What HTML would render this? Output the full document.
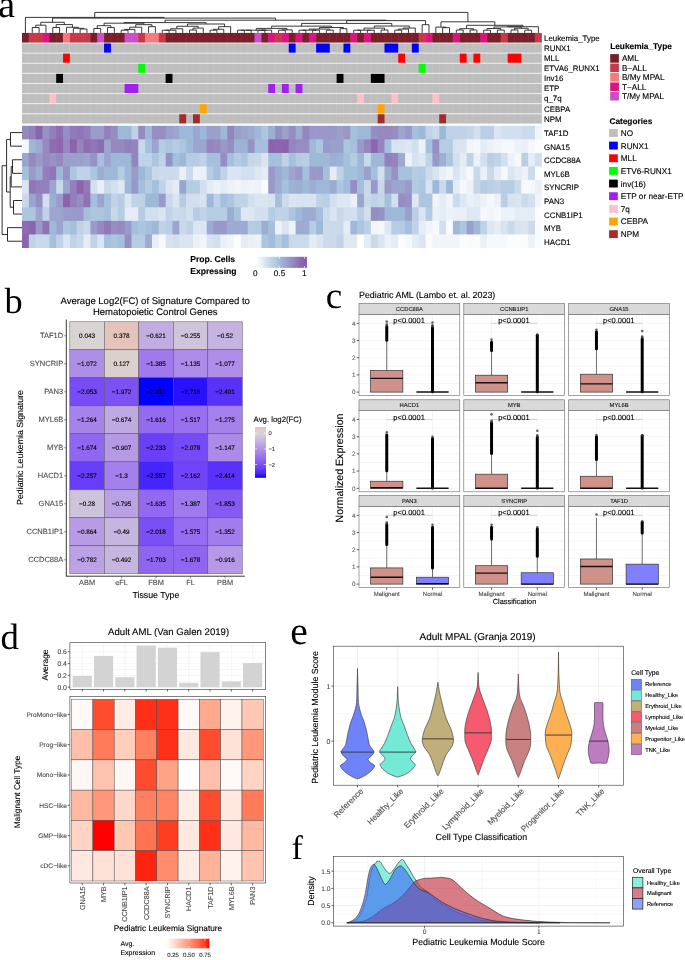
<!DOCTYPE html><html><head><meta charset="utf-8"><style>html,body{margin:0;padding:0;background:#fff;}svg{display:block;will-change:transform;text-rendering:geometricPrecision;}</style></head><body>
<svg width="685" height="960" viewBox="0 0 685 960" shape-rendering="auto">
<rect x="0" y="0" width="685" height="960" fill="#fff"/>
<path d="M32.26 32.9V27.5H39.1V32.9M35.68 27.5V25.2H45.94V32.9M52.78 32.9V27.5H59.62V32.9M80.14 32.9V29H86.98V32.9M73.3 32.9V28.3H83.56V29M66.46 32.9V27.3H78.43V28.3M56.2 27.5V24.6H72.45V27.3M40.81 25.2V22.3H64.32V24.6M93.82 32.9V28.5H100.66V32.9M107.5 32.9V27.55H114.34V32.9M97.24 28.5V25.71H110.92V27.55M121.18 32.9V30.2H128.02V32.9M124.6 30.2V29.44H134.86V32.9M129.73 29.44V27.23H141.7V32.9M148.54 32.9V26.61H155.38V32.9M135.72 27.23V24.67H151.96V26.61M104.08 25.71V23.2H143.84V24.67M162.22 32.9V30.2H169.06V32.9M165.64 30.2V30.2H175.9V32.9M170.77 30.2V28.73H182.74V32.9M189.58 32.9V30H196.42V32.9M193 30V28.09H203.26V32.9M176.75 28.73V26.29H198.13V28.09M210.1 32.9V30.2H216.94V32.9M213.52 30.2V29.29H223.78V32.9M218.65 29.29V26.66H230.62V32.9M187.44 26.29V24H224.63V26.66M123.96 23.2V22.6H206.04V24M237.46 32.9V30.2H244.3V32.9M240.88 30.2V30.2H251.14V32.9M257.98 32.9V30.2H264.82V32.9M261.4 30.2V30.2H271.66V32.9M246.01 30.2V30.2H266.53V30.2M278.5 32.9V30.2H285.34V32.9M281.92 30.2V29.93H292.18V32.9M256.27 30.2V28.42H287.05V29.93M299.02 32.9V30.2H305.86V32.9M312.7 32.9V30.2H319.54V32.9M302.44 30.2V30.13H316.12V30.2M326.38 32.9V30.2H333.22V32.9M309.28 30.13V29.07H329.8V30.2M340.06 32.9V28.65H346.9V32.9M319.54 29.07V27.52H343.48V28.65M271.66 28.42V26.14H331.51V27.52M353.74 32.9V30.2H360.58V32.9M367.42 32.9V30.2H374.26V32.9M357.16 30.2V30.2H370.84V30.2M381.1 32.9V30.01H387.94V32.9M364 30.2V28.1H384.52V30.01M394.78 32.9V30.18H401.62V32.9M398.2 30.18V29.07H408.46V32.9M403.33 29.07V28.04H415.3V32.9M374.26 28.1V26.03H409.31V28.04M301.58 26.14V23.4H391.79V26.03M422.14 32.9V24.7H428.98V32.9M346.69 23.4V20.6H425.56V24.7M165 22.6V20.2H386.12V20.6M52.57 22.3V18.1H275.56V20.2M25.42 32.9V17.4H164.06V18.1M442.66 32.9V27.7H449.5V32.9M435.82 32.9V27.1H446.08V27.7M456.34 32.9V30H463.18V32.9M470.02 32.9V30H476.86V32.9M459.76 30V28.7H473.44V30M483.7 32.9V30.2H490.54V32.9M497.38 32.9V30.08H504.22V32.9M487.12 30.2V28.5H500.8V30.08M511.06 32.9V29.98H517.9V32.9M524.74 32.9V30.2H531.58V32.9M514.48 29.98V28.3H528.16V30.2M493.96 28.5V26.9H521.32V28.3M507.64 26.9V26.7H538.42V32.9M466.6 28.7V25.3H523.03V26.7M440.95 27.1V21.8H494.81V25.3M94.74 17.4V12.4H467.88V21.8" fill="none" stroke="#222" stroke-width="0.9"/>
<text x="-1.8" y="16.6" font-size="38" text-anchor="start" font-weight="normal" fill="#000" font-family='"Liberation Serif", serif'>a</text>
<rect x="22" y="32.9" width="7.54" height="10.11" fill="#7a1e2a"/>
<rect x="28.84" y="32.9" width="7.54" height="10.11" fill="#c8374a"/>
<rect x="35.68" y="32.9" width="7.54" height="10.11" fill="#c8374a"/>
<rect x="42.52" y="32.9" width="7.54" height="10.11" fill="#de137f"/>
<rect x="49.36" y="32.9" width="7.54" height="10.11" fill="#7a1e2a"/>
<rect x="56.2" y="32.9" width="7.54" height="10.11" fill="#7a1e2a"/>
<rect x="63.04" y="32.9" width="7.54" height="10.11" fill="#f37b7d"/>
<rect x="69.88" y="32.9" width="7.54" height="10.11" fill="#c8374a"/>
<rect x="76.72" y="32.9" width="7.54" height="10.11" fill="#c8374a"/>
<rect x="83.56" y="32.9" width="7.54" height="10.11" fill="#c8374a"/>
<rect x="90.4" y="32.9" width="7.54" height="10.11" fill="#7a1e2a"/>
<rect x="97.24" y="32.9" width="7.54" height="10.11" fill="#cc4ec8"/>
<rect x="104.08" y="32.9" width="7.54" height="10.11" fill="#7a1e2a"/>
<rect x="110.92" y="32.9" width="7.54" height="10.11" fill="#7a1e2a"/>
<rect x="117.76" y="32.9" width="7.54" height="10.11" fill="#7a1e2a"/>
<rect x="124.6" y="32.9" width="7.54" height="10.11" fill="#cc4ec8"/>
<rect x="131.44" y="32.9" width="7.54" height="10.11" fill="#cc4ec8"/>
<rect x="138.28" y="32.9" width="7.54" height="10.11" fill="#c8374a"/>
<rect x="145.12" y="32.9" width="7.54" height="10.11" fill="#f37b7d"/>
<rect x="151.96" y="32.9" width="7.54" height="10.11" fill="#f37b7d"/>
<rect x="158.8" y="32.9" width="7.54" height="10.11" fill="#c8374a"/>
<rect x="165.64" y="32.9" width="7.54" height="10.11" fill="#7a1e2a"/>
<rect x="172.48" y="32.9" width="7.54" height="10.11" fill="#7a1e2a"/>
<rect x="179.32" y="32.9" width="7.54" height="10.11" fill="#7a1e2a"/>
<rect x="186.16" y="32.9" width="7.54" height="10.11" fill="#7a1e2a"/>
<rect x="193" y="32.9" width="7.54" height="10.11" fill="#7a1e2a"/>
<rect x="199.84" y="32.9" width="7.54" height="10.11" fill="#7a1e2a"/>
<rect x="206.68" y="32.9" width="7.54" height="10.11" fill="#7a1e2a"/>
<rect x="213.52" y="32.9" width="7.54" height="10.11" fill="#7a1e2a"/>
<rect x="220.36" y="32.9" width="7.54" height="10.11" fill="#7a1e2a"/>
<rect x="227.2" y="32.9" width="7.54" height="10.11" fill="#7a1e2a"/>
<rect x="234.04" y="32.9" width="7.54" height="10.11" fill="#7a1e2a"/>
<rect x="240.88" y="32.9" width="7.54" height="10.11" fill="#7a1e2a"/>
<rect x="247.72" y="32.9" width="7.54" height="10.11" fill="#7a1e2a"/>
<rect x="254.56" y="32.9" width="7.54" height="10.11" fill="#cc4ec8"/>
<rect x="261.4" y="32.9" width="7.54" height="10.11" fill="#7a1e2a"/>
<rect x="268.24" y="32.9" width="7.54" height="10.11" fill="#de137f"/>
<rect x="275.08" y="32.9" width="7.54" height="10.11" fill="#c8374a"/>
<rect x="281.92" y="32.9" width="7.54" height="10.11" fill="#de137f"/>
<rect x="288.76" y="32.9" width="7.54" height="10.11" fill="#7a1e2a"/>
<rect x="295.6" y="32.9" width="7.54" height="10.11" fill="#de137f"/>
<rect x="302.44" y="32.9" width="7.54" height="10.11" fill="#7a1e2a"/>
<rect x="309.28" y="32.9" width="7.54" height="10.11" fill="#de137f"/>
<rect x="316.12" y="32.9" width="7.54" height="10.11" fill="#7a1e2a"/>
<rect x="322.96" y="32.9" width="7.54" height="10.11" fill="#7a1e2a"/>
<rect x="329.8" y="32.9" width="7.54" height="10.11" fill="#7a1e2a"/>
<rect x="336.64" y="32.9" width="7.54" height="10.11" fill="#7a1e2a"/>
<rect x="343.48" y="32.9" width="7.54" height="10.11" fill="#7a1e2a"/>
<rect x="350.32" y="32.9" width="7.54" height="10.11" fill="#de137f"/>
<rect x="357.16" y="32.9" width="7.54" height="10.11" fill="#7a1e2a"/>
<rect x="364" y="32.9" width="7.54" height="10.11" fill="#de137f"/>
<rect x="370.84" y="32.9" width="7.54" height="10.11" fill="#7a1e2a"/>
<rect x="377.68" y="32.9" width="7.54" height="10.11" fill="#7a1e2a"/>
<rect x="384.52" y="32.9" width="7.54" height="10.11" fill="#7a1e2a"/>
<rect x="391.36" y="32.9" width="7.54" height="10.11" fill="#7a1e2a"/>
<rect x="398.2" y="32.9" width="7.54" height="10.11" fill="#7a1e2a"/>
<rect x="405.04" y="32.9" width="7.54" height="10.11" fill="#7a1e2a"/>
<rect x="411.88" y="32.9" width="7.54" height="10.11" fill="#7a1e2a"/>
<rect x="418.72" y="32.9" width="7.54" height="10.11" fill="#c8374a"/>
<rect x="425.56" y="32.9" width="7.54" height="10.11" fill="#de137f"/>
<rect x="432.4" y="32.9" width="7.54" height="10.11" fill="#7a1e2a"/>
<rect x="439.24" y="32.9" width="7.54" height="10.11" fill="#7a1e2a"/>
<rect x="446.08" y="32.9" width="7.54" height="10.11" fill="#7a1e2a"/>
<rect x="452.92" y="32.9" width="7.54" height="10.11" fill="#de137f"/>
<rect x="459.76" y="32.9" width="7.54" height="10.11" fill="#7a1e2a"/>
<rect x="466.6" y="32.9" width="7.54" height="10.11" fill="#7a1e2a"/>
<rect x="473.44" y="32.9" width="7.54" height="10.11" fill="#7a1e2a"/>
<rect x="480.28" y="32.9" width="7.54" height="10.11" fill="#de137f"/>
<rect x="487.12" y="32.9" width="7.54" height="10.11" fill="#7a1e2a"/>
<rect x="493.96" y="32.9" width="7.54" height="10.11" fill="#7a1e2a"/>
<rect x="500.8" y="32.9" width="7.54" height="10.11" fill="#c8374a"/>
<rect x="507.64" y="32.9" width="7.54" height="10.11" fill="#7a1e2a"/>
<rect x="514.48" y="32.9" width="7.54" height="10.11" fill="#7a1e2a"/>
<rect x="521.32" y="32.9" width="7.54" height="10.11" fill="#7a1e2a"/>
<rect x="528.16" y="32.9" width="7.54" height="10.11" fill="#7a1e2a"/>
<rect x="535" y="32.9" width="6.84" height="10.11" fill="#c8374a"/>
<rect x="22" y="43.01" width="519.84" height="10.11" fill="#bebebe"/>
<rect x="104.08" y="43.01" width="6.84" height="10.11" fill="#0000ff"/>
<rect x="288.76" y="43.01" width="6.84" height="10.11" fill="#0000ff"/>
<rect x="316.12" y="43.01" width="13.68" height="10.11" fill="#0000ff"/>
<rect x="343.48" y="43.01" width="6.84" height="10.11" fill="#0000ff"/>
<rect x="384.52" y="43.01" width="13.68" height="10.11" fill="#0000ff"/>
<rect x="411.88" y="43.01" width="6.84" height="10.11" fill="#0000ff"/>
<rect x="22" y="53.12" width="519.84" height="10.11" fill="#bebebe"/>
<rect x="63.04" y="53.12" width="6.84" height="10.11" fill="#ff0000"/>
<rect x="398.2" y="53.12" width="6.84" height="10.11" fill="#ff0000"/>
<rect x="459.76" y="53.12" width="6.84" height="10.11" fill="#ff0000"/>
<rect x="473.44" y="53.12" width="6.84" height="10.11" fill="#ff0000"/>
<rect x="507.64" y="53.12" width="13.68" height="10.11" fill="#ff0000"/>
<rect x="22" y="63.23" width="519.84" height="10.11" fill="#bebebe"/>
<rect x="138.28" y="63.23" width="6.84" height="10.11" fill="#00ff00"/>
<rect x="418.72" y="63.23" width="6.84" height="10.11" fill="#00ff00"/>
<rect x="22" y="73.34" width="519.84" height="10.11" fill="#bebebe"/>
<rect x="56.2" y="73.34" width="6.84" height="10.11" fill="#000000"/>
<rect x="165.64" y="73.34" width="6.84" height="10.11" fill="#000000"/>
<rect x="336.64" y="73.34" width="6.84" height="10.11" fill="#000000"/>
<rect x="370.84" y="73.34" width="13.68" height="10.11" fill="#000000"/>
<rect x="22" y="83.45" width="519.84" height="10.11" fill="#bebebe"/>
<rect x="124.6" y="83.45" width="13.68" height="10.11" fill="#a020f0"/>
<rect x="268.24" y="83.45" width="6.84" height="10.11" fill="#a020f0"/>
<rect x="281.92" y="83.45" width="6.84" height="10.11" fill="#a020f0"/>
<rect x="295.6" y="83.45" width="6.84" height="10.11" fill="#a020f0"/>
<rect x="22" y="93.56" width="519.84" height="10.11" fill="#bebebe"/>
<rect x="49.36" y="93.56" width="6.84" height="10.11" fill="#ffc0cb"/>
<rect x="357.16" y="93.56" width="6.84" height="10.11" fill="#ffc0cb"/>
<rect x="391.36" y="93.56" width="6.84" height="10.11" fill="#ffc0cb"/>
<rect x="432.4" y="93.56" width="6.84" height="10.11" fill="#ffc0cb"/>
<rect x="22" y="103.67" width="519.84" height="10.11" fill="#bebebe"/>
<rect x="199.84" y="103.67" width="6.84" height="10.11" fill="#ffa500"/>
<rect x="377.68" y="103.67" width="6.84" height="10.11" fill="#ffa500"/>
<rect x="22" y="113.78" width="519.84" height="10.11" fill="#bebebe"/>
<rect x="179.32" y="113.78" width="6.84" height="10.11" fill="#a52a2a"/>
<rect x="193" y="113.78" width="6.84" height="10.11" fill="#a52a2a"/>
<rect x="377.68" y="113.78" width="6.84" height="10.11" fill="#a52a2a"/>
<rect x="439.24" y="113.78" width="6.84" height="10.11" fill="#a52a2a"/>
<path d="M28.84 32.9V43.01M35.68 32.9V43.01M42.52 32.9V43.01M49.36 32.9V43.01M56.2 32.9V43.01M63.04 32.9V43.01M69.88 32.9V43.01M76.72 32.9V43.01M83.56 32.9V43.01M90.4 32.9V43.01M97.24 32.9V43.01M104.08 32.9V43.01M110.92 32.9V43.01M117.76 32.9V43.01M124.6 32.9V43.01M131.44 32.9V43.01M138.28 32.9V43.01M145.12 32.9V43.01M151.96 32.9V43.01M158.8 32.9V43.01M165.64 32.9V43.01M172.48 32.9V43.01M179.32 32.9V43.01M186.16 32.9V43.01M193 32.9V43.01M199.84 32.9V43.01M206.68 32.9V43.01M213.52 32.9V43.01M220.36 32.9V43.01M227.2 32.9V43.01M234.04 32.9V43.01M240.88 32.9V43.01M247.72 32.9V43.01M254.56 32.9V43.01M261.4 32.9V43.01M268.24 32.9V43.01M275.08 32.9V43.01M281.92 32.9V43.01M288.76 32.9V43.01M295.6 32.9V43.01M302.44 32.9V43.01M309.28 32.9V43.01M316.12 32.9V43.01M322.96 32.9V43.01M329.8 32.9V43.01M336.64 32.9V43.01M343.48 32.9V43.01M350.32 32.9V43.01M357.16 32.9V43.01M364 32.9V43.01M370.84 32.9V43.01M377.68 32.9V43.01M384.52 32.9V43.01M391.36 32.9V43.01M398.2 32.9V43.01M405.04 32.9V43.01M411.88 32.9V43.01M418.72 32.9V43.01M425.56 32.9V43.01M432.4 32.9V43.01M439.24 32.9V43.01M446.08 32.9V43.01M452.92 32.9V43.01M459.76 32.9V43.01M466.6 32.9V43.01M473.44 32.9V43.01M480.28 32.9V43.01M487.12 32.9V43.01M493.96 32.9V43.01M500.8 32.9V43.01M507.64 32.9V43.01M514.48 32.9V43.01M521.32 32.9V43.01M528.16 32.9V43.01M535 32.9V43.01" fill="none" stroke="#ffffff" stroke-width="0.4" stroke-opacity="0.12"/>
<path d="M28.84 43.01V53.12M35.68 43.01V53.12M42.52 43.01V53.12M49.36 43.01V53.12M56.2 43.01V53.12M63.04 43.01V53.12M69.88 43.01V53.12M76.72 43.01V53.12M83.56 43.01V53.12M90.4 43.01V53.12M97.24 43.01V53.12M117.76 43.01V53.12M124.6 43.01V53.12M131.44 43.01V53.12M138.28 43.01V53.12M145.12 43.01V53.12M151.96 43.01V53.12M158.8 43.01V53.12M165.64 43.01V53.12M172.48 43.01V53.12M179.32 43.01V53.12M186.16 43.01V53.12M193 43.01V53.12M199.84 43.01V53.12M206.68 43.01V53.12M213.52 43.01V53.12M220.36 43.01V53.12M227.2 43.01V53.12M234.04 43.01V53.12M240.88 43.01V53.12M247.72 43.01V53.12M254.56 43.01V53.12M261.4 43.01V53.12M268.24 43.01V53.12M275.08 43.01V53.12M281.92 43.01V53.12M302.44 43.01V53.12M309.28 43.01V53.12M336.64 43.01V53.12M357.16 43.01V53.12M364 43.01V53.12M370.84 43.01V53.12M377.68 43.01V53.12M405.04 43.01V53.12M425.56 43.01V53.12M432.4 43.01V53.12M439.24 43.01V53.12M446.08 43.01V53.12M452.92 43.01V53.12M459.76 43.01V53.12M466.6 43.01V53.12M473.44 43.01V53.12M480.28 43.01V53.12M487.12 43.01V53.12M493.96 43.01V53.12M500.8 43.01V53.12M507.64 43.01V53.12M514.48 43.01V53.12M521.32 43.01V53.12M528.16 43.01V53.12M535 43.01V53.12M28.84 53.12V63.23M35.68 53.12V63.23M42.52 53.12V63.23M49.36 53.12V63.23M56.2 53.12V63.23M76.72 53.12V63.23M83.56 53.12V63.23M90.4 53.12V63.23M97.24 53.12V63.23M104.08 53.12V63.23M110.92 53.12V63.23M117.76 53.12V63.23M124.6 53.12V63.23M131.44 53.12V63.23M138.28 53.12V63.23M145.12 53.12V63.23M151.96 53.12V63.23M158.8 53.12V63.23M165.64 53.12V63.23M172.48 53.12V63.23M179.32 53.12V63.23M186.16 53.12V63.23M193 53.12V63.23M199.84 53.12V63.23M206.68 53.12V63.23M213.52 53.12V63.23M220.36 53.12V63.23M227.2 53.12V63.23M234.04 53.12V63.23M240.88 53.12V63.23M247.72 53.12V63.23M254.56 53.12V63.23M261.4 53.12V63.23M268.24 53.12V63.23M275.08 53.12V63.23M281.92 53.12V63.23M288.76 53.12V63.23M295.6 53.12V63.23M302.44 53.12V63.23M309.28 53.12V63.23M316.12 53.12V63.23M322.96 53.12V63.23M329.8 53.12V63.23M336.64 53.12V63.23M343.48 53.12V63.23M350.32 53.12V63.23M357.16 53.12V63.23M364 53.12V63.23M370.84 53.12V63.23M377.68 53.12V63.23M384.52 53.12V63.23M391.36 53.12V63.23M411.88 53.12V63.23M418.72 53.12V63.23M425.56 53.12V63.23M432.4 53.12V63.23M439.24 53.12V63.23M446.08 53.12V63.23M452.92 53.12V63.23M487.12 53.12V63.23M493.96 53.12V63.23M500.8 53.12V63.23M528.16 53.12V63.23M535 53.12V63.23M28.84 63.23V73.34M35.68 63.23V73.34M42.52 63.23V73.34M49.36 63.23V73.34M56.2 63.23V73.34M63.04 63.23V73.34M69.88 63.23V73.34M76.72 63.23V73.34M83.56 63.23V73.34M90.4 63.23V73.34M97.24 63.23V73.34M104.08 63.23V73.34M110.92 63.23V73.34M117.76 63.23V73.34M124.6 63.23V73.34M131.44 63.23V73.34M151.96 63.23V73.34M158.8 63.23V73.34M165.64 63.23V73.34M172.48 63.23V73.34M179.32 63.23V73.34M186.16 63.23V73.34M193 63.23V73.34M199.84 63.23V73.34M206.68 63.23V73.34M213.52 63.23V73.34M220.36 63.23V73.34M227.2 63.23V73.34M234.04 63.23V73.34M240.88 63.23V73.34M247.72 63.23V73.34M254.56 63.23V73.34M261.4 63.23V73.34M268.24 63.23V73.34M275.08 63.23V73.34M281.92 63.23V73.34M288.76 63.23V73.34M295.6 63.23V73.34M302.44 63.23V73.34M309.28 63.23V73.34M316.12 63.23V73.34M322.96 63.23V73.34M329.8 63.23V73.34M336.64 63.23V73.34M343.48 63.23V73.34M350.32 63.23V73.34M357.16 63.23V73.34M364 63.23V73.34M370.84 63.23V73.34M377.68 63.23V73.34M384.52 63.23V73.34M391.36 63.23V73.34M398.2 63.23V73.34M405.04 63.23V73.34M411.88 63.23V73.34M432.4 63.23V73.34M439.24 63.23V73.34M446.08 63.23V73.34M452.92 63.23V73.34M459.76 63.23V73.34M466.6 63.23V73.34M473.44 63.23V73.34M480.28 63.23V73.34M487.12 63.23V73.34M493.96 63.23V73.34M500.8 63.23V73.34M507.64 63.23V73.34M514.48 63.23V73.34M521.32 63.23V73.34M528.16 63.23V73.34M535 63.23V73.34M28.84 73.34V83.45M35.68 73.34V83.45M42.52 73.34V83.45M49.36 73.34V83.45M69.88 73.34V83.45M76.72 73.34V83.45M83.56 73.34V83.45M90.4 73.34V83.45M97.24 73.34V83.45M104.08 73.34V83.45M110.92 73.34V83.45M117.76 73.34V83.45M124.6 73.34V83.45M131.44 73.34V83.45M138.28 73.34V83.45M145.12 73.34V83.45M151.96 73.34V83.45M158.8 73.34V83.45M179.32 73.34V83.45M186.16 73.34V83.45M193 73.34V83.45M199.84 73.34V83.45M206.68 73.34V83.45M213.52 73.34V83.45M220.36 73.34V83.45M227.2 73.34V83.45M234.04 73.34V83.45M240.88 73.34V83.45M247.72 73.34V83.45M254.56 73.34V83.45M261.4 73.34V83.45M268.24 73.34V83.45M275.08 73.34V83.45M281.92 73.34V83.45M288.76 73.34V83.45M295.6 73.34V83.45M302.44 73.34V83.45M309.28 73.34V83.45M316.12 73.34V83.45M322.96 73.34V83.45M329.8 73.34V83.45M350.32 73.34V83.45M357.16 73.34V83.45M364 73.34V83.45M391.36 73.34V83.45M398.2 73.34V83.45M405.04 73.34V83.45M411.88 73.34V83.45M418.72 73.34V83.45M425.56 73.34V83.45M432.4 73.34V83.45M439.24 73.34V83.45M446.08 73.34V83.45M452.92 73.34V83.45M459.76 73.34V83.45M466.6 73.34V83.45M473.44 73.34V83.45M480.28 73.34V83.45M487.12 73.34V83.45M493.96 73.34V83.45M500.8 73.34V83.45M507.64 73.34V83.45M514.48 73.34V83.45M521.32 73.34V83.45M528.16 73.34V83.45M535 73.34V83.45M28.84 83.45V93.56M35.68 83.45V93.56M42.52 83.45V93.56M49.36 83.45V93.56M56.2 83.45V93.56M63.04 83.45V93.56M69.88 83.45V93.56M76.72 83.45V93.56M83.56 83.45V93.56M90.4 83.45V93.56M97.24 83.45V93.56M104.08 83.45V93.56M110.92 83.45V93.56M117.76 83.45V93.56M145.12 83.45V93.56M151.96 83.45V93.56M158.8 83.45V93.56M165.64 83.45V93.56M172.48 83.45V93.56M179.32 83.45V93.56M186.16 83.45V93.56M193 83.45V93.56M199.84 83.45V93.56M206.68 83.45V93.56M213.52 83.45V93.56M220.36 83.45V93.56M227.2 83.45V93.56M234.04 83.45V93.56M240.88 83.45V93.56M247.72 83.45V93.56M254.56 83.45V93.56M261.4 83.45V93.56M309.28 83.45V93.56M316.12 83.45V93.56M322.96 83.45V93.56M329.8 83.45V93.56M336.64 83.45V93.56M343.48 83.45V93.56M350.32 83.45V93.56M357.16 83.45V93.56M364 83.45V93.56M370.84 83.45V93.56M377.68 83.45V93.56M384.52 83.45V93.56M391.36 83.45V93.56M398.2 83.45V93.56M405.04 83.45V93.56M411.88 83.45V93.56M418.72 83.45V93.56M425.56 83.45V93.56M432.4 83.45V93.56M439.24 83.45V93.56M446.08 83.45V93.56M452.92 83.45V93.56M459.76 83.45V93.56M466.6 83.45V93.56M473.44 83.45V93.56M480.28 83.45V93.56M487.12 83.45V93.56M493.96 83.45V93.56M500.8 83.45V93.56M507.64 83.45V93.56M514.48 83.45V93.56M521.32 83.45V93.56M528.16 83.45V93.56M535 83.45V93.56M28.84 93.56V103.67M35.68 93.56V103.67M42.52 93.56V103.67M63.04 93.56V103.67M69.88 93.56V103.67M76.72 93.56V103.67M83.56 93.56V103.67M90.4 93.56V103.67M97.24 93.56V103.67M104.08 93.56V103.67M110.92 93.56V103.67M117.76 93.56V103.67M124.6 93.56V103.67M131.44 93.56V103.67M138.28 93.56V103.67M145.12 93.56V103.67M151.96 93.56V103.67M158.8 93.56V103.67M165.64 93.56V103.67M172.48 93.56V103.67M179.32 93.56V103.67M186.16 93.56V103.67M193 93.56V103.67M199.84 93.56V103.67M206.68 93.56V103.67M213.52 93.56V103.67M220.36 93.56V103.67M227.2 93.56V103.67M234.04 93.56V103.67M240.88 93.56V103.67M247.72 93.56V103.67M254.56 93.56V103.67M261.4 93.56V103.67M268.24 93.56V103.67M275.08 93.56V103.67M281.92 93.56V103.67M288.76 93.56V103.67M295.6 93.56V103.67M302.44 93.56V103.67M309.28 93.56V103.67M316.12 93.56V103.67M322.96 93.56V103.67M329.8 93.56V103.67M336.64 93.56V103.67M343.48 93.56V103.67M350.32 93.56V103.67M370.84 93.56V103.67M377.68 93.56V103.67M384.52 93.56V103.67M405.04 93.56V103.67M411.88 93.56V103.67M418.72 93.56V103.67M425.56 93.56V103.67M446.08 93.56V103.67M452.92 93.56V103.67M459.76 93.56V103.67M466.6 93.56V103.67M473.44 93.56V103.67M480.28 93.56V103.67M487.12 93.56V103.67M493.96 93.56V103.67M500.8 93.56V103.67M507.64 93.56V103.67M514.48 93.56V103.67M521.32 93.56V103.67M528.16 93.56V103.67M535 93.56V103.67M28.84 103.67V113.78M35.68 103.67V113.78M42.52 103.67V113.78M49.36 103.67V113.78M56.2 103.67V113.78M63.04 103.67V113.78M69.88 103.67V113.78M76.72 103.67V113.78M83.56 103.67V113.78M90.4 103.67V113.78M97.24 103.67V113.78M104.08 103.67V113.78M110.92 103.67V113.78M117.76 103.67V113.78M124.6 103.67V113.78M131.44 103.67V113.78M138.28 103.67V113.78M145.12 103.67V113.78M151.96 103.67V113.78M158.8 103.67V113.78M165.64 103.67V113.78M172.48 103.67V113.78M179.32 103.67V113.78M186.16 103.67V113.78M193 103.67V113.78M213.52 103.67V113.78M220.36 103.67V113.78M227.2 103.67V113.78M234.04 103.67V113.78M240.88 103.67V113.78M247.72 103.67V113.78M254.56 103.67V113.78M261.4 103.67V113.78M268.24 103.67V113.78M275.08 103.67V113.78M281.92 103.67V113.78M288.76 103.67V113.78M295.6 103.67V113.78M302.44 103.67V113.78M309.28 103.67V113.78M316.12 103.67V113.78M322.96 103.67V113.78M329.8 103.67V113.78M336.64 103.67V113.78M343.48 103.67V113.78M350.32 103.67V113.78M357.16 103.67V113.78M364 103.67V113.78M370.84 103.67V113.78M391.36 103.67V113.78M398.2 103.67V113.78M405.04 103.67V113.78M411.88 103.67V113.78M418.72 103.67V113.78M425.56 103.67V113.78M432.4 103.67V113.78M439.24 103.67V113.78M446.08 103.67V113.78M452.92 103.67V113.78M459.76 103.67V113.78M466.6 103.67V113.78M473.44 103.67V113.78M480.28 103.67V113.78M487.12 103.67V113.78M493.96 103.67V113.78M500.8 103.67V113.78M507.64 103.67V113.78M514.48 103.67V113.78M521.32 103.67V113.78M528.16 103.67V113.78M535 103.67V113.78M28.84 113.78V123.89M35.68 113.78V123.89M42.52 113.78V123.89M49.36 113.78V123.89M56.2 113.78V123.89M63.04 113.78V123.89M69.88 113.78V123.89M76.72 113.78V123.89M83.56 113.78V123.89M90.4 113.78V123.89M97.24 113.78V123.89M104.08 113.78V123.89M110.92 113.78V123.89M117.76 113.78V123.89M124.6 113.78V123.89M131.44 113.78V123.89M138.28 113.78V123.89M145.12 113.78V123.89M151.96 113.78V123.89M158.8 113.78V123.89M165.64 113.78V123.89M172.48 113.78V123.89M206.68 113.78V123.89M213.52 113.78V123.89M220.36 113.78V123.89M227.2 113.78V123.89M234.04 113.78V123.89M240.88 113.78V123.89M247.72 113.78V123.89M254.56 113.78V123.89M261.4 113.78V123.89M268.24 113.78V123.89M275.08 113.78V123.89M281.92 113.78V123.89M288.76 113.78V123.89M295.6 113.78V123.89M302.44 113.78V123.89M309.28 113.78V123.89M316.12 113.78V123.89M322.96 113.78V123.89M329.8 113.78V123.89M336.64 113.78V123.89M343.48 113.78V123.89M350.32 113.78V123.89M357.16 113.78V123.89M364 113.78V123.89M370.84 113.78V123.89M391.36 113.78V123.89M398.2 113.78V123.89M405.04 113.78V123.89M411.88 113.78V123.89M418.72 113.78V123.89M425.56 113.78V123.89M432.4 113.78V123.89M452.92 113.78V123.89M459.76 113.78V123.89M466.6 113.78V123.89M473.44 113.78V123.89M480.28 113.78V123.89M487.12 113.78V123.89M493.96 113.78V123.89M500.8 113.78V123.89M507.64 113.78V123.89M514.48 113.78V123.89M521.32 113.78V123.89M528.16 113.78V123.89M535 113.78V123.89" fill="none" stroke="#ffffff" stroke-width="0.4" stroke-opacity="0.2"/>
<path d="M22 43.01H541.84M22 53.12H541.84M22 63.23H541.84M22 73.34H541.84M22 83.45H541.84M22 93.56H541.84M22 103.67H541.84M22 113.78H541.84M22 123.89H541.84" fill="none" stroke="#f2f2f2" stroke-width="0.9"/>
<rect x="22" y="125.8" width="7.54" height="14.28" fill="#9589c0"/>
<rect x="28.84" y="125.8" width="7.54" height="14.28" fill="#937fbb"/>
<rect x="35.68" y="125.8" width="7.54" height="14.28" fill="#8c63ad"/>
<rect x="42.52" y="125.8" width="7.54" height="14.28" fill="#9792c5"/>
<rect x="49.36" y="125.8" width="7.54" height="14.28" fill="#937fbb"/>
<rect x="56.2" y="125.8" width="7.54" height="14.28" fill="#8e6cb2"/>
<rect x="63.04" y="125.8" width="7.54" height="14.28" fill="#968dc2"/>
<rect x="69.88" y="125.8" width="7.54" height="14.28" fill="#927ab9"/>
<rect x="76.72" y="125.8" width="7.54" height="14.28" fill="#9176b7"/>
<rect x="83.56" y="125.8" width="7.54" height="14.28" fill="#937fbb"/>
<rect x="90.4" y="125.8" width="7.54" height="14.28" fill="#999cca"/>
<rect x="97.24" y="125.8" width="7.54" height="14.28" fill="#999cca"/>
<rect x="104.08" y="125.8" width="7.54" height="14.28" fill="#937fbb"/>
<rect x="110.92" y="125.8" width="7.54" height="14.28" fill="#968dc2"/>
<rect x="117.76" y="125.8" width="7.54" height="14.28" fill="#9eb9d8"/>
<rect x="124.6" y="125.8" width="7.54" height="14.28" fill="#9eb9d8"/>
<rect x="131.44" y="125.8" width="7.54" height="14.28" fill="#c0d2e7"/>
<rect x="138.28" y="125.8" width="7.54" height="14.28" fill="#9589c0"/>
<rect x="145.12" y="125.8" width="7.54" height="14.28" fill="#9eb9d8"/>
<rect x="151.96" y="125.8" width="7.54" height="14.28" fill="#968dc2"/>
<rect x="158.8" y="125.8" width="7.54" height="14.28" fill="#968dc2"/>
<rect x="165.64" y="125.8" width="7.54" height="14.28" fill="#9aa0cc"/>
<rect x="172.48" y="125.8" width="7.54" height="14.28" fill="#9ba5cf"/>
<rect x="179.32" y="125.8" width="7.54" height="14.28" fill="#9eb9d8"/>
<rect x="186.16" y="125.8" width="7.54" height="14.28" fill="#9eb9d8"/>
<rect x="193" y="125.8" width="7.54" height="14.28" fill="#9ba5cf"/>
<rect x="199.84" y="125.8" width="7.54" height="14.28" fill="#9eb9d8"/>
<rect x="206.68" y="125.8" width="7.54" height="14.28" fill="#9aa0cc"/>
<rect x="213.52" y="125.8" width="7.54" height="14.28" fill="#9aa0cc"/>
<rect x="220.36" y="125.8" width="7.54" height="14.28" fill="#9eb9d8"/>
<rect x="227.2" y="125.8" width="7.54" height="14.28" fill="#9585be"/>
<rect x="234.04" y="125.8" width="7.54" height="14.28" fill="#9aa0cc"/>
<rect x="240.88" y="125.8" width="7.54" height="14.28" fill="#9ba5cf"/>
<rect x="247.72" y="125.8" width="7.54" height="14.28" fill="#9cabd2"/>
<rect x="254.56" y="125.8" width="7.54" height="14.28" fill="#9eb9d8"/>
<rect x="261.4" y="125.8" width="7.54" height="14.28" fill="#adc6e0"/>
<rect x="268.24" y="125.8" width="7.54" height="14.28" fill="#9cafd3"/>
<rect x="275.08" y="125.8" width="7.54" height="14.28" fill="#968dc2"/>
<rect x="281.92" y="125.8" width="7.54" height="14.28" fill="#9aa0cc"/>
<rect x="288.76" y="125.8" width="7.54" height="14.28" fill="#968dc2"/>
<rect x="295.6" y="125.8" width="7.54" height="14.28" fill="#9cabd2"/>
<rect x="302.44" y="125.8" width="7.54" height="14.28" fill="#9585be"/>
<rect x="309.28" y="125.8" width="7.54" height="14.28" fill="#9998c8"/>
<rect x="316.12" y="125.8" width="7.54" height="14.28" fill="#9998c8"/>
<rect x="322.96" y="125.8" width="7.54" height="14.28" fill="#9998c8"/>
<rect x="329.8" y="125.8" width="7.54" height="14.28" fill="#9998c8"/>
<rect x="336.64" y="125.8" width="7.54" height="14.28" fill="#9aa0cc"/>
<rect x="343.48" y="125.8" width="7.54" height="14.28" fill="#9998c8"/>
<rect x="350.32" y="125.8" width="7.54" height="14.28" fill="#a4c0dc"/>
<rect x="357.16" y="125.8" width="7.54" height="14.28" fill="#9eb9d8"/>
<rect x="364" y="125.8" width="7.54" height="14.28" fill="#9eb9d8"/>
<rect x="370.84" y="125.8" width="7.54" height="14.28" fill="#968dc2"/>
<rect x="377.68" y="125.8" width="7.54" height="14.28" fill="#9589c0"/>
<rect x="384.52" y="125.8" width="7.54" height="14.28" fill="#9589c0"/>
<rect x="391.36" y="125.8" width="7.54" height="14.28" fill="#968dc2"/>
<rect x="398.2" y="125.8" width="7.54" height="14.28" fill="#9ba5cf"/>
<rect x="405.04" y="125.8" width="7.54" height="14.28" fill="#9998c8"/>
<rect x="411.88" y="125.8" width="7.54" height="14.28" fill="#a4c0dc"/>
<rect x="418.72" y="125.8" width="7.54" height="14.28" fill="#9eb9d8"/>
<rect x="425.56" y="125.8" width="7.54" height="14.28" fill="#c0d2e7"/>
<rect x="432.4" y="125.8" width="7.54" height="14.28" fill="#c9d9ea"/>
<rect x="439.24" y="125.8" width="7.54" height="14.28" fill="#9eb9d8"/>
<rect x="446.08" y="125.8" width="7.54" height="14.28" fill="#c0d2e7"/>
<rect x="452.92" y="125.8" width="7.54" height="14.28" fill="#c0d2e7"/>
<rect x="459.76" y="125.8" width="7.54" height="14.28" fill="#c0d2e7"/>
<rect x="466.6" y="125.8" width="7.54" height="14.28" fill="#c5d6e9"/>
<rect x="473.44" y="125.8" width="7.54" height="14.28" fill="#d2dfee"/>
<rect x="480.28" y="125.8" width="7.54" height="14.28" fill="#bacfe5"/>
<rect x="487.12" y="125.8" width="7.54" height="14.28" fill="#bacfe5"/>
<rect x="493.96" y="125.8" width="7.54" height="14.28" fill="#dbe5f1"/>
<rect x="500.8" y="125.8" width="7.54" height="14.28" fill="#d2dfee"/>
<rect x="507.64" y="125.8" width="7.54" height="14.28" fill="#d2dfee"/>
<rect x="514.48" y="125.8" width="7.54" height="14.28" fill="#d2dfee"/>
<rect x="521.32" y="125.8" width="7.54" height="14.28" fill="#ccdbec"/>
<rect x="528.16" y="125.8" width="7.54" height="14.28" fill="#ccdbec"/>
<rect x="535" y="125.8" width="6.84" height="14.28" fill="#f1f5f9"/>
<rect x="22" y="139.38" width="7.54" height="14.28" fill="#f6f9fc"/>
<rect x="28.84" y="139.38" width="7.54" height="14.28" fill="#9eb9d8"/>
<rect x="35.68" y="139.38" width="7.54" height="14.28" fill="#9cabd2"/>
<rect x="42.52" y="139.38" width="7.54" height="14.28" fill="#9589c0"/>
<rect x="49.36" y="139.38" width="7.54" height="14.28" fill="#8e6cb2"/>
<rect x="56.2" y="139.38" width="7.54" height="14.28" fill="#8d66af"/>
<rect x="63.04" y="139.38" width="7.54" height="14.28" fill="#9589c0"/>
<rect x="69.88" y="139.38" width="7.54" height="14.28" fill="#8c63ad"/>
<rect x="76.72" y="139.38" width="7.54" height="14.28" fill="#9585be"/>
<rect x="83.56" y="139.38" width="7.54" height="14.28" fill="#8e6cb2"/>
<rect x="90.4" y="139.38" width="7.54" height="14.28" fill="#9176b7"/>
<rect x="97.24" y="139.38" width="7.54" height="14.28" fill="#8e6cb2"/>
<rect x="104.08" y="139.38" width="7.54" height="14.28" fill="#9ba5cf"/>
<rect x="110.92" y="139.38" width="7.54" height="14.28" fill="#9589c0"/>
<rect x="117.76" y="139.38" width="7.54" height="14.28" fill="#9589c0"/>
<rect x="124.6" y="139.38" width="7.54" height="14.28" fill="#937fbb"/>
<rect x="131.44" y="139.38" width="7.54" height="14.28" fill="#9585be"/>
<rect x="138.28" y="139.38" width="7.54" height="14.28" fill="#c9d9ea"/>
<rect x="145.12" y="139.38" width="7.54" height="14.28" fill="#a4c0dc"/>
<rect x="151.96" y="139.38" width="7.54" height="14.28" fill="#9ba5cf"/>
<rect x="158.8" y="139.38" width="7.54" height="14.28" fill="#b6cce3"/>
<rect x="165.64" y="139.38" width="7.54" height="14.28" fill="#adc6e0"/>
<rect x="172.48" y="139.38" width="7.54" height="14.28" fill="#b6cce3"/>
<rect x="179.32" y="139.38" width="7.54" height="14.28" fill="#adc6e0"/>
<rect x="186.16" y="139.38" width="7.54" height="14.28" fill="#9eb9d8"/>
<rect x="193" y="139.38" width="7.54" height="14.28" fill="#9ba5cf"/>
<rect x="199.84" y="139.38" width="7.54" height="14.28" fill="#9ba5cf"/>
<rect x="206.68" y="139.38" width="7.54" height="14.28" fill="#9585be"/>
<rect x="213.52" y="139.38" width="7.54" height="14.28" fill="#9589c0"/>
<rect x="220.36" y="139.38" width="7.54" height="14.28" fill="#9998c8"/>
<rect x="227.2" y="139.38" width="7.54" height="14.28" fill="#968dc2"/>
<rect x="234.04" y="139.38" width="7.54" height="14.28" fill="#9db3d5"/>
<rect x="240.88" y="139.38" width="7.54" height="14.28" fill="#9db3d5"/>
<rect x="247.72" y="139.38" width="7.54" height="14.28" fill="#9792c5"/>
<rect x="254.56" y="139.38" width="7.54" height="14.28" fill="#a4c0dc"/>
<rect x="261.4" y="139.38" width="7.54" height="14.28" fill="#a4c0dc"/>
<rect x="268.24" y="139.38" width="7.54" height="14.28" fill="#8c63ad"/>
<rect x="275.08" y="139.38" width="7.54" height="14.28" fill="#8d66af"/>
<rect x="281.92" y="139.38" width="7.54" height="14.28" fill="#8c63ad"/>
<rect x="288.76" y="139.38" width="7.54" height="14.28" fill="#9585be"/>
<rect x="295.6" y="139.38" width="7.54" height="14.28" fill="#968dc2"/>
<rect x="302.44" y="139.38" width="7.54" height="14.28" fill="#968dc2"/>
<rect x="309.28" y="139.38" width="7.54" height="14.28" fill="#9eb9d8"/>
<rect x="316.12" y="139.38" width="7.54" height="14.28" fill="#adc6e0"/>
<rect x="322.96" y="139.38" width="7.54" height="14.28" fill="#999cca"/>
<rect x="329.8" y="139.38" width="7.54" height="14.28" fill="#9aa0cc"/>
<rect x="336.64" y="139.38" width="7.54" height="14.28" fill="#9aa0cc"/>
<rect x="343.48" y="139.38" width="7.54" height="14.28" fill="#adc6e0"/>
<rect x="350.32" y="139.38" width="7.54" height="14.28" fill="#a4c0dc"/>
<rect x="357.16" y="139.38" width="7.54" height="14.28" fill="#9998c8"/>
<rect x="364" y="139.38" width="7.54" height="14.28" fill="#9585be"/>
<rect x="370.84" y="139.38" width="7.54" height="14.28" fill="#8d66af"/>
<rect x="377.68" y="139.38" width="7.54" height="14.28" fill="#9585be"/>
<rect x="384.52" y="139.38" width="7.54" height="14.28" fill="#a4c0dc"/>
<rect x="391.36" y="139.38" width="7.54" height="14.28" fill="#d7e3f0"/>
<rect x="398.2" y="139.38" width="7.54" height="14.28" fill="#dbe5f1"/>
<rect x="405.04" y="139.38" width="7.54" height="14.28" fill="#dee8f2"/>
<rect x="411.88" y="139.38" width="7.54" height="14.28" fill="#d2dfee"/>
<rect x="418.72" y="139.38" width="7.54" height="14.28" fill="#edf2f8"/>
<rect x="425.56" y="139.38" width="7.54" height="14.28" fill="#a4c0dc"/>
<rect x="432.4" y="139.38" width="7.54" height="14.28" fill="#968dc2"/>
<rect x="439.24" y="139.38" width="7.54" height="14.28" fill="#b6cce3"/>
<rect x="446.08" y="139.38" width="7.54" height="14.28" fill="#b6cce3"/>
<rect x="452.92" y="139.38" width="7.54" height="14.28" fill="#d7e3f0"/>
<rect x="459.76" y="139.38" width="7.54" height="14.28" fill="#dbe5f1"/>
<rect x="466.6" y="139.38" width="7.54" height="14.28" fill="#f1f5f9"/>
<rect x="473.44" y="139.38" width="7.54" height="14.28" fill="#f6f9fc"/>
<rect x="480.28" y="139.38" width="7.54" height="14.28" fill="#e4ecf5"/>
<rect x="487.12" y="139.38" width="7.54" height="14.28" fill="#edf2f8"/>
<rect x="493.96" y="139.38" width="7.54" height="14.28" fill="#f1f5f9"/>
<rect x="500.8" y="139.38" width="7.54" height="14.28" fill="#f6f9fc"/>
<rect x="507.64" y="139.38" width="7.54" height="14.28" fill="#f6f9fc"/>
<rect x="514.48" y="139.38" width="7.54" height="14.28" fill="#edf2f8"/>
<rect x="521.32" y="139.38" width="7.54" height="14.28" fill="#e9f0f7"/>
<rect x="528.16" y="139.38" width="7.54" height="14.28" fill="#f6f9fc"/>
<rect x="535" y="139.38" width="6.84" height="14.28" fill="#fbfcfe"/>
<rect x="22" y="152.96" width="7.54" height="14.28" fill="#9ba5cf"/>
<rect x="28.84" y="152.96" width="7.54" height="14.28" fill="#9589c0"/>
<rect x="35.68" y="152.96" width="7.54" height="14.28" fill="#999cca"/>
<rect x="42.52" y="152.96" width="7.54" height="14.28" fill="#9589c0"/>
<rect x="49.36" y="152.96" width="7.54" height="14.28" fill="#9792c5"/>
<rect x="56.2" y="152.96" width="7.54" height="14.28" fill="#9589c0"/>
<rect x="63.04" y="152.96" width="7.54" height="14.28" fill="#9aa0cc"/>
<rect x="69.88" y="152.96" width="7.54" height="14.28" fill="#9aa0cc"/>
<rect x="76.72" y="152.96" width="7.54" height="14.28" fill="#9aa0cc"/>
<rect x="83.56" y="152.96" width="7.54" height="14.28" fill="#9ba5cf"/>
<rect x="90.4" y="152.96" width="7.54" height="14.28" fill="#9792c5"/>
<rect x="97.24" y="152.96" width="7.54" height="14.28" fill="#a4c0dc"/>
<rect x="104.08" y="152.96" width="7.54" height="14.28" fill="#9ba5cf"/>
<rect x="110.92" y="152.96" width="7.54" height="14.28" fill="#9eb9d8"/>
<rect x="117.76" y="152.96" width="7.54" height="14.28" fill="#9eb9d8"/>
<rect x="124.6" y="152.96" width="7.54" height="14.28" fill="#9eb9d8"/>
<rect x="131.44" y="152.96" width="7.54" height="14.28" fill="#9585be"/>
<rect x="138.28" y="152.96" width="7.54" height="14.28" fill="#c0d2e7"/>
<rect x="145.12" y="152.96" width="7.54" height="14.28" fill="#c0d2e7"/>
<rect x="151.96" y="152.96" width="7.54" height="14.28" fill="#adc6e0"/>
<rect x="158.8" y="152.96" width="7.54" height="14.28" fill="#c0d2e7"/>
<rect x="165.64" y="152.96" width="7.54" height="14.28" fill="#9792c5"/>
<rect x="172.48" y="152.96" width="7.54" height="14.28" fill="#a4c0dc"/>
<rect x="179.32" y="152.96" width="7.54" height="14.28" fill="#9eb9d8"/>
<rect x="186.16" y="152.96" width="7.54" height="14.28" fill="#b6cce3"/>
<rect x="193" y="152.96" width="7.54" height="14.28" fill="#b6cce3"/>
<rect x="199.84" y="152.96" width="7.54" height="14.28" fill="#c0d2e7"/>
<rect x="206.68" y="152.96" width="7.54" height="14.28" fill="#a4c0dc"/>
<rect x="213.52" y="152.96" width="7.54" height="14.28" fill="#a4c0dc"/>
<rect x="220.36" y="152.96" width="7.54" height="14.28" fill="#968dc2"/>
<rect x="227.2" y="152.96" width="7.54" height="14.28" fill="#a4c0dc"/>
<rect x="234.04" y="152.96" width="7.54" height="14.28" fill="#b6cce3"/>
<rect x="240.88" y="152.96" width="7.54" height="14.28" fill="#adc6e0"/>
<rect x="247.72" y="152.96" width="7.54" height="14.28" fill="#c5d6e9"/>
<rect x="254.56" y="152.96" width="7.54" height="14.28" fill="#c9d9ea"/>
<rect x="261.4" y="152.96" width="7.54" height="14.28" fill="#dbe5f1"/>
<rect x="268.24" y="152.96" width="7.54" height="14.28" fill="#a4c0dc"/>
<rect x="275.08" y="152.96" width="7.54" height="14.28" fill="#a4c0dc"/>
<rect x="281.92" y="152.96" width="7.54" height="14.28" fill="#c0d2e7"/>
<rect x="288.76" y="152.96" width="7.54" height="14.28" fill="#a4c0dc"/>
<rect x="295.6" y="152.96" width="7.54" height="14.28" fill="#b6cce3"/>
<rect x="302.44" y="152.96" width="7.54" height="14.28" fill="#bacfe5"/>
<rect x="309.28" y="152.96" width="7.54" height="14.28" fill="#9eb9d8"/>
<rect x="316.12" y="152.96" width="7.54" height="14.28" fill="#9eb9d8"/>
<rect x="322.96" y="152.96" width="7.54" height="14.28" fill="#9eb9d8"/>
<rect x="329.8" y="152.96" width="7.54" height="14.28" fill="#9cafd3"/>
<rect x="336.64" y="152.96" width="7.54" height="14.28" fill="#9db3d5"/>
<rect x="343.48" y="152.96" width="7.54" height="14.28" fill="#a4c0dc"/>
<rect x="350.32" y="152.96" width="7.54" height="14.28" fill="#b6cce3"/>
<rect x="357.16" y="152.96" width="7.54" height="14.28" fill="#9eb9d8"/>
<rect x="364" y="152.96" width="7.54" height="14.28" fill="#c9d9ea"/>
<rect x="370.84" y="152.96" width="7.54" height="14.28" fill="#9eb9d8"/>
<rect x="377.68" y="152.96" width="7.54" height="14.28" fill="#9eb9d8"/>
<rect x="384.52" y="152.96" width="7.54" height="14.28" fill="#937fbb"/>
<rect x="391.36" y="152.96" width="7.54" height="14.28" fill="#9585be"/>
<rect x="398.2" y="152.96" width="7.54" height="14.28" fill="#9cabd2"/>
<rect x="405.04" y="152.96" width="7.54" height="14.28" fill="#edf2f8"/>
<rect x="411.88" y="152.96" width="7.54" height="14.28" fill="#d7e3f0"/>
<rect x="418.72" y="152.96" width="7.54" height="14.28" fill="#dee8f2"/>
<rect x="425.56" y="152.96" width="7.54" height="14.28" fill="#c0d2e7"/>
<rect x="432.4" y="152.96" width="7.54" height="14.28" fill="#9998c8"/>
<rect x="439.24" y="152.96" width="7.54" height="14.28" fill="#9cafd3"/>
<rect x="446.08" y="152.96" width="7.54" height="14.28" fill="#adc6e0"/>
<rect x="452.92" y="152.96" width="7.54" height="14.28" fill="#d2dfee"/>
<rect x="459.76" y="152.96" width="7.54" height="14.28" fill="#e4ecf5"/>
<rect x="466.6" y="152.96" width="7.54" height="14.28" fill="#c0d2e7"/>
<rect x="473.44" y="152.96" width="7.54" height="14.28" fill="#edf2f8"/>
<rect x="480.28" y="152.96" width="7.54" height="14.28" fill="#d2dfee"/>
<rect x="487.12" y="152.96" width="7.54" height="14.28" fill="#bacfe5"/>
<rect x="493.96" y="152.96" width="7.54" height="14.28" fill="#c0d2e7"/>
<rect x="500.8" y="152.96" width="7.54" height="14.28" fill="#d2dfee"/>
<rect x="507.64" y="152.96" width="7.54" height="14.28" fill="#edf2f8"/>
<rect x="514.48" y="152.96" width="7.54" height="14.28" fill="#f6f9fc"/>
<rect x="521.32" y="152.96" width="7.54" height="14.28" fill="#bacfe5"/>
<rect x="528.16" y="152.96" width="7.54" height="14.28" fill="#e4ecf5"/>
<rect x="535" y="152.96" width="6.84" height="14.28" fill="#d2dfee"/>
<rect x="22" y="166.54" width="7.54" height="14.28" fill="#a4c0dc"/>
<rect x="28.84" y="166.54" width="7.54" height="14.28" fill="#999cca"/>
<rect x="35.68" y="166.54" width="7.54" height="14.28" fill="#9cafd3"/>
<rect x="42.52" y="166.54" width="7.54" height="14.28" fill="#937fbb"/>
<rect x="49.36" y="166.54" width="7.54" height="14.28" fill="#9176b7"/>
<rect x="56.2" y="166.54" width="7.54" height="14.28" fill="#9eb9d8"/>
<rect x="63.04" y="166.54" width="7.54" height="14.28" fill="#9792c5"/>
<rect x="69.88" y="166.54" width="7.54" height="14.28" fill="#adc6e0"/>
<rect x="76.72" y="166.54" width="7.54" height="14.28" fill="#c0d2e7"/>
<rect x="83.56" y="166.54" width="7.54" height="14.28" fill="#c0d2e7"/>
<rect x="90.4" y="166.54" width="7.54" height="14.28" fill="#adc6e0"/>
<rect x="97.24" y="166.54" width="7.54" height="14.28" fill="#9cafd3"/>
<rect x="104.08" y="166.54" width="7.54" height="14.28" fill="#9eb9d8"/>
<rect x="110.92" y="166.54" width="7.54" height="14.28" fill="#9eb9d8"/>
<rect x="117.76" y="166.54" width="7.54" height="14.28" fill="#b6cce3"/>
<rect x="124.6" y="166.54" width="7.54" height="14.28" fill="#9eb9d8"/>
<rect x="131.44" y="166.54" width="7.54" height="14.28" fill="#999cca"/>
<rect x="138.28" y="166.54" width="7.54" height="14.28" fill="#9eb9d8"/>
<rect x="145.12" y="166.54" width="7.54" height="14.28" fill="#adc6e0"/>
<rect x="151.96" y="166.54" width="7.54" height="14.28" fill="#c9d9ea"/>
<rect x="158.8" y="166.54" width="7.54" height="14.28" fill="#ccdbec"/>
<rect x="165.64" y="166.54" width="7.54" height="14.28" fill="#ccdbec"/>
<rect x="172.48" y="166.54" width="7.54" height="14.28" fill="#ccdbec"/>
<rect x="179.32" y="166.54" width="7.54" height="14.28" fill="#e9f0f7"/>
<rect x="186.16" y="166.54" width="7.54" height="14.28" fill="#ccdbec"/>
<rect x="193" y="166.54" width="7.54" height="14.28" fill="#edf2f8"/>
<rect x="199.84" y="166.54" width="7.54" height="14.28" fill="#e9f0f7"/>
<rect x="206.68" y="166.54" width="7.54" height="14.28" fill="#b6cce3"/>
<rect x="213.52" y="166.54" width="7.54" height="14.28" fill="#a4c0dc"/>
<rect x="220.36" y="166.54" width="7.54" height="14.28" fill="#c0d2e7"/>
<rect x="227.2" y="166.54" width="7.54" height="14.28" fill="#dbe5f1"/>
<rect x="234.04" y="166.54" width="7.54" height="14.28" fill="#dbe5f1"/>
<rect x="240.88" y="166.54" width="7.54" height="14.28" fill="#d2dfee"/>
<rect x="247.72" y="166.54" width="7.54" height="14.28" fill="#d2dfee"/>
<rect x="254.56" y="166.54" width="7.54" height="14.28" fill="#dee8f2"/>
<rect x="261.4" y="166.54" width="7.54" height="14.28" fill="#e4ecf5"/>
<rect x="268.24" y="166.54" width="7.54" height="14.28" fill="#9998c8"/>
<rect x="275.08" y="166.54" width="7.54" height="14.28" fill="#9cabd2"/>
<rect x="281.92" y="166.54" width="7.54" height="14.28" fill="#9eb9d8"/>
<rect x="288.76" y="166.54" width="7.54" height="14.28" fill="#9ba5cf"/>
<rect x="295.6" y="166.54" width="7.54" height="14.28" fill="#9998c8"/>
<rect x="302.44" y="166.54" width="7.54" height="14.28" fill="#a4c0dc"/>
<rect x="309.28" y="166.54" width="7.54" height="14.28" fill="#9998c8"/>
<rect x="316.12" y="166.54" width="7.54" height="14.28" fill="#9998c8"/>
<rect x="322.96" y="166.54" width="7.54" height="14.28" fill="#a4c0dc"/>
<rect x="329.8" y="166.54" width="7.54" height="14.28" fill="#e4ecf5"/>
<rect x="336.64" y="166.54" width="7.54" height="14.28" fill="#c0d2e7"/>
<rect x="343.48" y="166.54" width="7.54" height="14.28" fill="#a4c0dc"/>
<rect x="350.32" y="166.54" width="7.54" height="14.28" fill="#a4c0dc"/>
<rect x="357.16" y="166.54" width="7.54" height="14.28" fill="#9eb9d8"/>
<rect x="364" y="166.54" width="7.54" height="14.28" fill="#9aa0cc"/>
<rect x="370.84" y="166.54" width="7.54" height="14.28" fill="#a4c0dc"/>
<rect x="377.68" y="166.54" width="7.54" height="14.28" fill="#d2dfee"/>
<rect x="384.52" y="166.54" width="7.54" height="14.28" fill="#9cafd3"/>
<rect x="391.36" y="166.54" width="7.54" height="14.28" fill="#9792c5"/>
<rect x="398.2" y="166.54" width="7.54" height="14.28" fill="#a8c2de"/>
<rect x="405.04" y="166.54" width="7.54" height="14.28" fill="#a8c2de"/>
<rect x="411.88" y="166.54" width="7.54" height="14.28" fill="#b6cce3"/>
<rect x="418.72" y="166.54" width="7.54" height="14.28" fill="#b3cae2"/>
<rect x="425.56" y="166.54" width="7.54" height="14.28" fill="#ccdbec"/>
<rect x="432.4" y="166.54" width="7.54" height="14.28" fill="#d7e3f0"/>
<rect x="439.24" y="166.54" width="7.54" height="14.28" fill="#e9f0f7"/>
<rect x="446.08" y="166.54" width="7.54" height="14.28" fill="#f1f5f9"/>
<rect x="452.92" y="166.54" width="7.54" height="14.28" fill="#dbe5f1"/>
<rect x="459.76" y="166.54" width="7.54" height="14.28" fill="#e9f0f7"/>
<rect x="466.6" y="166.54" width="7.54" height="14.28" fill="#f6f9fc"/>
<rect x="473.44" y="166.54" width="7.54" height="14.28" fill="#c9d9ea"/>
<rect x="480.28" y="166.54" width="7.54" height="14.28" fill="#e9f0f7"/>
<rect x="487.12" y="166.54" width="7.54" height="14.28" fill="#c9d9ea"/>
<rect x="493.96" y="166.54" width="7.54" height="14.28" fill="#e4ecf5"/>
<rect x="500.8" y="166.54" width="7.54" height="14.28" fill="#f6f9fc"/>
<rect x="507.64" y="166.54" width="7.54" height="14.28" fill="#dbe5f1"/>
<rect x="514.48" y="166.54" width="7.54" height="14.28" fill="#e4ecf5"/>
<rect x="521.32" y="166.54" width="7.54" height="14.28" fill="#edf2f8"/>
<rect x="528.16" y="166.54" width="7.54" height="14.28" fill="#ccdbec"/>
<rect x="535" y="166.54" width="6.84" height="14.28" fill="#fbfcfe"/>
<rect x="22" y="180.12" width="7.54" height="14.28" fill="#dbe5f1"/>
<rect x="28.84" y="180.12" width="7.54" height="14.28" fill="#9176b7"/>
<rect x="35.68" y="180.12" width="7.54" height="14.28" fill="#937fbb"/>
<rect x="42.52" y="180.12" width="7.54" height="14.28" fill="#937fbb"/>
<rect x="49.36" y="180.12" width="7.54" height="14.28" fill="#9ba5cf"/>
<rect x="56.2" y="180.12" width="7.54" height="14.28" fill="#c9d9ea"/>
<rect x="63.04" y="180.12" width="7.54" height="14.28" fill="#9ba5cf"/>
<rect x="69.88" y="180.12" width="7.54" height="14.28" fill="#937fbb"/>
<rect x="76.72" y="180.12" width="7.54" height="14.28" fill="#8c63ad"/>
<rect x="83.56" y="180.12" width="7.54" height="14.28" fill="#927ab9"/>
<rect x="90.4" y="180.12" width="7.54" height="14.28" fill="#d2dfee"/>
<rect x="97.24" y="180.12" width="7.54" height="14.28" fill="#e9f0f7"/>
<rect x="104.08" y="180.12" width="7.54" height="14.28" fill="#c9d9ea"/>
<rect x="110.92" y="180.12" width="7.54" height="14.28" fill="#d2dfee"/>
<rect x="117.76" y="180.12" width="7.54" height="14.28" fill="#dee8f2"/>
<rect x="124.6" y="180.12" width="7.54" height="14.28" fill="#9eb9d8"/>
<rect x="131.44" y="180.12" width="7.54" height="14.28" fill="#9998c8"/>
<rect x="138.28" y="180.12" width="7.54" height="14.28" fill="#a4c0dc"/>
<rect x="145.12" y="180.12" width="7.54" height="14.28" fill="#b6cce3"/>
<rect x="151.96" y="180.12" width="7.54" height="14.28" fill="#a4c0dc"/>
<rect x="158.8" y="180.12" width="7.54" height="14.28" fill="#c0d2e7"/>
<rect x="165.64" y="180.12" width="7.54" height="14.28" fill="#dbe5f1"/>
<rect x="172.48" y="180.12" width="7.54" height="14.28" fill="#e4ecf5"/>
<rect x="179.32" y="180.12" width="7.54" height="14.28" fill="#9ba5cf"/>
<rect x="186.16" y="180.12" width="7.54" height="14.28" fill="#b6cce3"/>
<rect x="193" y="180.12" width="7.54" height="14.28" fill="#b6cce3"/>
<rect x="199.84" y="180.12" width="7.54" height="14.28" fill="#d2dfee"/>
<rect x="206.68" y="180.12" width="7.54" height="14.28" fill="#e4ecf5"/>
<rect x="213.52" y="180.12" width="7.54" height="14.28" fill="#edf2f8"/>
<rect x="220.36" y="180.12" width="7.54" height="14.28" fill="#e4ecf5"/>
<rect x="227.2" y="180.12" width="7.54" height="14.28" fill="#edf2f8"/>
<rect x="234.04" y="180.12" width="7.54" height="14.28" fill="#f1f5f9"/>
<rect x="240.88" y="180.12" width="7.54" height="14.28" fill="#edf2f8"/>
<rect x="247.72" y="180.12" width="7.54" height="14.28" fill="#f1f5f9"/>
<rect x="254.56" y="180.12" width="7.54" height="14.28" fill="#edf2f8"/>
<rect x="261.4" y="180.12" width="7.54" height="14.28" fill="#fafbfd"/>
<rect x="268.24" y="180.12" width="7.54" height="14.28" fill="#9998c8"/>
<rect x="275.08" y="180.12" width="7.54" height="14.28" fill="#9cafd3"/>
<rect x="281.92" y="180.12" width="7.54" height="14.28" fill="#a4c0dc"/>
<rect x="288.76" y="180.12" width="7.54" height="14.28" fill="#9db3d5"/>
<rect x="295.6" y="180.12" width="7.54" height="14.28" fill="#9cafd3"/>
<rect x="302.44" y="180.12" width="7.54" height="14.28" fill="#9eb9d8"/>
<rect x="309.28" y="180.12" width="7.54" height="14.28" fill="#9cafd3"/>
<rect x="316.12" y="180.12" width="7.54" height="14.28" fill="#9eb9d8"/>
<rect x="322.96" y="180.12" width="7.54" height="14.28" fill="#9eb9d8"/>
<rect x="329.8" y="180.12" width="7.54" height="14.28" fill="#9cabd2"/>
<rect x="336.64" y="180.12" width="7.54" height="14.28" fill="#adc6e0"/>
<rect x="343.48" y="180.12" width="7.54" height="14.28" fill="#a0bddb"/>
<rect x="350.32" y="180.12" width="7.54" height="14.28" fill="#968dc2"/>
<rect x="357.16" y="180.12" width="7.54" height="14.28" fill="#a4c0dc"/>
<rect x="364" y="180.12" width="7.54" height="14.28" fill="#c9d9ea"/>
<rect x="370.84" y="180.12" width="7.54" height="14.28" fill="#9998c8"/>
<rect x="377.68" y="180.12" width="7.54" height="14.28" fill="#c9d9ea"/>
<rect x="384.52" y="180.12" width="7.54" height="14.28" fill="#9998c8"/>
<rect x="391.36" y="180.12" width="7.54" height="14.28" fill="#9ba5cf"/>
<rect x="398.2" y="180.12" width="7.54" height="14.28" fill="#9ba5cf"/>
<rect x="405.04" y="180.12" width="7.54" height="14.28" fill="#999cca"/>
<rect x="411.88" y="180.12" width="7.54" height="14.28" fill="#b3cae2"/>
<rect x="418.72" y="180.12" width="7.54" height="14.28" fill="#adc6e0"/>
<rect x="425.56" y="180.12" width="7.54" height="14.28" fill="#d7e3f0"/>
<rect x="432.4" y="180.12" width="7.54" height="14.28" fill="#9eb9d8"/>
<rect x="439.24" y="180.12" width="7.54" height="14.28" fill="#c9d9ea"/>
<rect x="446.08" y="180.12" width="7.54" height="14.28" fill="#9eb9d8"/>
<rect x="452.92" y="180.12" width="7.54" height="14.28" fill="#e4ecf5"/>
<rect x="459.76" y="180.12" width="7.54" height="14.28" fill="#f6f9fc"/>
<rect x="466.6" y="180.12" width="7.54" height="14.28" fill="#edf2f8"/>
<rect x="473.44" y="180.12" width="7.54" height="14.28" fill="#c5d6e9"/>
<rect x="480.28" y="180.12" width="7.54" height="14.28" fill="#b6cce3"/>
<rect x="487.12" y="180.12" width="7.54" height="14.28" fill="#bacfe5"/>
<rect x="493.96" y="180.12" width="7.54" height="14.28" fill="#c0d2e7"/>
<rect x="500.8" y="180.12" width="7.54" height="14.28" fill="#b6cce3"/>
<rect x="507.64" y="180.12" width="7.54" height="14.28" fill="#b6cce3"/>
<rect x="514.48" y="180.12" width="7.54" height="14.28" fill="#ccdbec"/>
<rect x="521.32" y="180.12" width="7.54" height="14.28" fill="#f6f9fc"/>
<rect x="528.16" y="180.12" width="7.54" height="14.28" fill="#f6f9fc"/>
<rect x="535" y="180.12" width="6.84" height="14.28" fill="#e9f0f7"/>
<rect x="22" y="193.7" width="7.54" height="14.28" fill="#c9d9ea"/>
<rect x="28.84" y="193.7" width="7.54" height="14.28" fill="#9ba5cf"/>
<rect x="35.68" y="193.7" width="7.54" height="14.28" fill="#968dc2"/>
<rect x="42.52" y="193.7" width="7.54" height="14.28" fill="#d2dfee"/>
<rect x="49.36" y="193.7" width="7.54" height="14.28" fill="#9cafd3"/>
<rect x="56.2" y="193.7" width="7.54" height="14.28" fill="#999cca"/>
<rect x="63.04" y="193.7" width="7.54" height="14.28" fill="#8c63ad"/>
<rect x="69.88" y="193.7" width="7.54" height="14.28" fill="#937fbb"/>
<rect x="76.72" y="193.7" width="7.54" height="14.28" fill="#968dc2"/>
<rect x="83.56" y="193.7" width="7.54" height="14.28" fill="#9072b5"/>
<rect x="90.4" y="193.7" width="7.54" height="14.28" fill="#a4c0dc"/>
<rect x="97.24" y="193.7" width="7.54" height="14.28" fill="#9ba5cf"/>
<rect x="104.08" y="193.7" width="7.54" height="14.28" fill="#a4c0dc"/>
<rect x="110.92" y="193.7" width="7.54" height="14.28" fill="#c0d2e7"/>
<rect x="117.76" y="193.7" width="7.54" height="14.28" fill="#b6cce3"/>
<rect x="124.6" y="193.7" width="7.54" height="14.28" fill="#dbe5f1"/>
<rect x="131.44" y="193.7" width="7.54" height="14.28" fill="#c0d2e7"/>
<rect x="138.28" y="193.7" width="7.54" height="14.28" fill="#c0d2e7"/>
<rect x="145.12" y="193.7" width="7.54" height="14.28" fill="#9eb9d8"/>
<rect x="151.96" y="193.7" width="7.54" height="14.28" fill="#9eb9d8"/>
<rect x="158.8" y="193.7" width="7.54" height="14.28" fill="#9998c8"/>
<rect x="165.64" y="193.7" width="7.54" height="14.28" fill="#c9d9ea"/>
<rect x="172.48" y="193.7" width="7.54" height="14.28" fill="#dbe5f1"/>
<rect x="179.32" y="193.7" width="7.54" height="14.28" fill="#b6cce3"/>
<rect x="186.16" y="193.7" width="7.54" height="14.28" fill="#d2dfee"/>
<rect x="193" y="193.7" width="7.54" height="14.28" fill="#d2dfee"/>
<rect x="199.84" y="193.7" width="7.54" height="14.28" fill="#d7e3f0"/>
<rect x="206.68" y="193.7" width="7.54" height="14.28" fill="#9eb9d8"/>
<rect x="213.52" y="193.7" width="7.54" height="14.28" fill="#c0d2e7"/>
<rect x="220.36" y="193.7" width="7.54" height="14.28" fill="#a4c0dc"/>
<rect x="227.2" y="193.7" width="7.54" height="14.28" fill="#adc6e0"/>
<rect x="234.04" y="193.7" width="7.54" height="14.28" fill="#c0d2e7"/>
<rect x="240.88" y="193.7" width="7.54" height="14.28" fill="#c0d2e7"/>
<rect x="247.72" y="193.7" width="7.54" height="14.28" fill="#d2dfee"/>
<rect x="254.56" y="193.7" width="7.54" height="14.28" fill="#dbe5f1"/>
<rect x="261.4" y="193.7" width="7.54" height="14.28" fill="#dbe5f1"/>
<rect x="268.24" y="193.7" width="7.54" height="14.28" fill="#d7e3f0"/>
<rect x="275.08" y="193.7" width="7.54" height="14.28" fill="#a4c0dc"/>
<rect x="281.92" y="193.7" width="7.54" height="14.28" fill="#ccdbec"/>
<rect x="288.76" y="193.7" width="7.54" height="14.28" fill="#dbe5f1"/>
<rect x="295.6" y="193.7" width="7.54" height="14.28" fill="#d7e3f0"/>
<rect x="302.44" y="193.7" width="7.54" height="14.28" fill="#d7e3f0"/>
<rect x="309.28" y="193.7" width="7.54" height="14.28" fill="#d7e3f0"/>
<rect x="316.12" y="193.7" width="7.54" height="14.28" fill="#c0d2e7"/>
<rect x="322.96" y="193.7" width="7.54" height="14.28" fill="#bacfe5"/>
<rect x="329.8" y="193.7" width="7.54" height="14.28" fill="#d2dfee"/>
<rect x="336.64" y="193.7" width="7.54" height="14.28" fill="#dee8f2"/>
<rect x="343.48" y="193.7" width="7.54" height="14.28" fill="#dee8f2"/>
<rect x="350.32" y="193.7" width="7.54" height="14.28" fill="#e9f0f7"/>
<rect x="357.16" y="193.7" width="7.54" height="14.28" fill="#9ba5cf"/>
<rect x="364" y="193.7" width="7.54" height="14.28" fill="#c9d9ea"/>
<rect x="370.84" y="193.7" width="7.54" height="14.28" fill="#c0d2e7"/>
<rect x="377.68" y="193.7" width="7.54" height="14.28" fill="#c5d6e9"/>
<rect x="384.52" y="193.7" width="7.54" height="14.28" fill="#a4c0dc"/>
<rect x="391.36" y="193.7" width="7.54" height="14.28" fill="#d2dfee"/>
<rect x="398.2" y="193.7" width="7.54" height="14.28" fill="#968dc2"/>
<rect x="405.04" y="193.7" width="7.54" height="14.28" fill="#9792c5"/>
<rect x="411.88" y="193.7" width="7.54" height="14.28" fill="#dee8f2"/>
<rect x="418.72" y="193.7" width="7.54" height="14.28" fill="#adc6e0"/>
<rect x="425.56" y="193.7" width="7.54" height="14.28" fill="#adc6e0"/>
<rect x="432.4" y="193.7" width="7.54" height="14.28" fill="#f1f5f9"/>
<rect x="439.24" y="193.7" width="7.54" height="14.28" fill="#e4ecf5"/>
<rect x="446.08" y="193.7" width="7.54" height="14.28" fill="#f1f5f9"/>
<rect x="452.92" y="193.7" width="7.54" height="14.28" fill="#ccdbec"/>
<rect x="459.76" y="193.7" width="7.54" height="14.28" fill="#dee8f2"/>
<rect x="466.6" y="193.7" width="7.54" height="14.28" fill="#e9f0f7"/>
<rect x="473.44" y="193.7" width="7.54" height="14.28" fill="#e4ecf5"/>
<rect x="480.28" y="193.7" width="7.54" height="14.28" fill="#edf2f8"/>
<rect x="487.12" y="193.7" width="7.54" height="14.28" fill="#f6f9fc"/>
<rect x="493.96" y="193.7" width="7.54" height="14.28" fill="#edf2f8"/>
<rect x="500.8" y="193.7" width="7.54" height="14.28" fill="#bacfe5"/>
<rect x="507.64" y="193.7" width="7.54" height="14.28" fill="#d7e3f0"/>
<rect x="514.48" y="193.7" width="7.54" height="14.28" fill="#dbe5f1"/>
<rect x="521.32" y="193.7" width="7.54" height="14.28" fill="#ccdbec"/>
<rect x="528.16" y="193.7" width="7.54" height="14.28" fill="#d2dfee"/>
<rect x="535" y="193.7" width="6.84" height="14.28" fill="#f1f5f9"/>
<rect x="22" y="207.28" width="7.54" height="14.28" fill="#adc6e0"/>
<rect x="28.84" y="207.28" width="7.54" height="14.28" fill="#adc6e0"/>
<rect x="35.68" y="207.28" width="7.54" height="14.28" fill="#9ba5cf"/>
<rect x="42.52" y="207.28" width="7.54" height="14.28" fill="#c0d2e7"/>
<rect x="49.36" y="207.28" width="7.54" height="14.28" fill="#9ba5cf"/>
<rect x="56.2" y="207.28" width="7.54" height="14.28" fill="#9ba5cf"/>
<rect x="63.04" y="207.28" width="7.54" height="14.28" fill="#999cca"/>
<rect x="69.88" y="207.28" width="7.54" height="14.28" fill="#999cca"/>
<rect x="76.72" y="207.28" width="7.54" height="14.28" fill="#9998c8"/>
<rect x="83.56" y="207.28" width="7.54" height="14.28" fill="#a4c0dc"/>
<rect x="90.4" y="207.28" width="7.54" height="14.28" fill="#adc6e0"/>
<rect x="97.24" y="207.28" width="7.54" height="14.28" fill="#adc6e0"/>
<rect x="104.08" y="207.28" width="7.54" height="14.28" fill="#a4c0dc"/>
<rect x="110.92" y="207.28" width="7.54" height="14.28" fill="#c9d9ea"/>
<rect x="117.76" y="207.28" width="7.54" height="14.28" fill="#b6cce3"/>
<rect x="124.6" y="207.28" width="7.54" height="14.28" fill="#e4ecf5"/>
<rect x="131.44" y="207.28" width="7.54" height="14.28" fill="#e4ecf5"/>
<rect x="138.28" y="207.28" width="7.54" height="14.28" fill="#b6cce3"/>
<rect x="145.12" y="207.28" width="7.54" height="14.28" fill="#d2dfee"/>
<rect x="151.96" y="207.28" width="7.54" height="14.28" fill="#d2dfee"/>
<rect x="158.8" y="207.28" width="7.54" height="14.28" fill="#dbe5f1"/>
<rect x="165.64" y="207.28" width="7.54" height="14.28" fill="#c0d2e7"/>
<rect x="172.48" y="207.28" width="7.54" height="14.28" fill="#ccdbec"/>
<rect x="179.32" y="207.28" width="7.54" height="14.28" fill="#c9d9ea"/>
<rect x="186.16" y="207.28" width="7.54" height="14.28" fill="#d2dfee"/>
<rect x="193" y="207.28" width="7.54" height="14.28" fill="#b6cce3"/>
<rect x="199.84" y="207.28" width="7.54" height="14.28" fill="#c0d2e7"/>
<rect x="206.68" y="207.28" width="7.54" height="14.28" fill="#b6cce3"/>
<rect x="213.52" y="207.28" width="7.54" height="14.28" fill="#b6cce3"/>
<rect x="220.36" y="207.28" width="7.54" height="14.28" fill="#b6cce3"/>
<rect x="227.2" y="207.28" width="7.54" height="14.28" fill="#9cabd2"/>
<rect x="234.04" y="207.28" width="7.54" height="14.28" fill="#a8c2de"/>
<rect x="240.88" y="207.28" width="7.54" height="14.28" fill="#dee8f2"/>
<rect x="247.72" y="207.28" width="7.54" height="14.28" fill="#dee8f2"/>
<rect x="254.56" y="207.28" width="7.54" height="14.28" fill="#d2dfee"/>
<rect x="261.4" y="207.28" width="7.54" height="14.28" fill="#d2dfee"/>
<rect x="268.24" y="207.28" width="7.54" height="14.28" fill="#b6cce3"/>
<rect x="275.08" y="207.28" width="7.54" height="14.28" fill="#c0d2e7"/>
<rect x="281.92" y="207.28" width="7.54" height="14.28" fill="#c0d2e7"/>
<rect x="288.76" y="207.28" width="7.54" height="14.28" fill="#adc6e0"/>
<rect x="295.6" y="207.28" width="7.54" height="14.28" fill="#9eb9d8"/>
<rect x="302.44" y="207.28" width="7.54" height="14.28" fill="#9cabd2"/>
<rect x="309.28" y="207.28" width="7.54" height="14.28" fill="#9cabd2"/>
<rect x="316.12" y="207.28" width="7.54" height="14.28" fill="#a4c0dc"/>
<rect x="322.96" y="207.28" width="7.54" height="14.28" fill="#ccdbec"/>
<rect x="329.8" y="207.28" width="7.54" height="14.28" fill="#dbe5f1"/>
<rect x="336.64" y="207.28" width="7.54" height="14.28" fill="#c9d9ea"/>
<rect x="343.48" y="207.28" width="7.54" height="14.28" fill="#d2dfee"/>
<rect x="350.32" y="207.28" width="7.54" height="14.28" fill="#d2dfee"/>
<rect x="357.16" y="207.28" width="7.54" height="14.28" fill="#bacfe5"/>
<rect x="364" y="207.28" width="7.54" height="14.28" fill="#d2dfee"/>
<rect x="370.84" y="207.28" width="7.54" height="14.28" fill="#968dc2"/>
<rect x="377.68" y="207.28" width="7.54" height="14.28" fill="#9792c5"/>
<rect x="384.52" y="207.28" width="7.54" height="14.28" fill="#9eb9d8"/>
<rect x="391.36" y="207.28" width="7.54" height="14.28" fill="#9eb9d8"/>
<rect x="398.2" y="207.28" width="7.54" height="14.28" fill="#9eb9d8"/>
<rect x="405.04" y="207.28" width="7.54" height="14.28" fill="#9aa0cc"/>
<rect x="411.88" y="207.28" width="7.54" height="14.28" fill="#bacfe5"/>
<rect x="418.72" y="207.28" width="7.54" height="14.28" fill="#dbe5f1"/>
<rect x="425.56" y="207.28" width="7.54" height="14.28" fill="#b3cae2"/>
<rect x="432.4" y="207.28" width="7.54" height="14.28" fill="#e9f0f7"/>
<rect x="439.24" y="207.28" width="7.54" height="14.28" fill="#e4ecf5"/>
<rect x="446.08" y="207.28" width="7.54" height="14.28" fill="#edf2f8"/>
<rect x="452.92" y="207.28" width="7.54" height="14.28" fill="#e9f0f7"/>
<rect x="459.76" y="207.28" width="7.54" height="14.28" fill="#e9f0f7"/>
<rect x="466.6" y="207.28" width="7.54" height="14.28" fill="#dee8f2"/>
<rect x="473.44" y="207.28" width="7.54" height="14.28" fill="#dee8f2"/>
<rect x="480.28" y="207.28" width="7.54" height="14.28" fill="#f6f9fc"/>
<rect x="487.12" y="207.28" width="7.54" height="14.28" fill="#f1f5f9"/>
<rect x="493.96" y="207.28" width="7.54" height="14.28" fill="#f6f9fc"/>
<rect x="500.8" y="207.28" width="7.54" height="14.28" fill="#edf2f8"/>
<rect x="507.64" y="207.28" width="7.54" height="14.28" fill="#edf2f8"/>
<rect x="514.48" y="207.28" width="7.54" height="14.28" fill="#e4ecf5"/>
<rect x="521.32" y="207.28" width="7.54" height="14.28" fill="#e4ecf5"/>
<rect x="528.16" y="207.28" width="7.54" height="14.28" fill="#e4ecf5"/>
<rect x="535" y="207.28" width="6.84" height="14.28" fill="#fbfcfe"/>
<rect x="22" y="220.86" width="7.54" height="14.28" fill="#8e6cb2"/>
<rect x="28.84" y="220.86" width="7.54" height="14.28" fill="#8c63ad"/>
<rect x="35.68" y="220.86" width="7.54" height="14.28" fill="#9998c8"/>
<rect x="42.52" y="220.86" width="7.54" height="14.28" fill="#9072b5"/>
<rect x="49.36" y="220.86" width="7.54" height="14.28" fill="#9eb9d8"/>
<rect x="56.2" y="220.86" width="7.54" height="14.28" fill="#9ba5cf"/>
<rect x="63.04" y="220.86" width="7.54" height="14.28" fill="#adc6e0"/>
<rect x="69.88" y="220.86" width="7.54" height="14.28" fill="#a4c0dc"/>
<rect x="76.72" y="220.86" width="7.54" height="14.28" fill="#c0d2e7"/>
<rect x="83.56" y="220.86" width="7.54" height="14.28" fill="#c9d9ea"/>
<rect x="90.4" y="220.86" width="7.54" height="14.28" fill="#999cca"/>
<rect x="97.24" y="220.86" width="7.54" height="14.28" fill="#9589c0"/>
<rect x="104.08" y="220.86" width="7.54" height="14.28" fill="#9176b7"/>
<rect x="110.92" y="220.86" width="7.54" height="14.28" fill="#968dc2"/>
<rect x="117.76" y="220.86" width="7.54" height="14.28" fill="#9589c0"/>
<rect x="124.6" y="220.86" width="7.54" height="14.28" fill="#999cca"/>
<rect x="131.44" y="220.86" width="7.54" height="14.28" fill="#a4c0dc"/>
<rect x="138.28" y="220.86" width="7.54" height="14.28" fill="#adc6e0"/>
<rect x="145.12" y="220.86" width="7.54" height="14.28" fill="#a4c0dc"/>
<rect x="151.96" y="220.86" width="7.54" height="14.28" fill="#9eb9d8"/>
<rect x="158.8" y="220.86" width="7.54" height="14.28" fill="#c0d2e7"/>
<rect x="165.64" y="220.86" width="7.54" height="14.28" fill="#bacfe5"/>
<rect x="172.48" y="220.86" width="7.54" height="14.28" fill="#9ba5cf"/>
<rect x="179.32" y="220.86" width="7.54" height="14.28" fill="#c9d9ea"/>
<rect x="186.16" y="220.86" width="7.54" height="14.28" fill="#c0d2e7"/>
<rect x="193" y="220.86" width="7.54" height="14.28" fill="#dbe5f1"/>
<rect x="199.84" y="220.86" width="7.54" height="14.28" fill="#dbe5f1"/>
<rect x="206.68" y="220.86" width="7.54" height="14.28" fill="#9cabd2"/>
<rect x="213.52" y="220.86" width="7.54" height="14.28" fill="#9998c8"/>
<rect x="220.36" y="220.86" width="7.54" height="14.28" fill="#9998c8"/>
<rect x="227.2" y="220.86" width="7.54" height="14.28" fill="#9cabd2"/>
<rect x="234.04" y="220.86" width="7.54" height="14.28" fill="#9cabd2"/>
<rect x="240.88" y="220.86" width="7.54" height="14.28" fill="#9cabd2"/>
<rect x="247.72" y="220.86" width="7.54" height="14.28" fill="#b6cce3"/>
<rect x="254.56" y="220.86" width="7.54" height="14.28" fill="#b3cae2"/>
<rect x="261.4" y="220.86" width="7.54" height="14.28" fill="#9cafd3"/>
<rect x="268.24" y="220.86" width="7.54" height="14.28" fill="#a4c0dc"/>
<rect x="275.08" y="220.86" width="7.54" height="14.28" fill="#edf2f8"/>
<rect x="281.92" y="220.86" width="7.54" height="14.28" fill="#dbe5f1"/>
<rect x="288.76" y="220.86" width="7.54" height="14.28" fill="#edf2f8"/>
<rect x="295.6" y="220.86" width="7.54" height="14.28" fill="#9cabd2"/>
<rect x="302.44" y="220.86" width="7.54" height="14.28" fill="#9cabd2"/>
<rect x="309.28" y="220.86" width="7.54" height="14.28" fill="#b6cce3"/>
<rect x="316.12" y="220.86" width="7.54" height="14.28" fill="#9eb9d8"/>
<rect x="322.96" y="220.86" width="7.54" height="14.28" fill="#ccdbec"/>
<rect x="329.8" y="220.86" width="7.54" height="14.28" fill="#c9d9ea"/>
<rect x="336.64" y="220.86" width="7.54" height="14.28" fill="#c9d9ea"/>
<rect x="343.48" y="220.86" width="7.54" height="14.28" fill="#e4ecf5"/>
<rect x="350.32" y="220.86" width="7.54" height="14.28" fill="#9eb9d8"/>
<rect x="357.16" y="220.86" width="7.54" height="14.28" fill="#adc6e0"/>
<rect x="364" y="220.86" width="7.54" height="14.28" fill="#bacfe5"/>
<rect x="370.84" y="220.86" width="7.54" height="14.28" fill="#f1f5f9"/>
<rect x="377.68" y="220.86" width="7.54" height="14.28" fill="#f6f9fc"/>
<rect x="384.52" y="220.86" width="7.54" height="14.28" fill="#dee8f2"/>
<rect x="391.36" y="220.86" width="7.54" height="14.28" fill="#b6cce3"/>
<rect x="398.2" y="220.86" width="7.54" height="14.28" fill="#b6cce3"/>
<rect x="405.04" y="220.86" width="7.54" height="14.28" fill="#a4c0dc"/>
<rect x="411.88" y="220.86" width="7.54" height="14.28" fill="#c0d2e7"/>
<rect x="418.72" y="220.86" width="7.54" height="14.28" fill="#e4ecf5"/>
<rect x="425.56" y="220.86" width="7.54" height="14.28" fill="#f1f5f9"/>
<rect x="432.4" y="220.86" width="7.54" height="14.28" fill="#f6f9fc"/>
<rect x="439.24" y="220.86" width="7.54" height="14.28" fill="#d2dfee"/>
<rect x="446.08" y="220.86" width="7.54" height="14.28" fill="#fafbfd"/>
<rect x="452.92" y="220.86" width="7.54" height="14.28" fill="#9eb9d8"/>
<rect x="459.76" y="220.86" width="7.54" height="14.28" fill="#adc6e0"/>
<rect x="466.6" y="220.86" width="7.54" height="14.28" fill="#9aa0cc"/>
<rect x="473.44" y="220.86" width="7.54" height="14.28" fill="#9eb9d8"/>
<rect x="480.28" y="220.86" width="7.54" height="14.28" fill="#c0d2e7"/>
<rect x="487.12" y="220.86" width="7.54" height="14.28" fill="#dee8f2"/>
<rect x="493.96" y="220.86" width="7.54" height="14.28" fill="#e4ecf5"/>
<rect x="500.8" y="220.86" width="7.54" height="14.28" fill="#d7e3f0"/>
<rect x="507.64" y="220.86" width="7.54" height="14.28" fill="#c9d9ea"/>
<rect x="514.48" y="220.86" width="7.54" height="14.28" fill="#d7e3f0"/>
<rect x="521.32" y="220.86" width="7.54" height="14.28" fill="#dbe5f1"/>
<rect x="528.16" y="220.86" width="7.54" height="14.28" fill="#ccdbec"/>
<rect x="535" y="220.86" width="6.84" height="14.28" fill="#fafbfd"/>
<rect x="22" y="234.44" width="7.54" height="13.58" fill="#8c63ad"/>
<rect x="28.84" y="234.44" width="7.54" height="13.58" fill="#c0d2e7"/>
<rect x="35.68" y="234.44" width="7.54" height="13.58" fill="#c9d9ea"/>
<rect x="42.52" y="234.44" width="7.54" height="13.58" fill="#c9d9ea"/>
<rect x="49.36" y="234.44" width="7.54" height="13.58" fill="#a4c0dc"/>
<rect x="56.2" y="234.44" width="7.54" height="13.58" fill="#c0d2e7"/>
<rect x="63.04" y="234.44" width="7.54" height="13.58" fill="#dbe5f1"/>
<rect x="69.88" y="234.44" width="7.54" height="13.58" fill="#c0d2e7"/>
<rect x="76.72" y="234.44" width="7.54" height="13.58" fill="#c9d9ea"/>
<rect x="83.56" y="234.44" width="7.54" height="13.58" fill="#e4ecf5"/>
<rect x="90.4" y="234.44" width="7.54" height="13.58" fill="#c0d2e7"/>
<rect x="97.24" y="234.44" width="7.54" height="13.58" fill="#dbe5f1"/>
<rect x="104.08" y="234.44" width="7.54" height="13.58" fill="#a4c0dc"/>
<rect x="110.92" y="234.44" width="7.54" height="13.58" fill="#adc6e0"/>
<rect x="117.76" y="234.44" width="7.54" height="13.58" fill="#a4c0dc"/>
<rect x="124.6" y="234.44" width="7.54" height="13.58" fill="#968dc2"/>
<rect x="131.44" y="234.44" width="7.54" height="13.58" fill="#b6cce3"/>
<rect x="138.28" y="234.44" width="7.54" height="13.58" fill="#b6cce3"/>
<rect x="145.12" y="234.44" width="7.54" height="13.58" fill="#9cabd2"/>
<rect x="151.96" y="234.44" width="7.54" height="13.58" fill="#e9f0f7"/>
<rect x="158.8" y="234.44" width="7.54" height="13.58" fill="#f6f9fc"/>
<rect x="165.64" y="234.44" width="7.54" height="13.58" fill="#d7e3f0"/>
<rect x="172.48" y="234.44" width="7.54" height="13.58" fill="#d2dfee"/>
<rect x="179.32" y="234.44" width="7.54" height="13.58" fill="#dbe5f1"/>
<rect x="186.16" y="234.44" width="7.54" height="13.58" fill="#dbe5f1"/>
<rect x="193" y="234.44" width="7.54" height="13.58" fill="#e9f0f7"/>
<rect x="199.84" y="234.44" width="7.54" height="13.58" fill="#f1f5f9"/>
<rect x="206.68" y="234.44" width="7.54" height="13.58" fill="#d7e3f0"/>
<rect x="213.52" y="234.44" width="7.54" height="13.58" fill="#d2dfee"/>
<rect x="220.36" y="234.44" width="7.54" height="13.58" fill="#e9f0f7"/>
<rect x="227.2" y="234.44" width="7.54" height="13.58" fill="#f1f5f9"/>
<rect x="234.04" y="234.44" width="7.54" height="13.58" fill="#fbfcfe"/>
<rect x="240.88" y="234.44" width="7.54" height="13.58" fill="#e4ecf5"/>
<rect x="247.72" y="234.44" width="7.54" height="13.58" fill="#e9f0f7"/>
<rect x="254.56" y="234.44" width="7.54" height="13.58" fill="#edf2f8"/>
<rect x="261.4" y="234.44" width="7.54" height="13.58" fill="#adc6e0"/>
<rect x="268.24" y="234.44" width="7.54" height="13.58" fill="#a0bddb"/>
<rect x="275.08" y="234.44" width="7.54" height="13.58" fill="#b6cce3"/>
<rect x="281.92" y="234.44" width="7.54" height="13.58" fill="#a4c0dc"/>
<rect x="288.76" y="234.44" width="7.54" height="13.58" fill="#c9d9ea"/>
<rect x="295.6" y="234.44" width="7.54" height="13.58" fill="#ccdbec"/>
<rect x="302.44" y="234.44" width="7.54" height="13.58" fill="#ccdbec"/>
<rect x="309.28" y="234.44" width="7.54" height="13.58" fill="#e4ecf5"/>
<rect x="316.12" y="234.44" width="7.54" height="13.58" fill="#dbe5f1"/>
<rect x="322.96" y="234.44" width="7.54" height="13.58" fill="#ccdbec"/>
<rect x="329.8" y="234.44" width="7.54" height="13.58" fill="#c9d9ea"/>
<rect x="336.64" y="234.44" width="7.54" height="13.58" fill="#c0d2e7"/>
<rect x="343.48" y="234.44" width="7.54" height="13.58" fill="#dee8f2"/>
<rect x="350.32" y="234.44" width="7.54" height="13.58" fill="#dee8f2"/>
<rect x="357.16" y="234.44" width="7.54" height="13.58" fill="#ffffff"/>
<rect x="364" y="234.44" width="7.54" height="13.58" fill="#e4ecf5"/>
<rect x="370.84" y="234.44" width="7.54" height="13.58" fill="#c9d9ea"/>
<rect x="377.68" y="234.44" width="7.54" height="13.58" fill="#dbe5f1"/>
<rect x="384.52" y="234.44" width="7.54" height="13.58" fill="#edf2f8"/>
<rect x="391.36" y="234.44" width="7.54" height="13.58" fill="#e4ecf5"/>
<rect x="398.2" y="234.44" width="7.54" height="13.58" fill="#fbfcfe"/>
<rect x="405.04" y="234.44" width="7.54" height="13.58" fill="#f6f9fc"/>
<rect x="411.88" y="234.44" width="7.54" height="13.58" fill="#e4ecf5"/>
<rect x="418.72" y="234.44" width="7.54" height="13.58" fill="#dbe5f1"/>
<rect x="425.56" y="234.44" width="7.54" height="13.58" fill="#fafbfd"/>
<rect x="432.4" y="234.44" width="7.54" height="13.58" fill="#f1f5f9"/>
<rect x="439.24" y="234.44" width="7.54" height="13.58" fill="#f1f5f9"/>
<rect x="446.08" y="234.44" width="7.54" height="13.58" fill="#f1f5f9"/>
<rect x="452.92" y="234.44" width="7.54" height="13.58" fill="#f1f5f9"/>
<rect x="459.76" y="234.44" width="7.54" height="13.58" fill="#fbfcfe"/>
<rect x="466.6" y="234.44" width="7.54" height="13.58" fill="#fafbfd"/>
<rect x="473.44" y="234.44" width="7.54" height="13.58" fill="#fafbfd"/>
<rect x="480.28" y="234.44" width="7.54" height="13.58" fill="#e9f0f7"/>
<rect x="487.12" y="234.44" width="7.54" height="13.58" fill="#f6f9fc"/>
<rect x="493.96" y="234.44" width="7.54" height="13.58" fill="#f6f9fc"/>
<rect x="500.8" y="234.44" width="7.54" height="13.58" fill="#f6f9fc"/>
<rect x="507.64" y="234.44" width="7.54" height="13.58" fill="#fbfcfe"/>
<rect x="514.48" y="234.44" width="7.54" height="13.58" fill="#fbfcfe"/>
<rect x="521.32" y="234.44" width="7.54" height="13.58" fill="#fafbfd"/>
<rect x="528.16" y="234.44" width="7.54" height="13.58" fill="#edf2f8"/>
<rect x="535" y="234.44" width="6.84" height="13.58" fill="#fafbfd"/>
<text x="544" y="40.76" font-size="7.9" text-anchor="start" font-weight="normal" fill="#000" font-family='"Liberation Sans", sans-serif' stroke="#000" stroke-width="0.12">Leukemia_Type</text>
<text x="544" y="50.87" font-size="7.9" text-anchor="start" font-weight="normal" fill="#000" font-family='"Liberation Sans", sans-serif' stroke="#000" stroke-width="0.12">RUNX1</text>
<text x="544" y="60.98" font-size="7.9" text-anchor="start" font-weight="normal" fill="#000" font-family='"Liberation Sans", sans-serif' stroke="#000" stroke-width="0.12">MLL</text>
<text x="544" y="71.09" font-size="7.9" text-anchor="start" font-weight="normal" fill="#000" font-family='"Liberation Sans", sans-serif' stroke="#000" stroke-width="0.12">ETVA6_RUNX1</text>
<text x="544" y="81.2" font-size="7.9" text-anchor="start" font-weight="normal" fill="#000" font-family='"Liberation Sans", sans-serif' stroke="#000" stroke-width="0.12">Inv16</text>
<text x="544" y="91.31" font-size="7.9" text-anchor="start" font-weight="normal" fill="#000" font-family='"Liberation Sans", sans-serif' stroke="#000" stroke-width="0.12">ETP</text>
<text x="544" y="101.42" font-size="7.9" text-anchor="start" font-weight="normal" fill="#000" font-family='"Liberation Sans", sans-serif' stroke="#000" stroke-width="0.12">q_7q</text>
<text x="544" y="111.53" font-size="7.9" text-anchor="start" font-weight="normal" fill="#000" font-family='"Liberation Sans", sans-serif' stroke="#000" stroke-width="0.12">CEBPA</text>
<text x="544" y="121.64" font-size="7.9" text-anchor="start" font-weight="normal" fill="#000" font-family='"Liberation Sans", sans-serif' stroke="#000" stroke-width="0.12">NPM</text>
<text x="544" y="136.07" font-size="7.9" text-anchor="start" font-weight="normal" fill="#000" font-family='"Liberation Sans", sans-serif' stroke="#000" stroke-width="0.12">TAF1D</text>
<text x="544" y="149.65" font-size="7.9" text-anchor="start" font-weight="normal" fill="#000" font-family='"Liberation Sans", sans-serif' stroke="#000" stroke-width="0.12">GNA15</text>
<text x="544" y="163.23" font-size="7.9" text-anchor="start" font-weight="normal" fill="#000" font-family='"Liberation Sans", sans-serif' stroke="#000" stroke-width="0.12">CCDC88A</text>
<text x="544" y="176.81" font-size="7.9" text-anchor="start" font-weight="normal" fill="#000" font-family='"Liberation Sans", sans-serif' stroke="#000" stroke-width="0.12">MYL6B</text>
<text x="544" y="190.39" font-size="7.9" text-anchor="start" font-weight="normal" fill="#000" font-family='"Liberation Sans", sans-serif' stroke="#000" stroke-width="0.12">SYNCRIP</text>
<text x="544" y="203.97" font-size="7.9" text-anchor="start" font-weight="normal" fill="#000" font-family='"Liberation Sans", sans-serif' stroke="#000" stroke-width="0.12">PAN3</text>
<text x="544" y="217.55" font-size="7.9" text-anchor="start" font-weight="normal" fill="#000" font-family='"Liberation Sans", sans-serif' stroke="#000" stroke-width="0.12">CCNB1IP1</text>
<text x="544" y="231.13" font-size="7.9" text-anchor="start" font-weight="normal" fill="#000" font-family='"Liberation Sans", sans-serif' stroke="#000" stroke-width="0.12">MYB</text>
<text x="544" y="244.71" font-size="7.9" text-anchor="start" font-weight="normal" fill="#000" font-family='"Liberation Sans", sans-serif' stroke="#000" stroke-width="0.12">HACD1</text>
<text x="610.2" y="49.45" font-size="8.3" text-anchor="start" font-weight="bold" fill="#000" font-family='"Liberation Sans", sans-serif' stroke="#000" stroke-width="0.12">Leukemia_Type</text>
<rect x="610.2" y="54.1" width="8.7" height="8.6" fill="#7a1e2a"/>
<text x="621.9" y="61.41" font-size="8.2" text-anchor="start" font-weight="normal" fill="#000" font-family='"Liberation Sans", sans-serif' stroke="#000" stroke-width="0.12">AML</text>
<rect x="610.2" y="63.55" width="8.7" height="8.6" fill="#c8374a"/>
<text x="621.9" y="70.86" font-size="8.2" text-anchor="start" font-weight="normal" fill="#000" font-family='"Liberation Sans", sans-serif' stroke="#000" stroke-width="0.12">B−ALL</text>
<rect x="610.2" y="73" width="8.7" height="8.6" fill="#f37b7d"/>
<text x="621.9" y="80.31" font-size="8.2" text-anchor="start" font-weight="normal" fill="#000" font-family='"Liberation Sans", sans-serif' stroke="#000" stroke-width="0.12">B/My MPAL</text>
<rect x="610.2" y="82.45" width="8.7" height="8.6" fill="#de137f"/>
<text x="621.9" y="89.76" font-size="8.2" text-anchor="start" font-weight="normal" fill="#000" font-family='"Liberation Sans", sans-serif' stroke="#000" stroke-width="0.12">T−ALL</text>
<rect x="610.2" y="91.9" width="8.7" height="8.6" fill="#cc4ec8"/>
<text x="621.9" y="99.21" font-size="8.2" text-anchor="start" font-weight="normal" fill="#000" font-family='"Liberation Sans", sans-serif' stroke="#000" stroke-width="0.12">T/My MPAL</text>
<text x="609.4" y="123.65" font-size="8.3" text-anchor="start" font-weight="bold" fill="#000" font-family='"Liberation Sans", sans-serif' stroke="#000" stroke-width="0.12">Categories</text>
<rect x="609.1" y="129" width="8.7" height="7.9" fill="#bebebe"/>
<text x="620.8" y="135.91" font-size="8.2" text-anchor="start" font-weight="normal" fill="#000" font-family='"Liberation Sans", sans-serif' stroke="#000" stroke-width="0.12">NO</text>
<rect x="609.1" y="141.65" width="8.7" height="7.9" fill="#0000ff"/>
<text x="620.8" y="148.56" font-size="8.2" text-anchor="start" font-weight="normal" fill="#000" font-family='"Liberation Sans", sans-serif' stroke="#000" stroke-width="0.12">RUNX1</text>
<rect x="609.1" y="154.3" width="8.7" height="7.9" fill="#ff0000"/>
<text x="620.8" y="161.21" font-size="8.2" text-anchor="start" font-weight="normal" fill="#000" font-family='"Liberation Sans", sans-serif' stroke="#000" stroke-width="0.12">MLL</text>
<rect x="609.1" y="166.95" width="8.7" height="7.9" fill="#00ff00"/>
<text x="620.8" y="173.86" font-size="8.2" text-anchor="start" font-weight="normal" fill="#000" font-family='"Liberation Sans", sans-serif' stroke="#000" stroke-width="0.12">ETV6-RUNX1</text>
<rect x="609.1" y="179.6" width="8.7" height="7.9" fill="#000000"/>
<text x="620.8" y="186.51" font-size="8.2" text-anchor="start" font-weight="normal" fill="#000" font-family='"Liberation Sans", sans-serif' stroke="#000" stroke-width="0.12">inv(16)</text>
<rect x="609.1" y="192.25" width="8.7" height="7.9" fill="#a020f0"/>
<text x="620.8" y="199.16" font-size="8.2" text-anchor="start" font-weight="normal" fill="#000" font-family='"Liberation Sans", sans-serif' stroke="#000" stroke-width="0.12">ETP or near-ETP</text>
<rect x="609.1" y="204.9" width="8.7" height="7.9" fill="#ffc0cb"/>
<text x="620.8" y="211.81" font-size="8.2" text-anchor="start" font-weight="normal" fill="#000" font-family='"Liberation Sans", sans-serif' stroke="#000" stroke-width="0.12">7q</text>
<rect x="609.1" y="217.55" width="8.7" height="7.9" fill="#ffa500"/>
<text x="620.8" y="224.46" font-size="8.2" text-anchor="start" font-weight="normal" fill="#000" font-family='"Liberation Sans", sans-serif' stroke="#000" stroke-width="0.12">CEBPA</text>
<rect x="609.1" y="230.2" width="8.7" height="7.9" fill="#a52a2a"/>
<text x="620.8" y="237.11" font-size="8.2" text-anchor="start" font-weight="normal" fill="#000" font-family='"Liberation Sans", sans-serif' stroke="#000" stroke-width="0.12">NPM</text>
<text x="190.2" y="261.65" font-size="8.6" text-anchor="start" font-weight="bold" fill="#000" font-family='"Liberation Sans", sans-serif' stroke="#000" stroke-width="0.12">Prop. Cells</text>
<text x="190.2" y="273.65" font-size="8.6" text-anchor="start" font-weight="bold" fill="#000" font-family='"Liberation Sans", sans-serif' stroke="#000" stroke-width="0.12">Expressing</text>
<defs><linearGradient id="ga" x1="0" x2="1" y1="0" y2="0">
<stop offset="0" stop-color="#ffffff"/>
<stop offset="0.1" stop-color="#ebf1f7"/>
<stop offset="0.2" stop-color="#d7e3f0"/>
<stop offset="0.3" stop-color="#c3d5e8"/>
<stop offset="0.4" stop-color="#afc7e0"/>
<stop offset="0.5" stop-color="#9eb8d8"/>
<stop offset="0.6" stop-color="#9aa3cd"/>
<stop offset="0.7" stop-color="#968ec3"/>
<stop offset="0.8" stop-color="#9279b8"/>
<stop offset="0.9" stop-color="#8c63ad"/>
<stop offset="1" stop-color="#8856a7"/>
</linearGradient></defs>
<rect x="255.7" y="256.8" width="51.2" height="11.1" fill="url(#ga)"/>
<line x1="279.3" y1="256.8" x2="279.3" y2="258.6" stroke="#fff" stroke-width="0.8"/>
<line x1="279.3" y1="266.1" x2="279.3" y2="267.9" stroke="#fff" stroke-width="0.8"/>
<line x1="304.4" y1="256.8" x2="304.4" y2="258.6" stroke="#fff" stroke-width="0.8"/>
<line x1="304.4" y1="266.1" x2="304.4" y2="267.9" stroke="#fff" stroke-width="0.8"/>
<text x="255.3" y="276.21" font-size="8.2" text-anchor="middle" font-weight="normal" fill="#000" font-family='"Liberation Sans", sans-serif' stroke="#000" stroke-width="0.12">0</text>
<text x="279.5" y="276.21" font-size="8.2" text-anchor="middle" font-weight="normal" fill="#000" font-family='"Liberation Sans", sans-serif' stroke="#000" stroke-width="0.12">0.5</text>
<text x="304.2" y="276.21" font-size="8.2" text-anchor="middle" font-weight="normal" fill="#000" font-family='"Liberation Sans", sans-serif' stroke="#000" stroke-width="0.12">1</text>
<path d="M22 132.59H10.5V146.17H22M22 159.75H12.5V173.33H22M12.5 166.54H11.2V186.91H22M22 200.49H13.5V214.07H22M11.2 176.72H10.2V207.28H13.5M10.5 139.38H6.6V192H10.2M22 227.65H7.5V241.23H22M6.6 165.69H2.1V234.44H7.5" fill="none" stroke="#222" stroke-width="0.95"/>
<text x="4.4" y="312.9" font-size="36.3" text-anchor="start" font-weight="normal" fill="#000" font-family='"Liberation Serif", serif'>b</text>
<text x="155.2" y="303.57" font-size="9.5" text-anchor="middle" font-weight="normal" fill="#000" font-family='"Liberation Sans", sans-serif' stroke="#000" stroke-width="0.12">Average Log2(FC) of Signature Compared to</text>
<text x="155.2" y="315.27" font-size="9.5" text-anchor="middle" font-weight="normal" fill="#000" font-family='"Liberation Sans", sans-serif' stroke="#000" stroke-width="0.12">Hematopoietic Control Genes</text>
<rect x="69.8" y="321.8" width="34.5" height="28" fill="#d8d4d3" stroke="#555" stroke-width="0.5"/>
<text x="87.05" y="338.07" font-size="6.4" text-anchor="middle" font-weight="normal" fill="#000" font-family='"Liberation Sans", sans-serif' stroke="#000" stroke-width="0.12">0.043</text>
<rect x="104.3" y="321.8" width="34.5" height="28" fill="#e4c4ba" stroke="#555" stroke-width="0.5"/>
<text x="121.55" y="338.07" font-size="6.4" text-anchor="middle" font-weight="normal" fill="#000" font-family='"Liberation Sans", sans-serif' stroke="#000" stroke-width="0.12">0.378</text>
<rect x="138.8" y="321.8" width="34.5" height="28" fill="#c1ade1" stroke="#555" stroke-width="0.5"/>
<text x="156.05" y="338.07" font-size="6.4" text-anchor="middle" font-weight="normal" fill="#000" font-family='"Liberation Sans", sans-serif' stroke="#000" stroke-width="0.12">−0.621</text>
<rect x="173.3" y="321.8" width="34.5" height="28" fill="#cec5db" stroke="#555" stroke-width="0.5"/>
<text x="190.55" y="338.07" font-size="6.4" text-anchor="middle" font-weight="normal" fill="#000" font-family='"Liberation Sans", sans-serif' stroke="#000" stroke-width="0.12">−0.255</text>
<rect x="207.8" y="321.8" width="34.5" height="28" fill="#c5b3e0" stroke="#555" stroke-width="0.5"/>
<text x="225.05" y="338.07" font-size="6.4" text-anchor="middle" font-weight="normal" fill="#000" font-family='"Liberation Sans", sans-serif' stroke="#000" stroke-width="0.12">−0.52</text>
<rect x="69.8" y="349.8" width="34.5" height="28" fill="#ae8fe8" stroke="#555" stroke-width="0.5"/>
<text x="87.05" y="366.07" font-size="6.4" text-anchor="middle" font-weight="normal" fill="#000" font-family='"Liberation Sans", sans-serif' stroke="#000" stroke-width="0.12">−1.072</text>
<rect x="104.3" y="349.8" width="34.5" height="28" fill="#dbd0cd" stroke="#555" stroke-width="0.5"/>
<text x="121.55" y="366.07" font-size="6.4" text-anchor="middle" font-weight="normal" fill="#000" font-family='"Liberation Sans", sans-serif' stroke="#000" stroke-width="0.12">0.127</text>
<rect x="138.8" y="349.8" width="34.5" height="28" fill="#a07aed" stroke="#555" stroke-width="0.5"/>
<text x="156.05" y="366.07" font-size="6.4" text-anchor="middle" font-weight="normal" fill="#000" font-family='"Liberation Sans", sans-serif' stroke="#000" stroke-width="0.12">−1.385</text>
<rect x="173.3" y="349.8" width="34.5" height="28" fill="#ac8be9" stroke="#555" stroke-width="0.5"/>
<text x="190.55" y="366.07" font-size="6.4" text-anchor="middle" font-weight="normal" fill="#000" font-family='"Liberation Sans", sans-serif' stroke="#000" stroke-width="0.12">−1.135</text>
<rect x="207.8" y="349.8" width="34.5" height="28" fill="#ae8ee8" stroke="#555" stroke-width="0.5"/>
<text x="225.05" y="366.07" font-size="6.4" text-anchor="middle" font-weight="normal" fill="#000" font-family='"Liberation Sans", sans-serif' stroke="#000" stroke-width="0.12">−1.077</text>
<rect x="69.8" y="377.8" width="34.5" height="28" fill="#774cf6" stroke="#555" stroke-width="0.5"/>
<text x="87.05" y="394.07" font-size="6.4" text-anchor="middle" font-weight="normal" fill="#000" font-family='"Liberation Sans", sans-serif' stroke="#000" stroke-width="0.12">−2.053</text>
<rect x="104.3" y="377.8" width="34.5" height="28" fill="#7d52f5" stroke="#555" stroke-width="0.5"/>
<text x="121.55" y="394.07" font-size="6.4" text-anchor="middle" font-weight="normal" fill="#000" font-family='"Liberation Sans", sans-serif' stroke="#000" stroke-width="0.12">−1.972</text>
<rect x="138.8" y="377.8" width="34.5" height="28" fill="#0000ff" stroke="#555" stroke-width="0.5"/>
<text x="156.05" y="394.07" font-size="6.4" text-anchor="middle" font-weight="normal" fill="#000" font-family='"Liberation Sans", sans-serif' stroke="#000" stroke-width="0.12">−2.815</text>
<rect x="173.3" y="377.8" width="34.5" height="28" fill="#2b12fe" stroke="#555" stroke-width="0.5"/>
<text x="190.55" y="394.07" font-size="6.4" text-anchor="middle" font-weight="normal" fill="#000" font-family='"Liberation Sans", sans-serif' stroke="#000" stroke-width="0.12">−2.716</text>
<rect x="207.8" y="377.8" width="34.5" height="28" fill="#5932fa" stroke="#555" stroke-width="0.5"/>
<text x="225.05" y="394.07" font-size="6.4" text-anchor="middle" font-weight="normal" fill="#000" font-family='"Liberation Sans", sans-serif' stroke="#000" stroke-width="0.12">−2.401</text>
<rect x="69.8" y="405.8" width="34.5" height="28" fill="#a682eb" stroke="#555" stroke-width="0.5"/>
<text x="87.05" y="422.07" font-size="6.4" text-anchor="middle" font-weight="normal" fill="#000" font-family='"Liberation Sans", sans-serif' stroke="#000" stroke-width="0.12">−1.264</text>
<rect x="104.3" y="405.8" width="34.5" height="28" fill="#bfa9e2" stroke="#555" stroke-width="0.5"/>
<text x="121.55" y="422.07" font-size="6.4" text-anchor="middle" font-weight="normal" fill="#000" font-family='"Liberation Sans", sans-serif' stroke="#000" stroke-width="0.12">−0.674</text>
<rect x="138.8" y="405.8" width="34.5" height="28" fill="#936bf0" stroke="#555" stroke-width="0.5"/>
<text x="156.05" y="422.07" font-size="6.4" text-anchor="middle" font-weight="normal" fill="#000" font-family='"Liberation Sans", sans-serif' stroke="#000" stroke-width="0.12">−1.616</text>
<rect x="173.3" y="405.8" width="34.5" height="28" fill="#9971ef" stroke="#555" stroke-width="0.5"/>
<text x="190.55" y="422.07" font-size="6.4" text-anchor="middle" font-weight="normal" fill="#000" font-family='"Liberation Sans", sans-serif' stroke="#000" stroke-width="0.12">−1.517</text>
<rect x="207.8" y="405.8" width="34.5" height="28" fill="#a581eb" stroke="#555" stroke-width="0.5"/>
<text x="225.05" y="422.07" font-size="6.4" text-anchor="middle" font-weight="normal" fill="#000" font-family='"Liberation Sans", sans-serif' stroke="#000" stroke-width="0.12">−1.275</text>
<rect x="69.8" y="433.8" width="34.5" height="28" fill="#9067f1" stroke="#555" stroke-width="0.5"/>
<text x="87.05" y="450.07" font-size="6.4" text-anchor="middle" font-weight="normal" fill="#000" font-family='"Liberation Sans", sans-serif' stroke="#000" stroke-width="0.12">−1.674</text>
<rect x="104.3" y="433.8" width="34.5" height="28" fill="#b69ae6" stroke="#555" stroke-width="0.5"/>
<text x="121.55" y="450.07" font-size="6.4" text-anchor="middle" font-weight="normal" fill="#000" font-family='"Liberation Sans", sans-serif' stroke="#000" stroke-width="0.12">−0.907</text>
<rect x="138.8" y="433.8" width="34.5" height="28" fill="#693ff8" stroke="#555" stroke-width="0.5"/>
<text x="156.05" y="450.07" font-size="6.4" text-anchor="middle" font-weight="normal" fill="#000" font-family='"Liberation Sans", sans-serif' stroke="#000" stroke-width="0.12">−2.233</text>
<rect x="173.3" y="433.8" width="34.5" height="28" fill="#754bf6" stroke="#555" stroke-width="0.5"/>
<text x="190.55" y="450.07" font-size="6.4" text-anchor="middle" font-weight="normal" fill="#000" font-family='"Liberation Sans", sans-serif' stroke="#000" stroke-width="0.12">−2.078</text>
<rect x="207.8" y="433.8" width="34.5" height="28" fill="#ab8aea" stroke="#555" stroke-width="0.5"/>
<text x="225.05" y="450.07" font-size="6.4" text-anchor="middle" font-weight="normal" fill="#000" font-family='"Liberation Sans", sans-serif' stroke="#000" stroke-width="0.12">−1.147</text>
<rect x="69.8" y="461.8" width="34.5" height="28" fill="#673ef8" stroke="#555" stroke-width="0.5"/>
<text x="87.05" y="478.07" font-size="6.4" text-anchor="middle" font-weight="normal" fill="#000" font-family='"Liberation Sans", sans-serif' stroke="#000" stroke-width="0.12">−2.257</text>
<rect x="104.3" y="461.8" width="34.5" height="28" fill="#a480ec" stroke="#555" stroke-width="0.5"/>
<text x="121.55" y="478.07" font-size="6.4" text-anchor="middle" font-weight="normal" fill="#000" font-family='"Liberation Sans", sans-serif' stroke="#000" stroke-width="0.12">−1.3</text>
<rect x="138.8" y="461.8" width="34.5" height="28" fill="#4624fc" stroke="#555" stroke-width="0.5"/>
<text x="156.05" y="478.07" font-size="6.4" text-anchor="middle" font-weight="normal" fill="#000" font-family='"Liberation Sans", sans-serif' stroke="#000" stroke-width="0.12">−2.557</text>
<rect x="173.3" y="461.8" width="34.5" height="28" fill="#6f45f7" stroke="#555" stroke-width="0.5"/>
<text x="190.55" y="478.07" font-size="6.4" text-anchor="middle" font-weight="normal" fill="#000" font-family='"Liberation Sans", sans-serif' stroke="#000" stroke-width="0.12">−2.162</text>
<rect x="207.8" y="461.8" width="34.5" height="28" fill="#5831fa" stroke="#555" stroke-width="0.5"/>
<text x="225.05" y="478.07" font-size="6.4" text-anchor="middle" font-weight="normal" fill="#000" font-family='"Liberation Sans", sans-serif' stroke="#000" stroke-width="0.12">−2.414</text>
<rect x="69.8" y="489.8" width="34.5" height="28" fill="#cdc3db" stroke="#555" stroke-width="0.5"/>
<text x="87.05" y="506.07" font-size="6.4" text-anchor="middle" font-weight="normal" fill="#000" font-family='"Liberation Sans", sans-serif' stroke="#000" stroke-width="0.12">−0.28</text>
<rect x="104.3" y="489.8" width="34.5" height="28" fill="#baa1e4" stroke="#555" stroke-width="0.5"/>
<text x="121.55" y="506.07" font-size="6.4" text-anchor="middle" font-weight="normal" fill="#000" font-family='"Liberation Sans", sans-serif' stroke="#000" stroke-width="0.12">−0.795</text>
<rect x="138.8" y="489.8" width="34.5" height="28" fill="#9269f0" stroke="#555" stroke-width="0.5"/>
<text x="156.05" y="506.07" font-size="6.4" text-anchor="middle" font-weight="normal" fill="#000" font-family='"Liberation Sans", sans-serif' stroke="#000" stroke-width="0.12">−1.635</text>
<rect x="173.3" y="489.8" width="34.5" height="28" fill="#9f7aed" stroke="#555" stroke-width="0.5"/>
<text x="190.55" y="506.07" font-size="6.4" text-anchor="middle" font-weight="normal" fill="#000" font-family='"Liberation Sans", sans-serif' stroke="#000" stroke-width="0.12">−1.387</text>
<rect x="207.8" y="489.8" width="34.5" height="28" fill="#855af3" stroke="#555" stroke-width="0.5"/>
<text x="225.05" y="506.07" font-size="6.4" text-anchor="middle" font-weight="normal" fill="#000" font-family='"Liberation Sans", sans-serif' stroke="#000" stroke-width="0.12">−1.853</text>
<rect x="69.8" y="517.8" width="34.5" height="28" fill="#b79ce5" stroke="#555" stroke-width="0.5"/>
<text x="87.05" y="534.07" font-size="6.4" text-anchor="middle" font-weight="normal" fill="#000" font-family='"Liberation Sans", sans-serif' stroke="#000" stroke-width="0.12">−0.864</text>
<rect x="104.3" y="517.8" width="34.5" height="28" fill="#c6b5df" stroke="#555" stroke-width="0.5"/>
<text x="121.55" y="534.07" font-size="6.4" text-anchor="middle" font-weight="normal" fill="#000" font-family='"Liberation Sans", sans-serif' stroke="#000" stroke-width="0.12">−0.49</text>
<rect x="138.8" y="517.8" width="34.5" height="28" fill="#7a4ff5" stroke="#555" stroke-width="0.5"/>
<text x="156.05" y="534.07" font-size="6.4" text-anchor="middle" font-weight="normal" fill="#000" font-family='"Liberation Sans", sans-serif' stroke="#000" stroke-width="0.12">−2.018</text>
<rect x="173.3" y="517.8" width="34.5" height="28" fill="#966df0" stroke="#555" stroke-width="0.5"/>
<text x="190.55" y="534.07" font-size="6.4" text-anchor="middle" font-weight="normal" fill="#000" font-family='"Liberation Sans", sans-serif' stroke="#000" stroke-width="0.12">−1.575</text>
<rect x="207.8" y="517.8" width="34.5" height="28" fill="#a17ced" stroke="#555" stroke-width="0.5"/>
<text x="225.05" y="534.07" font-size="6.4" text-anchor="middle" font-weight="normal" fill="#000" font-family='"Liberation Sans", sans-serif' stroke="#000" stroke-width="0.12">−1.352</text>
<rect x="69.8" y="545.8" width="34.5" height="28" fill="#bba2e4" stroke="#555" stroke-width="0.5"/>
<text x="87.05" y="562.07" font-size="6.4" text-anchor="middle" font-weight="normal" fill="#000" font-family='"Liberation Sans", sans-serif' stroke="#000" stroke-width="0.12">−0.782</text>
<rect x="104.3" y="545.8" width="34.5" height="28" fill="#c6b5df" stroke="#555" stroke-width="0.5"/>
<text x="121.55" y="562.07" font-size="6.4" text-anchor="middle" font-weight="normal" fill="#000" font-family='"Liberation Sans", sans-serif' stroke="#000" stroke-width="0.12">−0.492</text>
<rect x="138.8" y="545.8" width="34.5" height="28" fill="#8e65f1" stroke="#555" stroke-width="0.5"/>
<text x="156.05" y="562.07" font-size="6.4" text-anchor="middle" font-weight="normal" fill="#000" font-family='"Liberation Sans", sans-serif' stroke="#000" stroke-width="0.12">−1.703</text>
<rect x="173.3" y="545.8" width="34.5" height="28" fill="#9066f1" stroke="#555" stroke-width="0.5"/>
<text x="190.55" y="562.07" font-size="6.4" text-anchor="middle" font-weight="normal" fill="#000" font-family='"Liberation Sans", sans-serif' stroke="#000" stroke-width="0.12">−1.678</text>
<rect x="207.8" y="545.8" width="34.5" height="28" fill="#b599e6" stroke="#555" stroke-width="0.5"/>
<text x="225.05" y="562.07" font-size="6.4" text-anchor="middle" font-weight="normal" fill="#000" font-family='"Liberation Sans", sans-serif' stroke="#000" stroke-width="0.12">−0.916</text>
<line x1="66.3" y1="319.5" x2="66.3" y2="576.2" stroke="#222" stroke-width="0.9"/>
<line x1="65.9" y1="576.2" x2="244.8" y2="576.2" stroke="#222" stroke-width="0.9"/>
<line x1="64.3" y1="335.8" x2="66.3" y2="335.8" stroke="#333" stroke-width="0.6"/>
<text x="63.2" y="338.46" font-size="7.5" text-anchor="end" font-weight="normal" fill="#4d4d4d" font-family='"Liberation Sans", sans-serif' stroke="#4d4d4d" stroke-width="0.12">TAF1D</text>
<line x1="64.3" y1="363.8" x2="66.3" y2="363.8" stroke="#333" stroke-width="0.6"/>
<text x="63.2" y="366.46" font-size="7.5" text-anchor="end" font-weight="normal" fill="#4d4d4d" font-family='"Liberation Sans", sans-serif' stroke="#4d4d4d" stroke-width="0.12">SYNCRIP</text>
<line x1="64.3" y1="391.8" x2="66.3" y2="391.8" stroke="#333" stroke-width="0.6"/>
<text x="63.2" y="394.46" font-size="7.5" text-anchor="end" font-weight="normal" fill="#4d4d4d" font-family='"Liberation Sans", sans-serif' stroke="#4d4d4d" stroke-width="0.12">PAN3</text>
<line x1="64.3" y1="419.8" x2="66.3" y2="419.8" stroke="#333" stroke-width="0.6"/>
<text x="63.2" y="422.46" font-size="7.5" text-anchor="end" font-weight="normal" fill="#4d4d4d" font-family='"Liberation Sans", sans-serif' stroke="#4d4d4d" stroke-width="0.12">MYL6B</text>
<line x1="64.3" y1="447.8" x2="66.3" y2="447.8" stroke="#333" stroke-width="0.6"/>
<text x="63.2" y="450.46" font-size="7.5" text-anchor="end" font-weight="normal" fill="#4d4d4d" font-family='"Liberation Sans", sans-serif' stroke="#4d4d4d" stroke-width="0.12">MYB</text>
<line x1="64.3" y1="475.8" x2="66.3" y2="475.8" stroke="#333" stroke-width="0.6"/>
<text x="63.2" y="478.46" font-size="7.5" text-anchor="end" font-weight="normal" fill="#4d4d4d" font-family='"Liberation Sans", sans-serif' stroke="#4d4d4d" stroke-width="0.12">HACD1</text>
<line x1="64.3" y1="503.8" x2="66.3" y2="503.8" stroke="#333" stroke-width="0.6"/>
<text x="63.2" y="506.46" font-size="7.5" text-anchor="end" font-weight="normal" fill="#4d4d4d" font-family='"Liberation Sans", sans-serif' stroke="#4d4d4d" stroke-width="0.12">GNA15</text>
<line x1="64.3" y1="531.8" x2="66.3" y2="531.8" stroke="#333" stroke-width="0.6"/>
<text x="63.2" y="534.46" font-size="7.5" text-anchor="end" font-weight="normal" fill="#4d4d4d" font-family='"Liberation Sans", sans-serif' stroke="#4d4d4d" stroke-width="0.12">CCNB1IP1</text>
<line x1="64.3" y1="559.8" x2="66.3" y2="559.8" stroke="#333" stroke-width="0.6"/>
<text x="63.2" y="562.46" font-size="7.5" text-anchor="end" font-weight="normal" fill="#4d4d4d" font-family='"Liberation Sans", sans-serif' stroke="#4d4d4d" stroke-width="0.12">CCDC88A</text>
<line x1="87.05" y1="576.2" x2="87.05" y2="578.2" stroke="#333" stroke-width="0.6"/>
<text x="87.05" y="585.23" font-size="7.4" text-anchor="middle" font-weight="normal" fill="#4d4d4d" font-family='"Liberation Sans", sans-serif' stroke="#4d4d4d" stroke-width="0.12">ABM</text>
<line x1="121.55" y1="576.2" x2="121.55" y2="578.2" stroke="#333" stroke-width="0.6"/>
<text x="121.55" y="585.23" font-size="7.4" text-anchor="middle" font-weight="normal" fill="#4d4d4d" font-family='"Liberation Sans", sans-serif' stroke="#4d4d4d" stroke-width="0.12">eFL</text>
<line x1="156.05" y1="576.2" x2="156.05" y2="578.2" stroke="#333" stroke-width="0.6"/>
<text x="156.05" y="585.23" font-size="7.4" text-anchor="middle" font-weight="normal" fill="#4d4d4d" font-family='"Liberation Sans", sans-serif' stroke="#4d4d4d" stroke-width="0.12">FBM</text>
<line x1="190.55" y1="576.2" x2="190.55" y2="578.2" stroke="#333" stroke-width="0.6"/>
<text x="190.55" y="585.23" font-size="7.4" text-anchor="middle" font-weight="normal" fill="#4d4d4d" font-family='"Liberation Sans", sans-serif' stroke="#4d4d4d" stroke-width="0.12">FL</text>
<line x1="225.05" y1="576.2" x2="225.05" y2="578.2" stroke="#333" stroke-width="0.6"/>
<text x="225.05" y="585.23" font-size="7.4" text-anchor="middle" font-weight="normal" fill="#4d4d4d" font-family='"Liberation Sans", sans-serif' stroke="#4d4d4d" stroke-width="0.12">PBM</text>
<text x="155.9" y="598.32" font-size="8.8" text-anchor="middle" font-weight="normal" fill="#000" font-family='"Liberation Sans", sans-serif' stroke="#000" stroke-width="0.12">Tissue Type</text>
<text x="19.7" y="450.62" font-size="8.8" text-anchor="middle" font-weight="normal" fill="#000" font-family='"Liberation Sans", sans-serif' transform="rotate(-90 19.7 447.5)" stroke="#000" stroke-width="0.12">Pediatric Leukemia Signature</text>
<text x="253.6" y="421.97" font-size="7.8" text-anchor="start" font-weight="normal" fill="#000" font-family='"Liberation Sans", sans-serif' stroke="#000" stroke-width="0.12">Avg. log2(FC)</text>
<defs><linearGradient id="gb" x1="0" x2="0" y1="0" y2="1">
<stop offset="0" stop-color="#e5c3b9"/>
<stop offset="0.05" stop-color="#dfcbc4"/>
<stop offset="0.1" stop-color="#d9d2d0"/>
<stop offset="0.15" stop-color="#d3d0d8"/>
<stop offset="0.2" stop-color="#cec5db"/>
<stop offset="0.25" stop-color="#c8bade"/>
<stop offset="0.3" stop-color="#c3b0e0"/>
<stop offset="0.35" stop-color="#bca5e3"/>
<stop offset="0.4" stop-color="#b69ae6"/>
<stop offset="0.45" stop-color="#af8fe8"/>
<stop offset="0.5" stop-color="#a785eb"/>
<stop offset="0.55" stop-color="#9f7aed"/>
<stop offset="0.6" stop-color="#976fef"/>
<stop offset="0.65" stop-color="#8e64f2"/>
<stop offset="0.7" stop-color="#8459f4"/>
<stop offset="0.75" stop-color="#784ef6"/>
<stop offset="0.8" stop-color="#6c42f8"/>
<stop offset="0.85" stop-color="#5d35fa"/>
<stop offset="0.9" stop-color="#4b28fc"/>
<stop offset="0.95" stop-color="#3116fe"/>
<stop offset="1" stop-color="#0000ff"/>
</linearGradient></defs>
<rect x="255" y="427" width="11" height="50.8" fill="url(#gb)"/>
<line x1="255" y1="433.3" x2="257.2" y2="433.3" stroke="#fff" stroke-width="0.6"/>
<line x1="263.8" y1="433.3" x2="266" y2="433.3" stroke="#fff" stroke-width="0.6"/>
<text x="268.4" y="435.36" font-size="5.8" text-anchor="start" font-weight="normal" fill="#333" font-family='"Liberation Sans", sans-serif' stroke="#333" stroke-width="0.12">0</text>
<line x1="255" y1="448.9" x2="257.2" y2="448.9" stroke="#fff" stroke-width="0.6"/>
<line x1="263.8" y1="448.9" x2="266" y2="448.9" stroke="#fff" stroke-width="0.6"/>
<text x="268.4" y="450.96" font-size="5.8" text-anchor="start" font-weight="normal" fill="#333" font-family='"Liberation Sans", sans-serif' stroke="#333" stroke-width="0.12">−1</text>
<line x1="255" y1="464.5" x2="257.2" y2="464.5" stroke="#fff" stroke-width="0.6"/>
<line x1="263.8" y1="464.5" x2="266" y2="464.5" stroke="#fff" stroke-width="0.6"/>
<text x="268.4" y="466.56" font-size="5.8" text-anchor="start" font-weight="normal" fill="#333" font-family='"Liberation Sans", sans-serif' stroke="#333" stroke-width="0.12">−2</text>
<text x="325.8" y="308.2" font-size="37" text-anchor="start" font-weight="normal" fill="#000" font-family='"Liberation Serif", serif'>c</text>
<text x="359" y="298.46" font-size="8.9" text-anchor="start" font-weight="normal" fill="#000" font-family='"Liberation Sans", sans-serif' stroke="#000" stroke-width="0.12">Pediatric AML (Lambo et. al. 2023)</text>
<rect x="359" y="314.4" width="100.8" height="81.2" fill="#fff"/>
<path d="M359 392.1H459.8M359 383.5H459.8M359 374.9H459.8M359 366.3H459.8M359 357.7H459.8M359 349.1H459.8M359 340.5H459.8M359 331.9H459.8M359 323.3H459.8" fill="none" stroke="#ebebeb" stroke-width="0.5"/>
<path d="M386.75 314.4V395.6M432.5 314.4V395.6" fill="none" stroke="#ebebeb" stroke-width="0.5"/>
<line x1="386.5" y1="323.3" x2="432.5" y2="323.3" stroke="#c0c0c0" stroke-width="0.7"/>
<line x1="386.75" y1="370.6" x2="386.75" y2="340.5" stroke="#333" stroke-width="0.7"/>
<line x1="386.75" y1="340.16" x2="386.75" y2="326.74" stroke="#000" stroke-width="3" stroke-linecap="round"/>
<circle cx="386.75" cy="325.54" r="1.3" fill="#333" fill-opacity="0.75"/>
<circle cx="386.75" cy="324.5" r="1.3" fill="#333" fill-opacity="0.75"/>
<circle cx="386.75" cy="321.58" r="1.3" fill="#333" fill-opacity="0.75"/>
<rect x="370.65" y="370.6" width="32.2" height="21.5" fill="#d0918a" stroke="#333" stroke-width="0.7"/>
<line x1="370.65" y1="378.34" x2="402.85" y2="378.34" stroke="#111" stroke-width="1.4"/>
<line x1="432.5" y1="391.76" x2="432.5" y2="327.6" stroke="#000" stroke-width="3" stroke-linecap="round"/>
<circle cx="432.5" cy="326.4" r="1.3" fill="#333" fill-opacity="0.75"/>
<circle cx="432.5" cy="325.36" r="1.3" fill="#333" fill-opacity="0.75"/>
<circle cx="432.5" cy="322.44" r="1.3" fill="#333" fill-opacity="0.75"/>
<line x1="416.4" y1="392.1" x2="448.6" y2="392.1" stroke="#111" stroke-width="1.5"/>
<text x="409.1" y="323.36" font-size="7.5" text-anchor="middle" font-weight="normal" fill="#000" font-family='"Liberation Sans", sans-serif' stroke="#000" stroke-width="0.12">p&lt;0.0001</text>
<rect x="359" y="314.4" width="100.8" height="81.2" fill="none" stroke="#666" stroke-width="0.6"/>
<rect x="359" y="303.6" width="100.8" height="10.8" fill="#d9d9d9" stroke="#666" stroke-width="0.6"/>
<text x="409.4" y="311.16" font-size="5.8" text-anchor="middle" font-weight="normal" fill="#1a1a1a" font-family='"Liberation Sans", sans-serif' stroke="#1a1a1a" stroke-width="0.12">CCDC88A</text>
<line x1="356.7" y1="392.1" x2="359" y2="392.1" stroke="#333" stroke-width="0.8"/>
<text x="355.4" y="394.34" font-size="6.3" text-anchor="end" font-weight="normal" fill="#666" font-family='"Liberation Sans", sans-serif' stroke="#666" stroke-width="0.12">0</text>
<line x1="356.7" y1="374.9" x2="359" y2="374.9" stroke="#333" stroke-width="0.8"/>
<text x="355.4" y="377.14" font-size="6.3" text-anchor="end" font-weight="normal" fill="#666" font-family='"Liberation Sans", sans-serif' stroke="#666" stroke-width="0.12">1</text>
<line x1="356.7" y1="357.7" x2="359" y2="357.7" stroke="#333" stroke-width="0.8"/>
<text x="355.4" y="359.94" font-size="6.3" text-anchor="end" font-weight="normal" fill="#666" font-family='"Liberation Sans", sans-serif' stroke="#666" stroke-width="0.12">2</text>
<line x1="356.7" y1="340.5" x2="359" y2="340.5" stroke="#333" stroke-width="0.8"/>
<text x="355.4" y="342.74" font-size="6.3" text-anchor="end" font-weight="normal" fill="#666" font-family='"Liberation Sans", sans-serif' stroke="#666" stroke-width="0.12">3</text>
<line x1="356.7" y1="323.3" x2="359" y2="323.3" stroke="#333" stroke-width="0.8"/>
<text x="355.4" y="325.54" font-size="6.3" text-anchor="end" font-weight="normal" fill="#666" font-family='"Liberation Sans", sans-serif' stroke="#666" stroke-width="0.12">4</text>
<rect x="463.8" y="314.4" width="100.8" height="81.2" fill="#fff"/>
<path d="M463.8 392.1H564.6M463.8 383.5H564.6M463.8 374.9H564.6M463.8 366.3H564.6M463.8 357.7H564.6M463.8 349.1H564.6M463.8 340.5H564.6M463.8 331.9H564.6M463.8 323.3H564.6" fill="none" stroke="#ebebeb" stroke-width="0.5"/>
<path d="M491.55 314.4V395.6M537.3 314.4V395.6" fill="none" stroke="#ebebeb" stroke-width="0.5"/>
<line x1="491.3" y1="323.3" x2="537.3" y2="323.3" stroke="#c0c0c0" stroke-width="0.7"/>
<line x1="491.55" y1="375.24" x2="491.55" y2="350.82" stroke="#333" stroke-width="0.7"/>
<line x1="491.55" y1="350.48" x2="491.55" y2="342.22" stroke="#000" stroke-width="3" stroke-linecap="round"/>
<circle cx="491.55" cy="339.64" r="1.3" fill="#333" fill-opacity="0.75"/>
<rect x="475.45" y="375.24" width="32.2" height="16.86" fill="#d0918a" stroke="#333" stroke-width="0.7"/>
<line x1="475.45" y1="382.81" x2="507.65" y2="382.81" stroke="#111" stroke-width="1.4"/>
<line x1="537.3" y1="391.76" x2="537.3" y2="335.34" stroke="#000" stroke-width="3" stroke-linecap="round"/>
<circle cx="537.3" cy="334.48" r="1.3" fill="#333" fill-opacity="0.75"/>
<line x1="521.2" y1="392.1" x2="553.4" y2="392.1" stroke="#111" stroke-width="1.5"/>
<text x="513.9" y="323.36" font-size="7.5" text-anchor="middle" font-weight="normal" fill="#000" font-family='"Liberation Sans", sans-serif' stroke="#000" stroke-width="0.12">p&lt;0.0001</text>
<rect x="463.8" y="314.4" width="100.8" height="81.2" fill="none" stroke="#666" stroke-width="0.6"/>
<rect x="463.8" y="303.6" width="100.8" height="10.8" fill="#d9d9d9" stroke="#666" stroke-width="0.6"/>
<text x="514.2" y="311.16" font-size="5.8" text-anchor="middle" font-weight="normal" fill="#1a1a1a" font-family='"Liberation Sans", sans-serif' stroke="#1a1a1a" stroke-width="0.12">CCNB1IP1</text>
<rect x="568.7" y="314.4" width="100.8" height="81.2" fill="#fff"/>
<path d="M568.7 392.1H669.5M568.7 383.5H669.5M568.7 374.9H669.5M568.7 366.3H669.5M568.7 357.7H669.5M568.7 349.1H669.5M568.7 340.5H669.5M568.7 331.9H669.5M568.7 323.3H669.5" fill="none" stroke="#ebebeb" stroke-width="0.5"/>
<path d="M596.45 314.4V395.6M642.2 314.4V395.6" fill="none" stroke="#ebebeb" stroke-width="0.5"/>
<line x1="596.2" y1="323.3" x2="642.2" y2="323.3" stroke="#c0c0c0" stroke-width="0.7"/>
<line x1="596.45" y1="374.21" x2="596.45" y2="349.1" stroke="#333" stroke-width="0.7"/>
<line x1="596.45" y1="348.76" x2="596.45" y2="331.9" stroke="#000" stroke-width="3" stroke-linecap="round"/>
<circle cx="596.45" cy="329.84" r="1.3" fill="#333" fill-opacity="0.75"/>
<rect x="580.35" y="374.21" width="32.2" height="17.89" fill="#d0918a" stroke="#333" stroke-width="0.7"/>
<line x1="580.35" y1="383.84" x2="612.55" y2="383.84" stroke="#111" stroke-width="1.4"/>
<line x1="642.2" y1="391.76" x2="642.2" y2="338.78" stroke="#000" stroke-width="3" stroke-linecap="round"/>
<circle cx="642.2" cy="337.58" r="1.3" fill="#333" fill-opacity="0.75"/>
<circle cx="642.2" cy="336.54" r="1.3" fill="#333" fill-opacity="0.75"/>
<circle cx="642.2" cy="331.04" r="1.3" fill="#333" fill-opacity="0.75"/>
<line x1="626.1" y1="392.1" x2="658.3" y2="392.1" stroke="#111" stroke-width="1.5"/>
<text x="618.8" y="323.36" font-size="7.5" text-anchor="middle" font-weight="normal" fill="#000" font-family='"Liberation Sans", sans-serif' stroke="#000" stroke-width="0.12">p&lt;0.0001</text>
<rect x="568.7" y="314.4" width="100.8" height="81.2" fill="none" stroke="#666" stroke-width="0.6"/>
<rect x="568.7" y="303.6" width="100.8" height="10.8" fill="#d9d9d9" stroke="#666" stroke-width="0.6"/>
<text x="619.1" y="311.16" font-size="5.8" text-anchor="middle" font-weight="normal" fill="#1a1a1a" font-family='"Liberation Sans", sans-serif' stroke="#1a1a1a" stroke-width="0.12">GNA15</text>
<rect x="359" y="410.6" width="100.8" height="81.2" fill="#fff"/>
<path d="M359 488.3H459.8M359 479.7H459.8M359 471.1H459.8M359 462.5H459.8M359 453.9H459.8M359 445.3H459.8M359 436.7H459.8M359 428.1H459.8M359 419.5H459.8" fill="none" stroke="#ebebeb" stroke-width="0.5"/>
<path d="M386.75 410.6V491.8M432.5 410.6V491.8" fill="none" stroke="#ebebeb" stroke-width="0.5"/>
<line x1="386.5" y1="419.5" x2="432.5" y2="419.5" stroke="#c0c0c0" stroke-width="0.7"/>
<line x1="386.75" y1="481.25" x2="386.75" y2="471.1" stroke="#333" stroke-width="0.7"/>
<line x1="386.75" y1="470.76" x2="386.75" y2="434.98" stroke="#000" stroke-width="3" stroke-linecap="round"/>
<circle cx="386.75" cy="432.4" r="1.3" fill="#333" fill-opacity="0.75"/>
<rect x="370.65" y="481.25" width="32.2" height="7.05" fill="#d0918a" stroke="#333" stroke-width="0.7"/>
<line x1="370.65" y1="487.78" x2="402.85" y2="487.78" stroke="#111" stroke-width="1.4"/>
<line x1="432.5" y1="487.96" x2="432.5" y2="438.42" stroke="#000" stroke-width="3" stroke-linecap="round"/>
<circle cx="432.5" cy="436.7" r="1.3" fill="#333" fill-opacity="0.75"/>
<line x1="416.4" y1="488.3" x2="448.6" y2="488.3" stroke="#111" stroke-width="1.5"/>
<text x="409.1" y="419.56" font-size="7.5" text-anchor="middle" font-weight="normal" fill="#000" font-family='"Liberation Sans", sans-serif' stroke="#000" stroke-width="0.12">p&lt;0.0001</text>
<rect x="359" y="410.6" width="100.8" height="81.2" fill="none" stroke="#666" stroke-width="0.6"/>
<rect x="359" y="399.8" width="100.8" height="10.8" fill="#d9d9d9" stroke="#666" stroke-width="0.6"/>
<text x="409.4" y="407.36" font-size="5.8" text-anchor="middle" font-weight="normal" fill="#1a1a1a" font-family='"Liberation Sans", sans-serif' stroke="#1a1a1a" stroke-width="0.12">HACD1</text>
<line x1="356.7" y1="488.3" x2="359" y2="488.3" stroke="#333" stroke-width="0.8"/>
<text x="355.4" y="490.54" font-size="6.3" text-anchor="end" font-weight="normal" fill="#666" font-family='"Liberation Sans", sans-serif' stroke="#666" stroke-width="0.12">0</text>
<line x1="356.7" y1="471.1" x2="359" y2="471.1" stroke="#333" stroke-width="0.8"/>
<text x="355.4" y="473.34" font-size="6.3" text-anchor="end" font-weight="normal" fill="#666" font-family='"Liberation Sans", sans-serif' stroke="#666" stroke-width="0.12">1</text>
<line x1="356.7" y1="453.9" x2="359" y2="453.9" stroke="#333" stroke-width="0.8"/>
<text x="355.4" y="456.14" font-size="6.3" text-anchor="end" font-weight="normal" fill="#666" font-family='"Liberation Sans", sans-serif' stroke="#666" stroke-width="0.12">2</text>
<line x1="356.7" y1="436.7" x2="359" y2="436.7" stroke="#333" stroke-width="0.8"/>
<text x="355.4" y="438.94" font-size="6.3" text-anchor="end" font-weight="normal" fill="#666" font-family='"Liberation Sans", sans-serif' stroke="#666" stroke-width="0.12">3</text>
<line x1="356.7" y1="419.5" x2="359" y2="419.5" stroke="#333" stroke-width="0.8"/>
<text x="355.4" y="421.74" font-size="6.3" text-anchor="end" font-weight="normal" fill="#666" font-family='"Liberation Sans", sans-serif' stroke="#666" stroke-width="0.12">4</text>
<rect x="463.8" y="410.6" width="100.8" height="81.2" fill="#fff"/>
<path d="M463.8 488.3H564.6M463.8 479.7H564.6M463.8 471.1H564.6M463.8 462.5H564.6M463.8 453.9H564.6M463.8 445.3H564.6M463.8 436.7H564.6M463.8 428.1H564.6M463.8 419.5H564.6" fill="none" stroke="#ebebeb" stroke-width="0.5"/>
<path d="M491.55 410.6V491.8M537.3 410.6V491.8" fill="none" stroke="#ebebeb" stroke-width="0.5"/>
<line x1="491.3" y1="419.5" x2="537.3" y2="419.5" stroke="#c0c0c0" stroke-width="0.7"/>
<line x1="491.55" y1="474.2" x2="491.55" y2="453.9" stroke="#333" stroke-width="0.7"/>
<line x1="491.55" y1="453.56" x2="491.55" y2="422.94" stroke="#000" stroke-width="3" stroke-linecap="round"/>
<circle cx="491.55" cy="421.74" r="1.3" fill="#333" fill-opacity="0.75"/>
<circle cx="491.55" cy="420.7" r="1.3" fill="#333" fill-opacity="0.75"/>
<circle cx="491.55" cy="414.34" r="1.3" fill="#333" fill-opacity="0.75"/>
<rect x="475.45" y="474.2" width="32.2" height="14.1" fill="#d0918a" stroke="#333" stroke-width="0.7"/>
<line x1="475.45" y1="488.3" x2="507.65" y2="488.3" stroke="#111" stroke-width="1.4"/>
<line x1="537.3" y1="487.96" x2="537.3" y2="437.56" stroke="#000" stroke-width="3" stroke-linecap="round"/>
<circle cx="537.3" cy="436.36" r="1.3" fill="#333" fill-opacity="0.75"/>
<circle cx="537.3" cy="435.32" r="1.3" fill="#333" fill-opacity="0.75"/>
<circle cx="537.3" cy="430.68" r="1.3" fill="#333" fill-opacity="0.75"/>
<line x1="521.2" y1="488.3" x2="553.4" y2="488.3" stroke="#111" stroke-width="1.5"/>
<text x="513.9" y="419.56" font-size="7.5" text-anchor="middle" font-weight="normal" fill="#000" font-family='"Liberation Sans", sans-serif' stroke="#000" stroke-width="0.12">p&lt;0.0001</text>
<rect x="463.8" y="410.6" width="100.8" height="81.2" fill="none" stroke="#666" stroke-width="0.6"/>
<rect x="463.8" y="399.8" width="100.8" height="10.8" fill="#d9d9d9" stroke="#666" stroke-width="0.6"/>
<text x="514.2" y="407.36" font-size="5.8" text-anchor="middle" font-weight="normal" fill="#1a1a1a" font-family='"Liberation Sans", sans-serif' stroke="#1a1a1a" stroke-width="0.12">MYB</text>
<rect x="568.7" y="410.6" width="100.8" height="81.2" fill="#fff"/>
<path d="M568.7 488.3H669.5M568.7 479.7H669.5M568.7 471.1H669.5M568.7 462.5H669.5M568.7 453.9H669.5M568.7 445.3H669.5M568.7 436.7H669.5M568.7 428.1H669.5M568.7 419.5H669.5" fill="none" stroke="#ebebeb" stroke-width="0.5"/>
<path d="M596.45 410.6V491.8M642.2 410.6V491.8" fill="none" stroke="#ebebeb" stroke-width="0.5"/>
<line x1="596.2" y1="419.5" x2="642.2" y2="419.5" stroke="#c0c0c0" stroke-width="0.7"/>
<line x1="596.45" y1="476.26" x2="596.45" y2="459.75" stroke="#333" stroke-width="0.7"/>
<line x1="596.45" y1="459.4" x2="596.45" y2="436.7" stroke="#000" stroke-width="3" stroke-linecap="round"/>
<circle cx="596.45" cy="434.98" r="1.3" fill="#333" fill-opacity="0.75"/>
<rect x="580.35" y="476.26" width="32.2" height="12.04" fill="#d0918a" stroke="#333" stroke-width="0.7"/>
<line x1="580.35" y1="488.3" x2="612.55" y2="488.3" stroke="#111" stroke-width="1.4"/>
<line x1="642.2" y1="487.96" x2="642.2" y2="435.84" stroke="#000" stroke-width="3" stroke-linecap="round"/>
<circle cx="642.2" cy="435.32" r="1.3" fill="#333" fill-opacity="0.75"/>
<line x1="626.1" y1="488.3" x2="658.3" y2="488.3" stroke="#111" stroke-width="1.5"/>
<text x="618.8" y="419.56" font-size="7.5" text-anchor="middle" font-weight="normal" fill="#000" font-family='"Liberation Sans", sans-serif' stroke="#000" stroke-width="0.12">p&lt;0.0001</text>
<rect x="568.7" y="410.6" width="100.8" height="81.2" fill="none" stroke="#666" stroke-width="0.6"/>
<rect x="568.7" y="399.8" width="100.8" height="10.8" fill="#d9d9d9" stroke="#666" stroke-width="0.6"/>
<text x="619.1" y="407.36" font-size="5.8" text-anchor="middle" font-weight="normal" fill="#1a1a1a" font-family='"Liberation Sans", sans-serif' stroke="#1a1a1a" stroke-width="0.12">MYL6B</text>
<rect x="359" y="506.4" width="100.8" height="81.2" fill="#fff"/>
<path d="M359 584.1H459.8M359 575.5H459.8M359 566.9H459.8M359 558.3H459.8M359 549.7H459.8M359 541.1H459.8M359 532.5H459.8M359 523.9H459.8M359 515.3H459.8" fill="none" stroke="#ebebeb" stroke-width="0.5"/>
<path d="M386.75 506.4V587.6M432.5 506.4V587.6" fill="none" stroke="#ebebeb" stroke-width="0.5"/>
<line x1="386.5" y1="515.3" x2="432.5" y2="515.3" stroke="#c0c0c0" stroke-width="0.7"/>
<line x1="386.75" y1="567.93" x2="386.75" y2="544.88" stroke="#333" stroke-width="0.7"/>
<line x1="386.75" y1="544.54" x2="386.75" y2="524.76" stroke="#000" stroke-width="3" stroke-linecap="round"/>
<circle cx="386.75" cy="523.56" r="1.3" fill="#333" fill-opacity="0.75"/>
<circle cx="386.75" cy="522.52" r="1.3" fill="#333" fill-opacity="0.75"/>
<circle cx="386.75" cy="517.02" r="1.3" fill="#333" fill-opacity="0.75"/>
<rect x="370.65" y="567.93" width="32.2" height="16.17" fill="#d0918a" stroke="#333" stroke-width="0.7"/>
<line x1="370.65" y1="577.22" x2="402.85" y2="577.22" stroke="#111" stroke-width="1.4"/>
<line x1="432.5" y1="577.22" x2="432.5" y2="568.45" stroke="#333" stroke-width="0.7"/>
<line x1="432.5" y1="568.1" x2="432.5" y2="527.34" stroke="#000" stroke-width="3" stroke-linecap="round"/>
<circle cx="432.5" cy="524.76" r="1.3" fill="#333" fill-opacity="0.75"/>
<rect x="416.4" y="577.22" width="32.2" height="6.88" fill="#8080ff" stroke="#333" stroke-width="0.7"/>
<line x1="416.4" y1="583.76" x2="448.6" y2="583.76" stroke="#111" stroke-width="1.4"/>
<text x="409.1" y="515.36" font-size="7.5" text-anchor="middle" font-weight="normal" fill="#000" font-family='"Liberation Sans", sans-serif' stroke="#000" stroke-width="0.12">p&lt;0.0001</text>
<rect x="359" y="506.4" width="100.8" height="81.2" fill="none" stroke="#666" stroke-width="0.6"/>
<rect x="359" y="495.6" width="100.8" height="10.8" fill="#d9d9d9" stroke="#666" stroke-width="0.6"/>
<text x="409.4" y="503.16" font-size="5.8" text-anchor="middle" font-weight="normal" fill="#1a1a1a" font-family='"Liberation Sans", sans-serif' stroke="#1a1a1a" stroke-width="0.12">PAN3</text>
<line x1="356.7" y1="584.1" x2="359" y2="584.1" stroke="#333" stroke-width="0.8"/>
<text x="355.4" y="586.34" font-size="6.3" text-anchor="end" font-weight="normal" fill="#666" font-family='"Liberation Sans", sans-serif' stroke="#666" stroke-width="0.12">0</text>
<line x1="356.7" y1="566.9" x2="359" y2="566.9" stroke="#333" stroke-width="0.8"/>
<text x="355.4" y="569.14" font-size="6.3" text-anchor="end" font-weight="normal" fill="#666" font-family='"Liberation Sans", sans-serif' stroke="#666" stroke-width="0.12">1</text>
<line x1="356.7" y1="549.7" x2="359" y2="549.7" stroke="#333" stroke-width="0.8"/>
<text x="355.4" y="551.94" font-size="6.3" text-anchor="end" font-weight="normal" fill="#666" font-family='"Liberation Sans", sans-serif' stroke="#666" stroke-width="0.12">2</text>
<line x1="356.7" y1="532.5" x2="359" y2="532.5" stroke="#333" stroke-width="0.8"/>
<text x="355.4" y="534.74" font-size="6.3" text-anchor="end" font-weight="normal" fill="#666" font-family='"Liberation Sans", sans-serif' stroke="#666" stroke-width="0.12">3</text>
<line x1="356.7" y1="515.3" x2="359" y2="515.3" stroke="#333" stroke-width="0.8"/>
<text x="355.4" y="517.54" font-size="6.3" text-anchor="end" font-weight="normal" fill="#666" font-family='"Liberation Sans", sans-serif' stroke="#666" stroke-width="0.12">4</text>
<line x1="386.75" y1="587.6" x2="386.75" y2="589.9" stroke="#333" stroke-width="0.75"/>
<text x="386.75" y="595.53" font-size="6" text-anchor="middle" font-weight="normal" fill="#4d4d4d" font-family='"Liberation Sans", sans-serif' stroke="#4d4d4d" stroke-width="0.12">Malignant</text>
<line x1="432.5" y1="587.6" x2="432.5" y2="589.9" stroke="#333" stroke-width="0.75"/>
<text x="432.5" y="595.53" font-size="6" text-anchor="middle" font-weight="normal" fill="#4d4d4d" font-family='"Liberation Sans", sans-serif' stroke="#4d4d4d" stroke-width="0.12">Normal</text>
<rect x="463.8" y="506.4" width="100.8" height="81.2" fill="#fff"/>
<path d="M463.8 584.1H564.6M463.8 575.5H564.6M463.8 566.9H564.6M463.8 558.3H564.6M463.8 549.7H564.6M463.8 541.1H564.6M463.8 532.5H564.6M463.8 523.9H564.6M463.8 515.3H564.6" fill="none" stroke="#ebebeb" stroke-width="0.5"/>
<path d="M491.55 506.4V587.6M537.3 506.4V587.6" fill="none" stroke="#ebebeb" stroke-width="0.5"/>
<line x1="491.3" y1="515.3" x2="537.3" y2="515.3" stroke="#c0c0c0" stroke-width="0.7"/>
<line x1="491.55" y1="565.7" x2="491.55" y2="539.38" stroke="#333" stroke-width="0.7"/>
<line x1="491.55" y1="539.04" x2="491.55" y2="527.34" stroke="#000" stroke-width="3" stroke-linecap="round"/>
<circle cx="491.55" cy="524.76" r="1.3" fill="#333" fill-opacity="0.75"/>
<rect x="475.45" y="565.7" width="32.2" height="18.4" fill="#d0918a" stroke="#333" stroke-width="0.7"/>
<line x1="475.45" y1="573.09" x2="507.65" y2="573.09" stroke="#111" stroke-width="1.4"/>
<line x1="537.3" y1="572.75" x2="537.3" y2="556.58" stroke="#333" stroke-width="0.7"/>
<line x1="537.3" y1="556.24" x2="537.3" y2="529.06" stroke="#000" stroke-width="3" stroke-linecap="round"/>
<circle cx="537.3" cy="527.34" r="1.3" fill="#333" fill-opacity="0.75"/>
<rect x="521.2" y="572.75" width="32.2" height="11.35" fill="#8080ff" stroke="#333" stroke-width="0.7"/>
<line x1="521.2" y1="584.1" x2="553.4" y2="584.1" stroke="#111" stroke-width="1.4"/>
<text x="513.9" y="515.36" font-size="7.5" text-anchor="middle" font-weight="normal" fill="#000" font-family='"Liberation Sans", sans-serif' stroke="#000" stroke-width="0.12">p&lt;0.0001</text>
<rect x="463.8" y="506.4" width="100.8" height="81.2" fill="none" stroke="#666" stroke-width="0.6"/>
<rect x="463.8" y="495.6" width="100.8" height="10.8" fill="#d9d9d9" stroke="#666" stroke-width="0.6"/>
<text x="514.2" y="503.16" font-size="5.8" text-anchor="middle" font-weight="normal" fill="#1a1a1a" font-family='"Liberation Sans", sans-serif' stroke="#1a1a1a" stroke-width="0.12">SYNCRIP</text>
<line x1="491.55" y1="587.6" x2="491.55" y2="589.9" stroke="#333" stroke-width="0.75"/>
<text x="491.55" y="595.53" font-size="6" text-anchor="middle" font-weight="normal" fill="#4d4d4d" font-family='"Liberation Sans", sans-serif' stroke="#4d4d4d" stroke-width="0.12">Malignant</text>
<line x1="537.3" y1="587.6" x2="537.3" y2="589.9" stroke="#333" stroke-width="0.75"/>
<text x="537.3" y="595.53" font-size="6" text-anchor="middle" font-weight="normal" fill="#4d4d4d" font-family='"Liberation Sans", sans-serif' stroke="#4d4d4d" stroke-width="0.12">Normal</text>
<rect x="568.7" y="506.4" width="100.8" height="81.2" fill="#fff"/>
<path d="M568.7 584.1H669.5M568.7 575.5H669.5M568.7 566.9H669.5M568.7 558.3H669.5M568.7 549.7H669.5M568.7 541.1H669.5M568.7 532.5H669.5M568.7 523.9H669.5M568.7 515.3H669.5" fill="none" stroke="#ebebeb" stroke-width="0.5"/>
<path d="M596.45 506.4V587.6M642.2 506.4V587.6" fill="none" stroke="#ebebeb" stroke-width="0.5"/>
<line x1="596.2" y1="515.3" x2="642.2" y2="515.3" stroke="#c0c0c0" stroke-width="0.7"/>
<line x1="596.45" y1="558.99" x2="596.45" y2="517.88" stroke="#333" stroke-width="0.7"/>
<circle cx="596.45" cy="514.44" r="1.3" fill="#333" fill-opacity="0.75"/>
<rect x="580.35" y="558.99" width="32.2" height="25.11" fill="#d0918a" stroke="#333" stroke-width="0.7"/>
<line x1="580.35" y1="566.56" x2="612.55" y2="566.56" stroke="#111" stroke-width="1.4"/>
<line x1="642.2" y1="564.15" x2="642.2" y2="533.36" stroke="#333" stroke-width="0.7"/>
<line x1="642.2" y1="533.02" x2="642.2" y2="522.18" stroke="#000" stroke-width="3" stroke-linecap="round"/>
<circle cx="642.2" cy="521.32" r="1.3" fill="#333" fill-opacity="0.75"/>
<rect x="626.1" y="564.15" width="32.2" height="19.95" fill="#8080ff" stroke="#333" stroke-width="0.7"/>
<line x1="626.1" y1="584.1" x2="658.3" y2="584.1" stroke="#111" stroke-width="1.4"/>
<text x="618.8" y="515.36" font-size="7.5" text-anchor="middle" font-weight="normal" fill="#000" font-family='"Liberation Sans", sans-serif' stroke="#000" stroke-width="0.12">p&lt;0.0001</text>
<rect x="568.7" y="506.4" width="100.8" height="81.2" fill="none" stroke="#666" stroke-width="0.6"/>
<rect x="568.7" y="495.6" width="100.8" height="10.8" fill="#d9d9d9" stroke="#666" stroke-width="0.6"/>
<text x="619.1" y="503.16" font-size="5.8" text-anchor="middle" font-weight="normal" fill="#1a1a1a" font-family='"Liberation Sans", sans-serif' stroke="#1a1a1a" stroke-width="0.12">TAF1D</text>
<line x1="596.45" y1="587.6" x2="596.45" y2="589.9" stroke="#333" stroke-width="0.75"/>
<text x="596.45" y="595.53" font-size="6" text-anchor="middle" font-weight="normal" fill="#4d4d4d" font-family='"Liberation Sans", sans-serif' stroke="#4d4d4d" stroke-width="0.12">Malignant</text>
<line x1="642.2" y1="587.6" x2="642.2" y2="589.9" stroke="#333" stroke-width="0.75"/>
<text x="642.2" y="595.53" font-size="6" text-anchor="middle" font-weight="normal" fill="#4d4d4d" font-family='"Liberation Sans", sans-serif' stroke="#4d4d4d" stroke-width="0.12">Normal</text>
<text x="514.5" y="604.23" font-size="7.4" text-anchor="middle" font-weight="normal" fill="#000" font-family='"Liberation Sans", sans-serif' stroke="#000" stroke-width="0.12">Classification</text>
<text x="339.7" y="471.76" font-size="10.6" text-anchor="middle" font-weight="normal" fill="#000" font-family='"Liberation Sans", sans-serif' transform="rotate(-90 339.7 468)" stroke="#000" stroke-width="0.12">Normalized Expression</text>
<text x="0.4" y="648.8" font-size="36.8" text-anchor="start" font-weight="normal" fill="#000" font-family='"Liberation Serif", serif'>d</text>
<text x="168.6" y="635.41" font-size="9.6" text-anchor="middle" font-weight="normal" fill="#000" font-family='"Liberation Sans", sans-serif' stroke="#000" stroke-width="0.12">Adult AML (Van Galen 2019)</text>
<rect x="69.9" y="642.7" width="195.8" height="46.6" fill="#fff"/>
<path d="M69.9 687.2H265.7M69.9 681.3H265.7M69.9 675.4H265.7M69.9 669.5H265.7M69.9 663.6H265.7M69.9 657.7H265.7M69.9 651.8H265.7M69.9 645.9H265.7M82.25 642.7V689.3M103.55 642.7V689.3M124.85 642.7V689.3M146.15 642.7V689.3M167.45 642.7V689.3M188.75 642.7V689.3M210.05 642.7V689.3M231.35 642.7V689.3M252.65 642.7V689.3" fill="none" stroke="#ebebeb" stroke-width="0.5"/>
<rect x="72.65" y="675.99" width="19.2" height="11.21" fill="#d3d3d3"/>
<rect x="93.95" y="655.93" width="19.2" height="31.27" fill="#d3d3d3"/>
<rect x="115.25" y="677.17" width="19.2" height="10.03" fill="#d3d3d3"/>
<rect x="136.55" y="645.61" width="19.2" height="41.59" fill="#d3d3d3"/>
<rect x="157.85" y="647.67" width="19.2" height="39.53" fill="#d3d3d3"/>
<rect x="179.15" y="682.78" width="19.2" height="4.42" fill="#d3d3d3"/>
<rect x="200.45" y="652.1" width="19.2" height="35.1" fill="#d3d3d3"/>
<rect x="221.75" y="681.48" width="19.2" height="5.72" fill="#d3d3d3"/>
<rect x="243.05" y="663.01" width="19.2" height="24.19" fill="#d3d3d3"/>
<rect x="69.9" y="642.7" width="195.8" height="46.6" fill="none" stroke="#333" stroke-width="0.6"/>
<line x1="67.7" y1="687.2" x2="69.9" y2="687.2" stroke="#333" stroke-width="0.75"/>
<text x="66.9" y="689.61" font-size="6.8" text-anchor="end" font-weight="normal" fill="#4d4d4d" font-family='"Liberation Sans", sans-serif' stroke="#4d4d4d" stroke-width="0.12">0.0</text>
<line x1="67.7" y1="675.4" x2="69.9" y2="675.4" stroke="#333" stroke-width="0.75"/>
<text x="66.9" y="677.81" font-size="6.8" text-anchor="end" font-weight="normal" fill="#4d4d4d" font-family='"Liberation Sans", sans-serif' stroke="#4d4d4d" stroke-width="0.12">0.2</text>
<line x1="67.7" y1="663.6" x2="69.9" y2="663.6" stroke="#333" stroke-width="0.75"/>
<text x="66.9" y="666.01" font-size="6.8" text-anchor="end" font-weight="normal" fill="#4d4d4d" font-family='"Liberation Sans", sans-serif' stroke="#4d4d4d" stroke-width="0.12">0.4</text>
<line x1="67.7" y1="651.8" x2="69.9" y2="651.8" stroke="#333" stroke-width="0.75"/>
<text x="66.9" y="654.21" font-size="6.8" text-anchor="end" font-weight="normal" fill="#4d4d4d" font-family='"Liberation Sans", sans-serif' stroke="#4d4d4d" stroke-width="0.12">0.6</text>
<line x1="82.25" y1="689.3" x2="82.25" y2="691.5" stroke="#333" stroke-width="0.75"/>
<line x1="103.55" y1="689.3" x2="103.55" y2="691.5" stroke="#333" stroke-width="0.75"/>
<line x1="124.85" y1="689.3" x2="124.85" y2="691.5" stroke="#333" stroke-width="0.75"/>
<line x1="146.15" y1="689.3" x2="146.15" y2="691.5" stroke="#333" stroke-width="0.75"/>
<line x1="167.45" y1="689.3" x2="167.45" y2="691.5" stroke="#333" stroke-width="0.75"/>
<line x1="188.75" y1="689.3" x2="188.75" y2="691.5" stroke="#333" stroke-width="0.75"/>
<line x1="210.05" y1="689.3" x2="210.05" y2="691.5" stroke="#333" stroke-width="0.75"/>
<line x1="231.35" y1="689.3" x2="231.35" y2="691.5" stroke="#333" stroke-width="0.75"/>
<line x1="252.65" y1="689.3" x2="252.65" y2="691.5" stroke="#333" stroke-width="0.75"/>
<text x="44.6" y="667.98" font-size="8.4" text-anchor="middle" font-weight="normal" fill="#000" font-family='"Liberation Sans", sans-serif' transform="rotate(-90 44.6 665)" stroke="#000" stroke-width="0.12">Average</text>
<rect x="69.9" y="696.4" width="195.8" height="186.6" fill="#fff"/>
<rect x="71.6" y="699.3" width="21.3" height="30.28" fill="#fff9f7" stroke="#444" stroke-width="0.45"/>
<rect x="92.9" y="699.3" width="21.3" height="30.28" fill="#ff4c2e" stroke="#444" stroke-width="0.45"/>
<rect x="114.2" y="699.3" width="21.3" height="30.28" fill="#ffece5" stroke="#444" stroke-width="0.45"/>
<rect x="135.5" y="699.3" width="21.3" height="30.28" fill="#ff3017" stroke="#444" stroke-width="0.45"/>
<rect x="156.8" y="699.3" width="21.3" height="30.28" fill="#ff3017" stroke="#444" stroke-width="0.45"/>
<rect x="178.1" y="699.3" width="21.3" height="30.28" fill="#fff9f7" stroke="#444" stroke-width="0.45"/>
<rect x="199.4" y="699.3" width="21.3" height="30.28" fill="#ffaa8f" stroke="#444" stroke-width="0.45"/>
<rect x="220.7" y="699.3" width="21.3" height="30.28" fill="#fff2ed" stroke="#444" stroke-width="0.45"/>
<rect x="242" y="699.3" width="21.3" height="30.28" fill="#ffc8b5" stroke="#444" stroke-width="0.45"/>
<rect x="71.6" y="729.58" width="21.3" height="30.28" fill="#ffbfaa" stroke="#444" stroke-width="0.45"/>
<rect x="92.9" y="729.58" width="21.3" height="30.28" fill="#ff7b5a" stroke="#444" stroke-width="0.45"/>
<rect x="114.2" y="729.58" width="21.3" height="30.28" fill="#ffcebd" stroke="#444" stroke-width="0.45"/>
<rect x="135.5" y="729.58" width="21.3" height="30.28" fill="#ff805f" stroke="#444" stroke-width="0.45"/>
<rect x="156.8" y="729.58" width="21.3" height="30.28" fill="#ff3017" stroke="#444" stroke-width="0.45"/>
<rect x="178.1" y="729.58" width="21.3" height="30.28" fill="#ffe8df" stroke="#444" stroke-width="0.45"/>
<rect x="199.4" y="729.58" width="21.3" height="30.28" fill="#ff4c2e" stroke="#444" stroke-width="0.45"/>
<rect x="220.7" y="729.58" width="21.3" height="30.28" fill="#ffe2d7" stroke="#444" stroke-width="0.45"/>
<rect x="242" y="729.58" width="21.3" height="30.28" fill="#ff987a" stroke="#444" stroke-width="0.45"/>
<rect x="71.6" y="759.86" width="21.3" height="30.28" fill="#fff7f4" stroke="#444" stroke-width="0.45"/>
<rect x="92.9" y="759.86" width="21.3" height="30.28" fill="#ffc3af" stroke="#444" stroke-width="0.45"/>
<rect x="114.2" y="759.86" width="21.3" height="30.28" fill="#fff7f4" stroke="#444" stroke-width="0.45"/>
<rect x="135.5" y="759.86" width="21.3" height="30.28" fill="#ff4c2e" stroke="#444" stroke-width="0.45"/>
<rect x="156.8" y="759.86" width="21.3" height="30.28" fill="#ffa387" stroke="#444" stroke-width="0.45"/>
<rect x="178.1" y="759.86" width="21.3" height="30.28" fill="#ffffff" stroke="#444" stroke-width="0.45"/>
<rect x="199.4" y="759.86" width="21.3" height="30.28" fill="#ffbfaa" stroke="#444" stroke-width="0.45"/>
<rect x="220.7" y="759.86" width="21.3" height="30.28" fill="#fff9f7" stroke="#444" stroke-width="0.45"/>
<rect x="242" y="759.86" width="21.3" height="30.28" fill="#ffd4c5" stroke="#444" stroke-width="0.45"/>
<rect x="71.6" y="790.14" width="21.3" height="30.28" fill="#ffb9a2" stroke="#444" stroke-width="0.45"/>
<rect x="92.9" y="790.14" width="21.3" height="30.28" fill="#ff987a" stroke="#444" stroke-width="0.45"/>
<rect x="114.2" y="790.14" width="21.3" height="30.28" fill="#ffd8ca" stroke="#444" stroke-width="0.45"/>
<rect x="135.5" y="790.14" width="21.3" height="30.28" fill="#ff805f" stroke="#444" stroke-width="0.45"/>
<rect x="156.8" y="790.14" width="21.3" height="30.28" fill="#ff8565" stroke="#444" stroke-width="0.45"/>
<rect x="178.1" y="790.14" width="21.3" height="30.28" fill="#ffece5" stroke="#444" stroke-width="0.45"/>
<rect x="199.4" y="790.14" width="21.3" height="30.28" fill="#ff4c2e" stroke="#444" stroke-width="0.45"/>
<rect x="220.7" y="790.14" width="21.3" height="30.28" fill="#ffe8df" stroke="#444" stroke-width="0.45"/>
<rect x="242" y="790.14" width="21.3" height="30.28" fill="#ff7b5a" stroke="#444" stroke-width="0.45"/>
<rect x="71.6" y="820.42" width="21.3" height="30.28" fill="#ffd4c5" stroke="#444" stroke-width="0.45"/>
<rect x="92.9" y="820.42" width="21.3" height="30.28" fill="#ff0000" stroke="#444" stroke-width="0.45"/>
<rect x="114.2" y="820.42" width="21.3" height="30.28" fill="#ffc8b5" stroke="#444" stroke-width="0.45"/>
<rect x="135.5" y="820.42" width="21.3" height="30.28" fill="#ff7352" stroke="#444" stroke-width="0.45"/>
<rect x="156.8" y="820.42" width="21.3" height="30.28" fill="#ff3d21" stroke="#444" stroke-width="0.45"/>
<rect x="178.1" y="820.42" width="21.3" height="30.28" fill="#ffe8df" stroke="#444" stroke-width="0.45"/>
<rect x="199.4" y="820.42" width="21.3" height="30.28" fill="#ff3017" stroke="#444" stroke-width="0.45"/>
<rect x="220.7" y="820.42" width="21.3" height="30.28" fill="#ffe8df" stroke="#444" stroke-width="0.45"/>
<rect x="242" y="820.42" width="21.3" height="30.28" fill="#ffb9a2" stroke="#444" stroke-width="0.45"/>
<rect x="71.6" y="850.7" width="21.3" height="30.28" fill="#ffe8df" stroke="#444" stroke-width="0.45"/>
<rect x="92.9" y="850.7" width="21.3" height="30.28" fill="#ffe2d7" stroke="#444" stroke-width="0.45"/>
<rect x="114.2" y="850.7" width="21.3" height="30.28" fill="#ffe2d7" stroke="#444" stroke-width="0.45"/>
<rect x="135.5" y="850.7" width="21.3" height="30.28" fill="#ff2410" stroke="#444" stroke-width="0.45"/>
<rect x="156.8" y="850.7" width="21.3" height="30.28" fill="#ff8c6d" stroke="#444" stroke-width="0.45"/>
<rect x="178.1" y="850.7" width="21.3" height="30.28" fill="#ffece5" stroke="#444" stroke-width="0.45"/>
<rect x="199.4" y="850.7" width="21.3" height="30.28" fill="#ffb29a" stroke="#444" stroke-width="0.45"/>
<rect x="220.7" y="850.7" width="21.3" height="30.28" fill="#fff2ed" stroke="#444" stroke-width="0.45"/>
<rect x="242" y="850.7" width="21.3" height="30.28" fill="#ffc3af" stroke="#444" stroke-width="0.45"/>
<rect x="69.9" y="696.4" width="195.8" height="186.6" fill="none" stroke="#333" stroke-width="0.6"/>
<line x1="67.7" y1="714.44" x2="69.9" y2="714.44" stroke="#333" stroke-width="0.75"/>
<text x="66.9" y="716.78" font-size="6.6" text-anchor="end" font-weight="normal" fill="#4d4d4d" font-family='"Liberation Sans", sans-serif' stroke="#4d4d4d" stroke-width="0.12">ProMono−like</text>
<line x1="67.7" y1="744.72" x2="69.9" y2="744.72" stroke="#333" stroke-width="0.75"/>
<text x="66.9" y="747.06" font-size="6.6" text-anchor="end" font-weight="normal" fill="#4d4d4d" font-family='"Liberation Sans", sans-serif' stroke="#4d4d4d" stroke-width="0.12">Prog−like</text>
<line x1="67.7" y1="775" x2="69.9" y2="775" stroke="#333" stroke-width="0.75"/>
<text x="66.9" y="777.34" font-size="6.6" text-anchor="end" font-weight="normal" fill="#4d4d4d" font-family='"Liberation Sans", sans-serif' stroke="#4d4d4d" stroke-width="0.12">Mono−like</text>
<line x1="67.7" y1="805.28" x2="69.9" y2="805.28" stroke="#333" stroke-width="0.75"/>
<text x="66.9" y="807.62" font-size="6.6" text-anchor="end" font-weight="normal" fill="#4d4d4d" font-family='"Liberation Sans", sans-serif' stroke="#4d4d4d" stroke-width="0.12">HSC−like</text>
<line x1="67.7" y1="835.56" x2="69.9" y2="835.56" stroke="#333" stroke-width="0.75"/>
<text x="66.9" y="837.9" font-size="6.6" text-anchor="end" font-weight="normal" fill="#4d4d4d" font-family='"Liberation Sans", sans-serif' stroke="#4d4d4d" stroke-width="0.12">GMP−like</text>
<line x1="67.7" y1="865.84" x2="69.9" y2="865.84" stroke="#333" stroke-width="0.75"/>
<text x="66.9" y="868.18" font-size="6.6" text-anchor="end" font-weight="normal" fill="#4d4d4d" font-family='"Liberation Sans", sans-serif' stroke="#4d4d4d" stroke-width="0.12">cDC−like</text>
<line x1="82.25" y1="883" x2="82.25" y2="885.2" stroke="#333" stroke-width="0.75"/>
<text x="82.25" y="889.06" font-size="7.2" text-anchor="end" font-weight="normal" fill="#4d4d4d" font-family='"Liberation Sans", sans-serif' transform="rotate(-90 82.25 886.5)" stroke="#4d4d4d" stroke-width="0.12">GNA15</text>
<line x1="103.55" y1="883" x2="103.55" y2="885.2" stroke="#333" stroke-width="0.75"/>
<text x="103.55" y="889.06" font-size="7.2" text-anchor="end" font-weight="normal" fill="#4d4d4d" font-family='"Liberation Sans", sans-serif' transform="rotate(-90 103.55 886.5)" stroke="#4d4d4d" stroke-width="0.12">MYB</text>
<line x1="124.85" y1="883" x2="124.85" y2="885.2" stroke="#333" stroke-width="0.75"/>
<text x="124.85" y="889.06" font-size="7.2" text-anchor="end" font-weight="normal" fill="#4d4d4d" font-family='"Liberation Sans", sans-serif' transform="rotate(-90 124.85 886.5)" stroke="#4d4d4d" stroke-width="0.12">CCNB1IP1</text>
<line x1="146.15" y1="883" x2="146.15" y2="885.2" stroke="#333" stroke-width="0.75"/>
<text x="146.15" y="889.06" font-size="7.2" text-anchor="end" font-weight="normal" fill="#4d4d4d" font-family='"Liberation Sans", sans-serif' transform="rotate(-90 146.15 886.5)" stroke="#4d4d4d" stroke-width="0.12">CCDC88A</text>
<line x1="167.45" y1="883" x2="167.45" y2="885.2" stroke="#333" stroke-width="0.75"/>
<text x="167.45" y="889.06" font-size="7.2" text-anchor="end" font-weight="normal" fill="#4d4d4d" font-family='"Liberation Sans", sans-serif' transform="rotate(-90 167.45 886.5)" stroke="#4d4d4d" stroke-width="0.12">SYNCRIP</text>
<line x1="188.75" y1="883" x2="188.75" y2="885.2" stroke="#333" stroke-width="0.75"/>
<text x="188.75" y="889.06" font-size="7.2" text-anchor="end" font-weight="normal" fill="#4d4d4d" font-family='"Liberation Sans", sans-serif' transform="rotate(-90 188.75 886.5)" stroke="#4d4d4d" stroke-width="0.12">HACD1</text>
<line x1="210.05" y1="883" x2="210.05" y2="885.2" stroke="#333" stroke-width="0.75"/>
<text x="210.05" y="889.06" font-size="7.2" text-anchor="end" font-weight="normal" fill="#4d4d4d" font-family='"Liberation Sans", sans-serif' transform="rotate(-90 210.05 886.5)" stroke="#4d4d4d" stroke-width="0.12">TAF1D</text>
<line x1="231.35" y1="883" x2="231.35" y2="885.2" stroke="#333" stroke-width="0.75"/>
<text x="231.35" y="889.06" font-size="7.2" text-anchor="end" font-weight="normal" fill="#4d4d4d" font-family='"Liberation Sans", sans-serif' transform="rotate(-90 231.35 886.5)" stroke="#4d4d4d" stroke-width="0.12">MYL6B</text>
<line x1="252.65" y1="883" x2="252.65" y2="885.2" stroke="#333" stroke-width="0.75"/>
<text x="252.65" y="889.06" font-size="7.2" text-anchor="end" font-weight="normal" fill="#4d4d4d" font-family='"Liberation Sans", sans-serif' transform="rotate(-90 252.65 886.5)" stroke="#4d4d4d" stroke-width="0.12">PAN3</text>
<text x="17.5" y="794.95" font-size="8.3" text-anchor="middle" font-weight="normal" fill="#000" font-family='"Liberation Sans", sans-serif' transform="rotate(-90 17.5 792)" stroke="#000" stroke-width="0.12">Malignant Cell Type</text>
<text x="168" y="930.95" font-size="8.3" text-anchor="middle" font-weight="normal" fill="#000" font-family='"Liberation Sans", sans-serif' stroke="#000" stroke-width="0.12">Pediatric Leukemia Signature</text>
<text x="120.4" y="945.99" font-size="7" text-anchor="start" font-weight="normal" fill="#000" font-family='"Liberation Sans", sans-serif' stroke="#000" stroke-width="0.12">Avg.</text>
<text x="120.4" y="954.99" font-size="7" text-anchor="start" font-weight="normal" fill="#000" font-family='"Liberation Sans", sans-serif' stroke="#000" stroke-width="0.12">Expression</text>
<defs><linearGradient id="gd" x1="0" x2="1" y1="0" y2="0">
<stop offset="0" stop-color="#ffffff"/>
<stop offset="0.1" stop-color="#ffece5"/>
<stop offset="0.2" stop-color="#ffd9cb"/>
<stop offset="0.3" stop-color="#ffc6b2"/>
<stop offset="0.4" stop-color="#ffb299"/>
<stop offset="0.5" stop-color="#ff9e81"/>
<stop offset="0.6" stop-color="#ff8969"/>
<stop offset="0.7" stop-color="#ff7352"/>
<stop offset="0.8" stop-color="#ff5b3a"/>
<stop offset="0.9" stop-color="#ff3e22"/>
<stop offset="1" stop-color="#ff0000"/>
</linearGradient></defs>
<rect x="166" y="938.7" width="43.3" height="9.6" fill="url(#gd)"/>
<line x1="173" y1="938.7" x2="173" y2="940.5" stroke="#fff" stroke-width="0.6"/>
<line x1="173" y1="946.5" x2="173" y2="948.3" stroke="#fff" stroke-width="0.6"/>
<text x="173" y="957.13" font-size="6" text-anchor="middle" font-weight="normal" fill="#333" font-family='"Liberation Sans", sans-serif' stroke="#333" stroke-width="0.12">0.25</text>
<line x1="188.9" y1="938.7" x2="188.9" y2="940.5" stroke="#fff" stroke-width="0.6"/>
<line x1="188.9" y1="946.5" x2="188.9" y2="948.3" stroke="#fff" stroke-width="0.6"/>
<text x="188.9" y="957.13" font-size="6" text-anchor="middle" font-weight="normal" fill="#333" font-family='"Liberation Sans", sans-serif' stroke="#333" stroke-width="0.12">0.50</text>
<line x1="205" y1="938.7" x2="205" y2="940.5" stroke="#fff" stroke-width="0.6"/>
<line x1="205" y1="946.5" x2="205" y2="948.3" stroke="#fff" stroke-width="0.6"/>
<text x="205" y="957.13" font-size="6" text-anchor="middle" font-weight="normal" fill="#333" font-family='"Liberation Sans", sans-serif' stroke="#333" stroke-width="0.12">0.75</text>
<text x="290.2" y="643.5" font-size="39.5" text-anchor="start" font-weight="normal" fill="#000" font-family='"Liberation Serif", serif'>e</text>
<text x="477.6" y="639.85" font-size="10" text-anchor="middle" font-weight="normal" fill="#000" font-family='"Liberation Sans", sans-serif' stroke="#000" stroke-width="0.12">Adult MPAL (Granja 2019)</text>
<rect x="333.5" y="646.2" width="290.1" height="139" fill="#fff"/>
<path d="M333.5 768.6H623.6M333.5 713.6H623.6M333.5 658.6H623.6" fill="none" stroke="#f3f3f3" stroke-width="0.5"/>
<path d="M333.5 741.1H623.6M333.5 686.1H623.6M357.5 646.2V785.2M397.7 646.2V785.2M437.9 646.2V785.2M478.1 646.2V785.2M518.3 646.2V785.2M558.5 646.2V785.2M598.7 646.2V785.2" fill="none" stroke="#e6e6e6" stroke-width="0.6"/>
<path d="M357.5 668.5C357.58 671.43 357.83 680.42 358 686.1C358.17 691.78 358 698.02 358.5 702.6C359 707.18 360.07 710.39 361 713.6C361.93 716.81 363.1 718.64 364.1 721.85C365.1 725.06 366.13 729.09 367 732.85C367.87 736.61 368.38 741.65 369.3 744.4C370.22 747.15 371.72 748.07 372.5 749.35C373.28 750.63 374.17 751 374 752.1C373.83 753.2 372.48 754.76 371.5 755.95C370.52 757.14 368.27 758.15 368.1 759.25C367.93 760.35 369.43 761.54 370.5 762.55C371.57 763.56 373.97 764.38 374.5 765.3C375.03 766.22 374.33 767.04 373.7 768.05C373.07 769.06 371.77 770.34 370.7 771.35C369.63 772.36 368.47 773.27 367.3 774.1C366.13 774.93 364.87 775.66 363.7 776.3C362.53 776.94 361.33 777.54 360.3 777.95C359.27 778.36 357.97 778.64 357.5 778.77L357.5 778.77C357.03 778.64 355.73 778.36 354.7 777.95C353.67 777.54 352.47 776.94 351.3 776.3C350.13 775.66 348.87 774.93 347.7 774.1C346.53 773.27 345.37 772.36 344.3 771.35C343.23 770.34 341.93 769.06 341.3 768.05C340.67 767.04 339.97 766.22 340.5 765.3C341.03 764.38 343.43 763.56 344.5 762.55C345.57 761.54 347.07 760.35 346.9 759.25C346.73 758.15 344.48 757.14 343.5 755.95C342.52 754.76 341.17 753.2 341 752.1C340.83 751 341.72 750.63 342.5 749.35C343.28 748.07 344.78 747.15 345.7 744.4C346.62 741.65 347.13 736.61 348 732.85C348.87 729.09 349.9 725.06 350.9 721.85C351.9 718.64 353.07 716.81 354 713.6C354.93 710.39 356 707.18 356.5 702.6C357 698.02 356.83 691.78 357 686.1C357.17 680.42 357.42 671.43 357.5 668.5Z" fill="#6e83fa" stroke="#333" stroke-width="0.6"/>
<line x1="341" y1="752.1" x2="374" y2="752.1" stroke="#333" stroke-width="0.9"/>
<path d="M397.7 686.65C397.83 689.31 398 697.65 398.5 702.6C399 707.55 399.83 712.68 400.7 716.35C401.57 720.02 402.53 721.39 403.7 724.6C404.87 727.81 406.45 732.39 407.7 735.6C408.95 738.81 410.03 741.56 411.2 743.85C412.37 746.14 413.95 747.98 414.7 749.35C415.45 750.73 416.03 751.09 415.7 752.1C415.37 753.11 413.58 754.3 412.7 755.4C411.82 756.5 410.4 757.6 410.4 758.7C410.4 759.8 411.9 761.08 412.7 762C413.5 762.92 414.93 763.38 415.2 764.2C415.47 765.03 414.95 765.94 414.3 766.95C413.65 767.96 412.4 769.24 411.3 770.25C410.2 771.26 408.93 772.22 407.7 773C406.47 773.78 405.1 774.38 403.9 774.93C402.7 775.48 401.53 775.93 400.5 776.3C399.47 776.67 398.17 776.99 397.7 777.12L397.7 777.12C397.23 776.99 395.93 776.67 394.9 776.3C393.87 775.93 392.7 775.48 391.5 774.93C390.3 774.38 388.93 773.78 387.7 773C386.47 772.22 385.2 771.26 384.1 770.25C383 769.24 381.75 767.96 381.1 766.95C380.45 765.94 379.93 765.03 380.2 764.2C380.47 763.38 381.9 762.92 382.7 762C383.5 761.08 385 759.8 385 758.7C385 757.6 383.58 756.5 382.7 755.4C381.82 754.3 380.03 753.11 379.7 752.1C379.37 751.09 379.95 750.73 380.7 749.35C381.45 747.98 383.03 746.14 384.2 743.85C385.37 741.56 386.45 738.81 387.7 735.6C388.95 732.39 390.53 727.81 391.7 724.6C392.87 721.39 393.83 720.02 394.7 716.35C395.57 712.68 396.4 707.55 396.9 702.6C397.4 697.65 397.57 689.31 397.7 686.65Z" fill="#74e9d5" stroke="#333" stroke-width="0.6"/>
<line x1="379.7" y1="752.1" x2="415.7" y2="752.1" stroke="#333" stroke-width="0.9"/>
<path d="M437.9 682.25C438.15 683.81 438.73 688.21 439.4 691.6C440.07 694.99 440.88 698.48 441.9 702.6C442.92 706.73 444.33 712.68 445.5 716.35C446.67 720.02 447.95 722.4 448.9 724.6C449.85 726.8 450.53 727.72 451.2 729.55C451.87 731.38 452.52 733.68 452.9 735.6C453.28 737.52 453.67 739.27 453.5 741.1C453.33 742.93 452.83 744.77 451.9 746.6C450.97 748.43 449.07 750.27 447.9 752.1C446.73 753.93 445.9 755.31 444.9 757.6C443.9 759.89 442.82 763.28 441.9 765.85C440.98 768.42 440.07 771.35 439.4 773C438.73 774.65 438.15 775.29 437.9 775.75L437.9 775.75C437.65 775.29 437.07 774.65 436.4 773C435.73 771.35 434.82 768.42 433.9 765.85C432.98 763.28 431.9 759.89 430.9 757.6C429.9 755.31 429.07 753.93 427.9 752.1C426.73 750.27 424.83 748.43 423.9 746.6C422.97 744.77 422.47 742.93 422.3 741.1C422.13 739.27 422.52 737.52 422.9 735.6C423.28 733.68 423.93 731.38 424.6 729.55C425.27 727.72 425.95 726.8 426.9 724.6C427.85 722.4 429.13 720.02 430.3 716.35C431.47 712.68 432.88 706.73 433.9 702.6C434.92 698.48 435.73 694.99 436.4 691.6C437.07 688.21 437.65 683.81 437.9 682.25Z" fill="#c0af7b" stroke="#333" stroke-width="0.6"/>
<line x1="422.54" y1="738.9" x2="453.26" y2="738.9" stroke="#333" stroke-width="0.9"/>
<path d="M478.1 672.35C478.27 674.83 478.43 683.08 479.1 687.2C479.77 691.33 480.82 693.34 482.1 697.1C483.38 700.86 485.55 706.08 486.8 709.75C488.05 713.42 488.85 716.08 489.6 719.1C490.35 722.12 491 725.15 491.3 727.9C491.6 730.65 491.45 733.31 491.4 735.6C491.35 737.89 491.55 739.36 491 741.65C490.45 743.94 489.17 746.69 488.1 749.35C487.03 752.01 485.6 755.12 484.6 757.6C483.6 760.08 482.93 761.91 482.1 764.2C481.27 766.49 480.27 769.52 479.6 771.35C478.93 773.18 478.35 774.56 478.1 775.2L478.1 775.2C477.85 774.56 477.27 773.18 476.6 771.35C475.93 769.52 474.93 766.49 474.1 764.2C473.27 761.91 472.6 760.08 471.6 757.6C470.6 755.12 469.17 752.01 468.1 749.35C467.03 746.69 465.75 743.94 465.2 741.65C464.65 739.36 464.85 737.89 464.8 735.6C464.75 733.31 464.6 730.65 464.9 727.9C465.2 725.15 465.85 722.12 466.6 719.1C467.35 716.08 468.15 713.42 469.4 709.75C470.65 706.08 472.82 700.86 474.1 697.1C475.38 693.34 476.43 691.33 477.1 687.2C477.77 683.08 477.93 674.83 478.1 672.35Z" fill="#f65a6e" stroke="#333" stroke-width="0.6"/>
<line x1="464.84" y1="732.85" x2="491.36" y2="732.85" stroke="#333" stroke-width="0.9"/>
<path d="M518.3 674C518.5 677.48 518.67 689.67 519.5 694.9C520.33 700.12 522.17 702.14 523.3 705.35C524.43 708.56 525.33 710.94 526.3 714.15C527.27 717.36 528.37 721.21 529.1 724.6C529.83 727.99 530.5 730.83 530.7 734.5C530.9 738.17 530.87 743.21 530.3 746.6C529.73 749.99 528.3 752.38 527.3 754.85C526.3 757.33 525.22 759.16 524.3 761.45C523.38 763.74 522.55 766.49 521.8 768.6C521.05 770.71 520.38 772.63 519.8 774.1C519.22 775.57 518.55 776.85 518.3 777.4L518.3 777.4C518.05 776.85 517.38 775.57 516.8 774.1C516.22 772.63 515.55 770.71 514.8 768.6C514.05 766.49 513.22 763.74 512.3 761.45C511.38 759.16 510.3 757.33 509.3 754.85C508.3 752.38 506.87 749.99 506.3 746.6C505.73 743.21 505.7 738.17 505.9 734.5C506.1 730.83 506.77 727.99 507.5 724.6C508.23 721.21 509.33 717.36 510.3 714.15C511.27 710.94 512.17 708.56 513.3 705.35C514.43 702.14 516.27 700.12 517.1 694.9C517.93 689.67 518.1 677.48 518.3 674Z" fill="#c98080" stroke="#333" stroke-width="0.6"/>
<line x1="506.06" y1="739.45" x2="530.54" y2="739.45" stroke="#333" stroke-width="0.9"/>
<path d="M558.5 652C558.57 655.85 558.65 668.41 558.9 675.1C559.15 681.79 559.32 687.57 560 692.15C560.68 696.73 562.08 699.3 563 702.6C563.92 705.9 564.5 708.74 565.5 711.95C566.5 715.16 567.97 718.55 569 721.85C570.03 725.15 571.32 728.54 571.7 731.75C572.08 734.96 571.5 738.62 571.3 741.1C571.1 743.58 571.22 744.31 570.5 746.6C569.78 748.89 568.17 751.92 567 754.85C565.83 757.78 564.5 761.45 563.5 764.2C562.5 766.95 561.7 769.24 561 771.35C560.3 773.46 559.72 775.57 559.3 776.85C558.88 778.13 558.63 778.68 558.5 779.05L558.5 779.05C558.37 778.68 558.12 778.13 557.7 776.85C557.28 775.57 556.7 773.46 556 771.35C555.3 769.24 554.5 766.95 553.5 764.2C552.5 761.45 551.17 757.78 550 754.85C548.83 751.92 547.22 748.89 546.5 746.6C545.78 744.31 545.9 743.58 545.7 741.1C545.5 738.62 544.92 734.96 545.3 731.75C545.68 728.54 546.97 725.15 548 721.85C549.03 718.55 550.5 715.16 551.5 711.95C552.5 708.74 553.08 705.9 554 702.6C554.92 699.3 556.32 696.73 557 692.15C557.68 687.57 557.85 681.79 558.1 675.1C558.35 668.41 558.43 655.85 558.5 652Z" fill="#fdb052" stroke="#333" stroke-width="0.6"/>
<line x1="545.44" y1="735.05" x2="571.56" y2="735.05" stroke="#333" stroke-width="0.9"/>
<path d="M598.7 702.6C599.3 702.6 601.58 702.33 602.3 702.6C603.02 702.88 602.9 702.42 603 704.25C603.1 706.08 602.85 710.3 602.9 713.6C602.95 716.9 602.9 720.84 603.3 724.05C603.7 727.26 604.53 730.01 605.3 732.85C606.07 735.69 607.27 738.35 607.9 741.1C608.53 743.85 609 746.88 609.1 749.35C609.2 751.83 608.8 754.12 608.5 755.95C608.2 757.78 607.67 759.16 607.3 760.35C606.93 761.54 607.73 762.64 606.3 763.1C604.87 763.56 599.97 763.1 598.7 763.1L598.7 763.1C597.43 763.1 592.53 763.56 591.1 763.1C589.67 762.64 590.47 761.54 590.1 760.35C589.73 759.16 589.2 757.78 588.9 755.95C588.6 754.12 588.2 751.83 588.3 749.35C588.4 746.88 588.87 743.85 589.5 741.1C590.13 738.35 591.33 735.69 592.1 732.85C592.87 730.01 593.7 727.26 594.1 724.05C594.5 720.84 594.45 716.9 594.5 713.6C594.55 710.3 594.3 706.08 594.4 704.25C594.5 702.42 594.38 702.88 595.1 702.6C595.82 702.33 598.1 702.6 598.7 702.6Z" fill="#bf7bbf" stroke="#333" stroke-width="0.6"/>
<line x1="589.5" y1="741.1" x2="607.9" y2="741.1" stroke="#333" stroke-width="0.9"/>
<rect x="333.5" y="646.2" width="290.1" height="139" fill="none" stroke="#333" stroke-width="0.6"/>
<line x1="331.3" y1="741.1" x2="333.5" y2="741.1" stroke="#333" stroke-width="0.75"/>
<text x="330.3" y="743.59" font-size="7" text-anchor="end" font-weight="normal" fill="#4d4d4d" font-family='"Liberation Sans", sans-serif' stroke="#4d4d4d" stroke-width="0.12">0</text>
<line x1="331.3" y1="686.1" x2="333.5" y2="686.1" stroke="#333" stroke-width="0.75"/>
<text x="330.3" y="688.59" font-size="7" text-anchor="end" font-weight="normal" fill="#4d4d4d" font-family='"Liberation Sans", sans-serif' stroke="#4d4d4d" stroke-width="0.12">1</text>
<line x1="357.5" y1="785.2" x2="357.5" y2="787.4" stroke="#333" stroke-width="0.75"/>
<text x="361.7" y="792.51" font-size="8.2" text-anchor="end" font-weight="normal" fill="#4d4d4d" font-family='"Liberation Sans", sans-serif' transform="rotate(-45 361.7 789.6)" stroke="#4d4d4d" stroke-width="0.12">Reference</text>
<line x1="397.7" y1="785.2" x2="397.7" y2="787.4" stroke="#333" stroke-width="0.75"/>
<text x="401.9" y="792.51" font-size="8.2" text-anchor="end" font-weight="normal" fill="#4d4d4d" font-family='"Liberation Sans", sans-serif' transform="rotate(-45 401.9 789.6)" stroke="#4d4d4d" stroke-width="0.12">Healthy_Like</text>
<line x1="437.9" y1="785.2" x2="437.9" y2="787.4" stroke="#333" stroke-width="0.75"/>
<text x="442.1" y="792.51" font-size="8.2" text-anchor="end" font-weight="normal" fill="#4d4d4d" font-family='"Liberation Sans", sans-serif' transform="rotate(-45 442.1 789.6)" stroke="#4d4d4d" stroke-width="0.12">Erythroid_Like</text>
<line x1="478.1" y1="785.2" x2="478.1" y2="787.4" stroke="#333" stroke-width="0.75"/>
<text x="482.3" y="792.51" font-size="8.2" text-anchor="end" font-weight="normal" fill="#4d4d4d" font-family='"Liberation Sans", sans-serif' transform="rotate(-45 482.3 789.6)" stroke="#4d4d4d" stroke-width="0.12">Lymphoid_Like</text>
<line x1="518.3" y1="785.2" x2="518.3" y2="787.4" stroke="#333" stroke-width="0.75"/>
<text x="522.5" y="792.51" font-size="8.2" text-anchor="end" font-weight="normal" fill="#4d4d4d" font-family='"Liberation Sans", sans-serif' transform="rotate(-45 522.5 789.6)" stroke="#4d4d4d" stroke-width="0.12">Myeloid_Like</text>
<line x1="558.5" y1="785.2" x2="558.5" y2="787.4" stroke="#333" stroke-width="0.75"/>
<text x="562.7" y="792.51" font-size="8.2" text-anchor="end" font-weight="normal" fill="#4d4d4d" font-family='"Liberation Sans", sans-serif' transform="rotate(-45 562.7 789.6)" stroke="#4d4d4d" stroke-width="0.12">Progenitor_Like</text>
<line x1="598.7" y1="785.2" x2="598.7" y2="787.4" stroke="#333" stroke-width="0.75"/>
<text x="602.9" y="792.51" font-size="8.2" text-anchor="end" font-weight="normal" fill="#4d4d4d" font-family='"Liberation Sans", sans-serif' transform="rotate(-45 602.9 789.6)" stroke="#4d4d4d" stroke-width="0.12">TNK_Like</text>
<text x="314.5" y="720.46" font-size="8.9" text-anchor="middle" font-weight="normal" fill="#000" font-family='"Liberation Sans", sans-serif' transform="rotate(-90 314.5 717.3)" stroke="#000" stroke-width="0.12">Pediatric Leukemia Module Score</text>
<text x="481.3" y="839.76" font-size="8.9" text-anchor="middle" font-weight="normal" fill="#000" font-family='"Liberation Sans", sans-serif' stroke="#000" stroke-width="0.12">Cell Type Classification</text>
<text x="631.2" y="674.91" font-size="6.8" text-anchor="start" font-weight="normal" fill="#000" font-family='"Liberation Sans", sans-serif' stroke="#000" stroke-width="0.12">Cell Type</text>
<rect x="631.2" y="679.2" width="10.4" height="10.3" fill="#6e83fa" stroke="#555" stroke-width="0.5"/>
<text x="645.2" y="686.32" font-size="5.7" text-anchor="start" font-weight="normal" fill="#000" font-family='"Liberation Sans", sans-serif' stroke="#000" stroke-width="0.12">Reference</text>
<rect x="631.2" y="690.07" width="10.4" height="10.3" fill="#74e9d5" stroke="#555" stroke-width="0.5"/>
<text x="645.2" y="697.19" font-size="5.7" text-anchor="start" font-weight="normal" fill="#000" font-family='"Liberation Sans", sans-serif' stroke="#000" stroke-width="0.12">Healthy_Like</text>
<rect x="631.2" y="700.94" width="10.4" height="10.3" fill="#c0af7b" stroke="#555" stroke-width="0.5"/>
<text x="645.2" y="708.06" font-size="5.7" text-anchor="start" font-weight="normal" fill="#000" font-family='"Liberation Sans", sans-serif' stroke="#000" stroke-width="0.12">Erythroid_Like</text>
<rect x="631.2" y="711.81" width="10.4" height="10.3" fill="#f65a6e" stroke="#555" stroke-width="0.5"/>
<text x="645.2" y="718.93" font-size="5.7" text-anchor="start" font-weight="normal" fill="#000" font-family='"Liberation Sans", sans-serif' stroke="#000" stroke-width="0.12">Lymphoid_Like</text>
<rect x="631.2" y="722.68" width="10.4" height="10.3" fill="#c98080" stroke="#555" stroke-width="0.5"/>
<text x="645.2" y="729.8" font-size="5.7" text-anchor="start" font-weight="normal" fill="#000" font-family='"Liberation Sans", sans-serif' stroke="#000" stroke-width="0.12">Myeloid_Like</text>
<rect x="631.2" y="733.55" width="10.4" height="10.3" fill="#fdb052" stroke="#555" stroke-width="0.5"/>
<text x="645.2" y="740.67" font-size="5.7" text-anchor="start" font-weight="normal" fill="#000" font-family='"Liberation Sans", sans-serif' stroke="#000" stroke-width="0.12">Progenitor_Like</text>
<rect x="631.2" y="744.42" width="10.4" height="10.3" fill="#bf7bbf" stroke="#555" stroke-width="0.5"/>
<text x="645.2" y="751.54" font-size="5.7" text-anchor="start" font-weight="normal" fill="#000" font-family='"Liberation Sans", sans-serif' stroke="#000" stroke-width="0.12">TNK_Like</text>
<text x="291.6" y="859.4" font-size="34" text-anchor="start" font-weight="normal" fill="#000" font-family='"Liberation Serif", serif'>f</text>
<rect x="333.6" y="856.3" width="290" height="69.8" fill="#fff"/>
<path d="M333.6 914.2H623.6M333.6 897H623.6M333.6 879.8H623.6M333.6 862.6H623.6M367.45 856.3V926.1M481.75 856.3V926.1M596.05 856.3V926.1" fill="none" stroke="#f3f3f3" stroke-width="0.5"/>
<path d="M333.6 922.8H623.6M333.6 905.6H623.6M333.6 888.4H623.6M333.6 871.2H623.6M424.6 856.3V926.1M538.9 856.3V926.1" fill="none" stroke="#e6e6e6" stroke-width="0.6"/>
<path d="M347.5 922.8C348.2 922.69 350.37 922.57 351.7 922.11C353.03 921.65 354.23 921.02 355.5 920.05C356.77 919.07 357.98 918.39 359.3 916.26C360.62 914.14 362.18 910.47 363.4 907.32C364.62 904.17 365.83 900.38 366.6 897.34C367.37 894.31 367.57 891.78 368 889.09C368.43 886.39 368.73 883.87 369.2 881.18C369.67 878.48 370.23 875.16 370.8 872.92C371.37 870.68 371.9 869.31 372.6 867.76C373.3 866.21 374.27 864.66 375 863.63C375.73 862.6 376.28 861.97 377 861.57C377.72 861.17 378.63 861.05 379.3 861.22C379.97 861.4 380.47 861.91 381 862.6C381.53 863.29 381.57 863.92 382.5 865.35C383.43 866.79 385.33 869.88 386.6 871.2C387.87 872.52 388.83 873.67 390.1 873.26C391.37 872.86 392.93 870.4 394.2 868.79C395.47 867.19 396.73 864.95 397.7 863.63C398.67 862.31 399.32 861.57 400 860.88C400.68 860.19 401.22 859.62 401.8 859.5C402.38 859.39 402.8 859.39 403.5 860.19C404.2 860.99 404.95 862.66 406 864.32C407.05 865.98 408.63 868.22 409.8 870.17C410.97 872.12 411.83 874.12 413 876.02C414.17 877.91 415.47 879.63 416.8 881.52C418.13 883.41 419.1 885.59 421 887.37C422.9 889.15 426.42 890.69 428.2 892.18C429.98 893.67 430.23 894.88 431.7 896.31C433.17 897.75 435.05 899.35 437 900.78C438.95 902.22 440.4 903.13 443.4 904.91C446.4 906.69 451.12 909.56 455 911.45C458.88 913.34 462.8 914.89 466.7 916.26C470.6 917.64 474.52 918.84 478.4 919.7C482.28 920.56 484.73 920.97 490 921.42C495.27 921.88 501.67 922.23 510 922.46C518.33 922.69 535 922.74 540 922.8Z" fill="#3ce3c5" stroke="#222" stroke-width="0.6" fill-opacity="0.6"/>
<path d="M347.6 922.8C348.83 922.69 352.37 922.4 355 922.11C357.63 921.83 360.55 921.94 363.4 921.08C366.25 920.22 369.33 918.67 372.1 916.95C374.87 915.23 377.68 912.42 380 910.76C382.32 909.1 383.82 908.24 386 906.98C388.18 905.71 390.45 904.97 393.1 903.19C395.75 901.41 399.42 898.61 401.9 896.31C404.38 894.02 406.03 891.73 408 889.43C409.97 887.14 412.23 884.04 413.7 882.55C415.17 881.06 415.75 881 416.8 880.49C417.85 879.97 418.83 879.8 420 879.46C421.17 879.11 421.85 878.65 423.8 878.42C425.75 878.19 429 878.25 431.7 878.08C434.4 877.91 438.05 877.48 440 877.39C441.95 877.31 441.67 877.33 443.4 877.56C445.13 877.79 448.47 878.05 450.4 878.77C452.33 879.48 453.25 880.43 455 881.86C456.75 883.3 458.57 885.25 460.9 887.37C463.23 889.49 466.08 892.24 469 894.59C471.92 896.94 474.9 899.18 478.4 901.47C481.9 903.77 486.4 906.17 490 908.35C493.6 910.53 497.17 913.05 500 914.54C502.83 916.03 504 916.49 507 917.3C510 918.1 514.17 918.79 518 919.36C521.83 919.93 526.33 920.36 530 920.74C533.67 921.11 535 921.32 540 921.6C545 921.87 553.33 922.21 560 922.39C566.67 922.56 571.67 922.59 580 922.66C588.33 922.73 605 922.78 610 922.8Z" fill="#be2634" stroke="#222" stroke-width="0.6" fill-opacity="0.6"/>
<path d="M346.5 922.8C347.08 922.63 348.65 922.4 350 921.77C351.35 921.14 353.43 919.93 354.6 919.02C355.77 918.1 356.22 917.3 357 916.26C357.78 915.23 358.43 914.66 359.3 912.82C360.17 910.99 361.33 907.84 362.2 905.26C363.07 902.68 363.87 899.92 364.5 897.34C365.13 894.76 365.52 892.47 366 889.78C366.48 887.08 366.92 883.93 367.4 881.18C367.88 878.42 368.38 875.44 368.9 873.26C369.42 871.09 369.95 869.42 370.5 868.1C371.05 866.79 371.65 865.98 372.2 865.35C372.75 864.72 373.23 864.21 373.8 864.32C374.37 864.43 374.83 864.84 375.6 866.04C376.37 867.24 377.25 869.14 378.4 871.54C379.55 873.95 381.33 878.37 382.5 880.49C383.67 882.61 384.23 884.39 385.4 884.27C386.57 884.16 388.23 881.63 389.5 879.8C390.77 877.97 391.83 875.21 393 873.26C394.17 871.31 395.33 869.31 396.5 868.1C397.67 866.9 399.08 866.33 400 866.04C400.92 865.75 401.1 865.7 402 866.38C402.9 867.07 404.15 868.51 405.4 870.17C406.65 871.83 408.12 874.3 409.5 876.36C410.88 878.42 412.45 880.83 413.7 882.55C414.95 884.27 415.75 885.42 417 886.68C418.25 887.94 419.48 889.2 421.2 890.12C422.92 891.04 425.55 891.38 427.3 892.18C429.05 892.99 430.08 893.85 431.7 894.94C433.32 896.03 435.05 897.4 437 898.72C438.95 900.04 440.4 901.19 443.4 902.85C446.4 904.51 451.12 906.98 455 908.7C458.88 910.42 462.8 911.73 466.7 913.17C470.6 914.6 474.52 916.15 478.4 917.3C482.28 918.44 486.4 919.36 490 920.05C493.6 920.74 495 921.03 500 921.42C505 921.81 510 922.16 520 922.39C530 922.62 553.33 922.73 560 922.8Z" fill="#3c64f5" stroke="#222" stroke-width="0.6" fill-opacity="0.6"/>
<rect x="333.6" y="856.3" width="290" height="69.8" fill="none" stroke="#333" stroke-width="0.6"/>
<line x1="331.4" y1="922.8" x2="333.6" y2="922.8" stroke="#333" stroke-width="0.75"/>
<text x="330.4" y="925.14" font-size="6.6" text-anchor="end" font-weight="normal" fill="#4d4d4d" font-family='"Liberation Sans", sans-serif' stroke="#4d4d4d" stroke-width="0.12">0.0</text>
<line x1="331.4" y1="905.6" x2="333.6" y2="905.6" stroke="#333" stroke-width="0.75"/>
<text x="330.4" y="907.94" font-size="6.6" text-anchor="end" font-weight="normal" fill="#4d4d4d" font-family='"Liberation Sans", sans-serif' stroke="#4d4d4d" stroke-width="0.12">0.5</text>
<line x1="331.4" y1="888.4" x2="333.6" y2="888.4" stroke="#333" stroke-width="0.75"/>
<text x="330.4" y="890.74" font-size="6.6" text-anchor="end" font-weight="normal" fill="#4d4d4d" font-family='"Liberation Sans", sans-serif' stroke="#4d4d4d" stroke-width="0.12">1.0</text>
<line x1="331.4" y1="871.2" x2="333.6" y2="871.2" stroke="#333" stroke-width="0.75"/>
<text x="330.4" y="873.54" font-size="6.6" text-anchor="end" font-weight="normal" fill="#4d4d4d" font-family='"Liberation Sans", sans-serif' stroke="#4d4d4d" stroke-width="0.12">1.5</text>
<line x1="424.6" y1="926.1" x2="424.6" y2="928.3" stroke="#333" stroke-width="0.75"/>
<text x="424.6" y="933.84" font-size="6.6" text-anchor="middle" font-weight="normal" fill="#4d4d4d" font-family='"Liberation Sans", sans-serif' stroke="#4d4d4d" stroke-width="0.12">0</text>
<line x1="538.9" y1="926.1" x2="538.9" y2="928.3" stroke="#333" stroke-width="0.75"/>
<text x="538.9" y="933.84" font-size="6.6" text-anchor="middle" font-weight="normal" fill="#4d4d4d" font-family='"Liberation Sans", sans-serif' stroke="#4d4d4d" stroke-width="0.12">1</text>
<text x="311.3" y="894.12" font-size="8.8" text-anchor="middle" font-weight="normal" fill="#000" font-family='"Liberation Sans", sans-serif' transform="rotate(-90 311.3 891)" stroke="#000" stroke-width="0.12">Density</text>
<text x="478.6" y="945.16" font-size="8.9" text-anchor="middle" font-weight="normal" fill="#000" font-family='"Liberation Sans", sans-serif' stroke="#000" stroke-width="0.12">Pediatric Leukemia Module Score</text>
<text x="632.9" y="873.13" font-size="6.85" text-anchor="start" font-weight="normal" fill="#000" font-family='"Liberation Sans", sans-serif' stroke="#000" stroke-width="0.12">Overall Type</text>
<rect x="632.6" y="877.3" width="10.3" height="10.6" fill="#8aeedc" stroke="#222" stroke-width="0.7"/>
<text x="647" y="884.62" font-size="5.7" text-anchor="start" font-weight="normal" fill="#000" font-family='"Liberation Sans", sans-serif' stroke="#000" stroke-width="0.12">Healthy_Like</text>
<rect x="632.6" y="887.9" width="10.3" height="10.6" fill="#d87d85" stroke="#222" stroke-width="0.7"/>
<text x="647" y="895.22" font-size="5.7" text-anchor="start" font-weight="normal" fill="#000" font-family='"Liberation Sans", sans-serif' stroke="#000" stroke-width="0.12">Malignant</text>
<rect x="632.6" y="898.5" width="10.3" height="10.6" fill="#8aa2f9" stroke="#222" stroke-width="0.7"/>
<text x="647" y="905.82" font-size="5.7" text-anchor="start" font-weight="normal" fill="#000" font-family='"Liberation Sans", sans-serif' stroke="#000" stroke-width="0.12">Reference</text>
</svg></body></html>
